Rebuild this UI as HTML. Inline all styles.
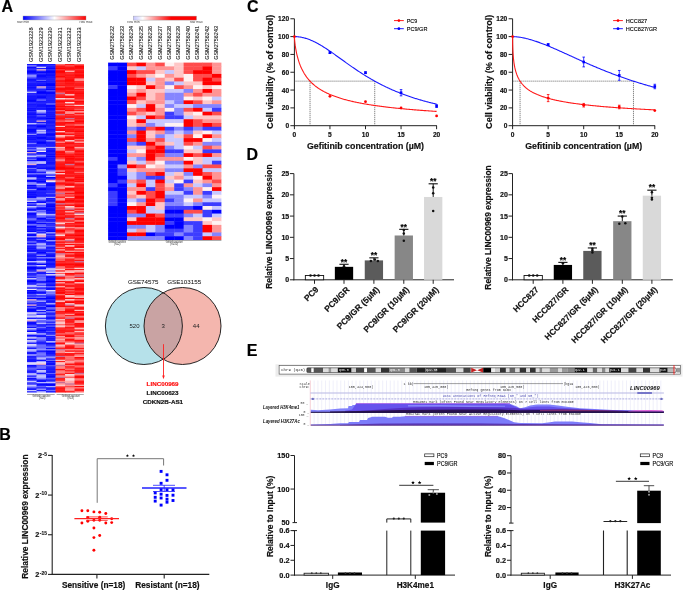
<!DOCTYPE html>
<html><head><meta charset="utf-8"><style>
html,body{margin:0;padding:0;background:#fff;}
svg{display:block;will-change:transform;font-family:"Liberation Sans",sans-serif;}

</style></head><body>
<svg font-family="Liberation Sans, sans-serif" width="685" height="590" viewBox="0 0 685 590">
<rect width="685" height="590" fill="#fff"/>
<text x="1.60" y="12.00" font-size="16" text-anchor="start" font-weight="bold" fill="#000"  stroke="#000" stroke-width="0.18">A</text>
<text x="-0.80" y="439.90" font-size="16" text-anchor="start" font-weight="bold" fill="#000"  stroke="#000" stroke-width="0.18">B</text>
<text x="247.00" y="12.40" font-size="16" text-anchor="start" font-weight="bold" fill="#000"  stroke="#000" stroke-width="0.18">C</text>
<text x="246.60" y="160.40" font-size="16" text-anchor="start" font-weight="bold" fill="#000"  stroke="#000" stroke-width="0.18">D</text>
<text x="246.70" y="355.70" font-size="16" text-anchor="start" font-weight="bold" fill="#000"  stroke="#000" stroke-width="0.18">E</text>
<defs><linearGradient id="g1" x1="0" x2="1" y1="0" y2="0"><stop offset="0" stop-color="#0000ff"/><stop offset="0.5" stop-color="#ffffff"/><stop offset="1" stop-color="#ff0000"/></linearGradient><linearGradient id="g2" x1="0" x2="1" y1="0" y2="0"><stop offset="0" stop-color="#c4c4ff"/><stop offset="0.15" stop-color="#ffffff"/><stop offset="0.6" stop-color="#ff0000"/><stop offset="1" stop-color="#ff0000"/></linearGradient><clipPath id="cl"><circle cx="143.9" cy="326" r="38.5"/></clipPath></defs>
<rect x="23.00" y="16.00" width="63.00" height="4.00" fill="url(#g1)" stroke="#999" stroke-width="0.4"/>
<text x="23.10" y="23.00" font-size="3.0" text-anchor="middle" font-weight="normal" fill="#444" textLength="12.4" lengthAdjust="spacingAndGlyphs">row min</text>
<text x="86.00" y="23.00" font-size="3.0" text-anchor="middle" font-weight="normal" fill="#444" textLength="13" lengthAdjust="spacingAndGlyphs">row max</text>
<text transform="translate(33.25,62.00) rotate(-90)" font-size="6.0" text-anchor="start" font-weight="normal" fill="#111" textLength="34.6" lengthAdjust="spacingAndGlyphs" stroke="#111" stroke-width="0.08">GSM1923228</text>
<text transform="translate(42.75,62.00) rotate(-90)" font-size="6.0" text-anchor="start" font-weight="normal" fill="#111" textLength="34.6" lengthAdjust="spacingAndGlyphs" stroke="#111" stroke-width="0.08">GSM1923229</text>
<text transform="translate(52.25,62.00) rotate(-90)" font-size="6.0" text-anchor="start" font-weight="normal" fill="#111" textLength="34.6" lengthAdjust="spacingAndGlyphs" stroke="#111" stroke-width="0.08">GSM1923230</text>
<text transform="translate(61.75,62.00) rotate(-90)" font-size="6.0" text-anchor="start" font-weight="normal" fill="#111" textLength="34.6" lengthAdjust="spacingAndGlyphs" stroke="#111" stroke-width="0.08">GSM1923231</text>
<text transform="translate(71.25,62.00) rotate(-90)" font-size="6.0" text-anchor="start" font-weight="normal" fill="#111" textLength="34.6" lengthAdjust="spacingAndGlyphs" stroke="#111" stroke-width="0.08">GSM1923232</text>
<text transform="translate(80.75,62.00) rotate(-90)" font-size="6.0" text-anchor="start" font-weight="normal" fill="#111" textLength="34.6" lengthAdjust="spacingAndGlyphs" stroke="#111" stroke-width="0.08">GSM1923233</text>
<rect x="27.00" y="64.00" width="57.00" height="328.50" fill="#fff" />
<rect x="27.00" y="64.00" width="9.90" height="1.71" fill="#1414ff" />
<rect x="36.50" y="64.00" width="9.90" height="1.71" fill="#1010ff" />
<rect x="46.00" y="64.00" width="9.90" height="1.71" fill="#1515ff" />
<rect x="55.50" y="64.00" width="9.90" height="1.71" fill="#ff6a6a" />
<rect x="65.00" y="64.00" width="9.90" height="1.71" fill="#ff1c1c" />
<rect x="74.50" y="64.00" width="9.50" height="1.71" fill="#ff5b5b" />
<rect x="27.00" y="65.31" width="9.90" height="1.71" fill="#7f7fff" />
<rect x="36.50" y="65.31" width="9.90" height="1.71" fill="#0101ff" />
<rect x="46.00" y="65.31" width="9.90" height="1.71" fill="#2222ff" />
<rect x="55.50" y="65.31" width="9.90" height="1.71" fill="#ff1616" />
<rect x="65.00" y="65.31" width="9.90" height="1.71" fill="#ff4747" />
<rect x="74.50" y="65.31" width="9.50" height="1.71" fill="#ff0202" />
<rect x="27.00" y="66.63" width="9.90" height="1.71" fill="#0808ff" />
<rect x="36.50" y="66.63" width="9.90" height="1.71" fill="#ddd8fa" />
<rect x="46.00" y="66.63" width="9.90" height="1.71" fill="#1d1dff" />
<rect x="55.50" y="66.63" width="9.90" height="1.71" fill="#ff1616" />
<rect x="65.00" y="66.63" width="9.90" height="1.71" fill="#ff1717" />
<rect x="74.50" y="66.63" width="9.50" height="1.71" fill="#ff0a0a" />
<rect x="27.00" y="67.94" width="9.90" height="1.71" fill="#2323ff" />
<rect x="36.50" y="67.94" width="9.90" height="1.71" fill="#1919ff" />
<rect x="46.00" y="67.94" width="9.90" height="1.71" fill="#0808ff" />
<rect x="55.50" y="67.94" width="9.90" height="1.71" fill="#ff0202" />
<rect x="65.00" y="67.94" width="9.90" height="1.71" fill="#ff0e0e" />
<rect x="74.50" y="67.94" width="9.50" height="1.71" fill="#ff0e0e" />
<rect x="27.00" y="69.26" width="9.90" height="1.71" fill="#1e1eff" />
<rect x="36.50" y="69.26" width="9.90" height="1.71" fill="#e6aac8" />
<rect x="46.00" y="69.26" width="9.90" height="1.71" fill="#2020ff" />
<rect x="55.50" y="69.26" width="9.90" height="1.71" fill="#ff2222" />
<rect x="65.00" y="69.26" width="9.90" height="1.71" fill="#ff0303" />
<rect x="74.50" y="69.26" width="9.50" height="1.71" fill="#ff1b1b" />
<rect x="27.00" y="70.57" width="9.90" height="1.71" fill="#0303ff" />
<rect x="36.50" y="70.57" width="9.90" height="1.71" fill="#2222ff" />
<rect x="46.00" y="70.57" width="9.90" height="1.71" fill="#0404ff" />
<rect x="55.50" y="70.57" width="9.90" height="1.71" fill="#ff0404" />
<rect x="65.00" y="70.57" width="9.90" height="1.71" fill="#ffbcbc" />
<rect x="74.50" y="70.57" width="9.50" height="1.71" fill="#ff1414" />
<rect x="27.00" y="71.88" width="9.90" height="1.71" fill="#0707ff" />
<rect x="36.50" y="71.88" width="9.90" height="1.71" fill="#0505ff" />
<rect x="46.00" y="71.88" width="9.90" height="1.71" fill="#0404ff" />
<rect x="55.50" y="71.88" width="9.90" height="1.71" fill="#ff0707" />
<rect x="65.00" y="71.88" width="9.90" height="1.71" fill="#ff2222" />
<rect x="74.50" y="71.88" width="9.50" height="1.71" fill="#ff0b0b" />
<rect x="27.00" y="73.20" width="9.90" height="1.71" fill="#0707ff" />
<rect x="36.50" y="73.20" width="9.90" height="1.71" fill="#1e1eff" />
<rect x="46.00" y="73.20" width="9.90" height="1.71" fill="#0404ff" />
<rect x="55.50" y="73.20" width="9.90" height="1.71" fill="#ff0707" />
<rect x="65.00" y="73.20" width="9.90" height="1.71" fill="#ff1b1b" />
<rect x="74.50" y="73.20" width="9.50" height="1.71" fill="#ff0a0a" />
<rect x="27.00" y="74.51" width="9.90" height="1.71" fill="#9191ff" />
<rect x="36.50" y="74.51" width="9.90" height="1.71" fill="#0909ff" />
<rect x="46.00" y="74.51" width="9.90" height="1.71" fill="#0d0dff" />
<rect x="55.50" y="74.51" width="9.90" height="1.71" fill="#ff2222" />
<rect x="65.00" y="74.51" width="9.90" height="1.71" fill="#ff1414" />
<rect x="74.50" y="74.51" width="9.50" height="1.71" fill="#ff0606" />
<rect x="27.00" y="75.83" width="9.90" height="1.71" fill="#8686ff" />
<rect x="36.50" y="75.83" width="9.90" height="1.71" fill="#0909ff" />
<rect x="46.00" y="75.83" width="9.90" height="1.71" fill="#1a1aff" />
<rect x="55.50" y="75.83" width="9.90" height="1.71" fill="#ff0707" />
<rect x="65.00" y="75.83" width="9.90" height="1.71" fill="#ff1f1f" />
<rect x="74.50" y="75.83" width="9.50" height="1.71" fill="#ff0f0f" />
<rect x="27.00" y="77.14" width="9.90" height="1.71" fill="#4949ff" />
<rect x="36.50" y="77.14" width="9.90" height="1.71" fill="#0808ff" />
<rect x="46.00" y="77.14" width="9.90" height="1.71" fill="#0909ff" />
<rect x="55.50" y="77.14" width="9.90" height="1.71" fill="#ff1515" />
<rect x="65.00" y="77.14" width="9.90" height="1.71" fill="#ff0606" />
<rect x="74.50" y="77.14" width="9.50" height="1.71" fill="#ff0202" />
<rect x="27.00" y="78.45" width="9.90" height="1.71" fill="#1414ff" />
<rect x="36.50" y="78.45" width="9.90" height="1.71" fill="#1616ff" />
<rect x="46.00" y="78.45" width="9.90" height="1.71" fill="#2020ff" />
<rect x="55.50" y="78.45" width="9.90" height="1.71" fill="#ff4747" />
<rect x="65.00" y="78.45" width="9.90" height="1.71" fill="#ff1010" />
<rect x="74.50" y="78.45" width="9.50" height="1.71" fill="#ff9797" />
<rect x="27.00" y="79.77" width="9.90" height="1.71" fill="#1414ff" />
<rect x="36.50" y="79.77" width="9.90" height="1.71" fill="#5f5fff" />
<rect x="46.00" y="79.77" width="9.90" height="1.71" fill="#2222ff" />
<rect x="55.50" y="79.77" width="9.90" height="1.71" fill="#ff1818" />
<rect x="65.00" y="79.77" width="9.90" height="1.71" fill="#ff0505" />
<rect x="74.50" y="79.77" width="9.50" height="1.71" fill="#ff8d8d" />
<rect x="27.00" y="81.08" width="9.90" height="1.71" fill="#1919ff" />
<rect x="36.50" y="81.08" width="9.90" height="1.71" fill="#0101ff" />
<rect x="46.00" y="81.08" width="9.90" height="1.71" fill="#1111ff" />
<rect x="55.50" y="81.08" width="9.90" height="1.71" fill="#ff0b0b" />
<rect x="65.00" y="81.08" width="9.90" height="1.71" fill="#ff0303" />
<rect x="74.50" y="81.08" width="9.50" height="1.71" fill="#ff1a1a" />
<rect x="27.00" y="82.40" width="9.90" height="1.71" fill="#1a1aff" />
<rect x="36.50" y="82.40" width="9.90" height="1.71" fill="#1c1cff" />
<rect x="46.00" y="82.40" width="9.90" height="1.71" fill="#0c0cff" />
<rect x="55.50" y="82.40" width="9.90" height="1.71" fill="#ff2020" />
<rect x="65.00" y="82.40" width="9.90" height="1.71" fill="#ff0f0f" />
<rect x="74.50" y="82.40" width="9.50" height="1.71" fill="#ff1e1e" />
<rect x="27.00" y="83.71" width="9.90" height="1.71" fill="#1616ff" />
<rect x="36.50" y="83.71" width="9.90" height="1.71" fill="#1414ff" />
<rect x="46.00" y="83.71" width="9.90" height="1.71" fill="#0303ff" />
<rect x="55.50" y="83.71" width="9.90" height="1.71" fill="#ff2323" />
<rect x="65.00" y="83.71" width="9.90" height="1.71" fill="#ff1919" />
<rect x="74.50" y="83.71" width="9.50" height="1.71" fill="#ff1a1a" />
<rect x="27.00" y="85.02" width="9.90" height="1.71" fill="#0f0fff" />
<rect x="36.50" y="85.02" width="9.90" height="1.71" fill="#0303ff" />
<rect x="46.00" y="85.02" width="9.90" height="1.71" fill="#0101ff" />
<rect x="55.50" y="85.02" width="9.90" height="1.71" fill="#ff1111" />
<rect x="65.00" y="85.02" width="9.90" height="1.71" fill="#ff1818" />
<rect x="74.50" y="85.02" width="9.50" height="1.71" fill="#ff1616" />
<rect x="27.00" y="86.34" width="9.90" height="1.71" fill="#0909ff" />
<rect x="36.50" y="86.34" width="9.90" height="1.71" fill="#e6aac8" />
<rect x="46.00" y="86.34" width="9.90" height="1.71" fill="#1818ff" />
<rect x="55.50" y="86.34" width="9.90" height="1.71" fill="#ff5252" />
<rect x="65.00" y="86.34" width="9.90" height="1.71" fill="#ff1717" />
<rect x="74.50" y="86.34" width="9.50" height="1.71" fill="#ff1f1f" />
<rect x="27.00" y="87.65" width="9.90" height="1.71" fill="#1717ff" />
<rect x="36.50" y="87.65" width="9.90" height="1.71" fill="#6464ff" />
<rect x="46.00" y="87.65" width="9.90" height="1.71" fill="#2020ff" />
<rect x="55.50" y="87.65" width="9.90" height="1.71" fill="#ff0d0d" />
<rect x="65.00" y="87.65" width="9.90" height="1.71" fill="#ff0b0b" />
<rect x="74.50" y="87.65" width="9.50" height="1.71" fill="#ff6969" />
<rect x="27.00" y="88.97" width="9.90" height="1.71" fill="#1e1eff" />
<rect x="36.50" y="88.97" width="9.90" height="1.71" fill="#2121ff" />
<rect x="46.00" y="88.97" width="9.90" height="1.71" fill="#0606ff" />
<rect x="55.50" y="88.97" width="9.90" height="1.71" fill="#ff0a0a" />
<rect x="65.00" y="88.97" width="9.90" height="1.71" fill="#ff0e0e" />
<rect x="74.50" y="88.97" width="9.50" height="1.71" fill="#ff1111" />
<rect x="27.00" y="90.28" width="9.90" height="1.71" fill="#1d1dff" />
<rect x="36.50" y="90.28" width="9.90" height="1.71" fill="#1010ff" />
<rect x="46.00" y="90.28" width="9.90" height="1.71" fill="#4848ff" />
<rect x="55.50" y="90.28" width="9.90" height="1.71" fill="#ff0101" />
<rect x="65.00" y="90.28" width="9.90" height="1.71" fill="#ff1414" />
<rect x="74.50" y="90.28" width="9.50" height="1.71" fill="#ff1c1c" />
<rect x="27.00" y="91.59" width="9.90" height="1.71" fill="#cecdfe" />
<rect x="36.50" y="91.59" width="9.90" height="1.71" fill="#0101ff" />
<rect x="46.00" y="91.59" width="9.90" height="1.71" fill="#0808ff" />
<rect x="55.50" y="91.59" width="9.90" height="1.71" fill="#ff4949" />
<rect x="65.00" y="91.59" width="9.90" height="1.71" fill="#ff1010" />
<rect x="74.50" y="91.59" width="9.50" height="1.71" fill="#ff1717" />
<rect x="27.00" y="92.91" width="9.90" height="1.71" fill="#2222ff" />
<rect x="36.50" y="92.91" width="9.90" height="1.71" fill="#0707ff" />
<rect x="46.00" y="92.91" width="9.90" height="1.71" fill="#0606ff" />
<rect x="55.50" y="92.91" width="9.90" height="1.71" fill="#c86e96" />
<rect x="65.00" y="92.91" width="9.90" height="1.71" fill="#ff1919" />
<rect x="74.50" y="92.91" width="9.50" height="1.71" fill="#ff0a0a" />
<rect x="27.00" y="94.22" width="9.90" height="1.71" fill="#1818ff" />
<rect x="36.50" y="94.22" width="9.90" height="1.71" fill="#1616ff" />
<rect x="46.00" y="94.22" width="9.90" height="1.71" fill="#0e0eff" />
<rect x="55.50" y="94.22" width="9.90" height="1.71" fill="#ff2020" />
<rect x="65.00" y="94.22" width="9.90" height="1.71" fill="#ffc4c4" />
<rect x="74.50" y="94.22" width="9.50" height="1.71" fill="#ff0505" />
<rect x="27.00" y="95.54" width="9.90" height="1.71" fill="#1616ff" />
<rect x="36.50" y="95.54" width="9.90" height="1.71" fill="#0d0dff" />
<rect x="46.00" y="95.54" width="9.90" height="1.71" fill="#1f1fff" />
<rect x="55.50" y="95.54" width="9.90" height="1.71" fill="#ff2121" />
<rect x="65.00" y="95.54" width="9.90" height="1.71" fill="#ff1717" />
<rect x="74.50" y="95.54" width="9.50" height="1.71" fill="#ff1919" />
<rect x="27.00" y="96.85" width="9.90" height="1.71" fill="#1616ff" />
<rect x="36.50" y="96.85" width="9.90" height="1.71" fill="#0707ff" />
<rect x="46.00" y="96.85" width="9.90" height="1.71" fill="#2222ff" />
<rect x="55.50" y="96.85" width="9.90" height="1.71" fill="#ff1313" />
<rect x="65.00" y="96.85" width="9.90" height="1.71" fill="#ff0b0b" />
<rect x="74.50" y="96.85" width="9.50" height="1.71" fill="#ff1e1e" />
<rect x="27.00" y="98.16" width="9.90" height="1.71" fill="#0303ff" />
<rect x="36.50" y="98.16" width="9.90" height="1.71" fill="#1313ff" />
<rect x="46.00" y="98.16" width="9.90" height="1.71" fill="#1111ff" />
<rect x="55.50" y="98.16" width="9.90" height="1.71" fill="#f9e4e8" />
<rect x="65.00" y="98.16" width="9.90" height="1.71" fill="#ffbcbc" />
<rect x="74.50" y="98.16" width="9.50" height="1.71" fill="#ff0c0c" />
<rect x="27.00" y="99.48" width="9.90" height="1.71" fill="#0505ff" />
<rect x="36.50" y="99.48" width="9.90" height="1.71" fill="#6a6aff" />
<rect x="46.00" y="99.48" width="9.90" height="1.71" fill="#1d1dff" />
<rect x="55.50" y="99.48" width="9.90" height="1.71" fill="#ff2121" />
<rect x="65.00" y="99.48" width="9.90" height="1.71" fill="#ff2121" />
<rect x="74.50" y="99.48" width="9.50" height="1.71" fill="#ff5555" />
<rect x="27.00" y="100.79" width="9.90" height="1.71" fill="#0a0aff" />
<rect x="36.50" y="100.79" width="9.90" height="1.71" fill="#1616ff" />
<rect x="46.00" y="100.79" width="9.90" height="1.71" fill="#1e1eff" />
<rect x="55.50" y="100.79" width="9.90" height="1.71" fill="#ff0b0b" />
<rect x="65.00" y="100.79" width="9.90" height="1.71" fill="#ff1e1e" />
<rect x="74.50" y="100.79" width="9.50" height="1.71" fill="#ff0707" />
<rect x="27.00" y="102.11" width="9.90" height="1.71" fill="#2222ff" />
<rect x="36.50" y="102.11" width="9.90" height="1.71" fill="#1414ff" />
<rect x="46.00" y="102.11" width="9.90" height="1.71" fill="#1313ff" />
<rect x="55.50" y="102.11" width="9.90" height="1.71" fill="#ff1515" />
<rect x="65.00" y="102.11" width="9.90" height="1.71" fill="#f8eaef" />
<rect x="74.50" y="102.11" width="9.50" height="1.71" fill="#ff0e0e" />
<rect x="27.00" y="103.42" width="9.90" height="1.71" fill="#1414ff" />
<rect x="36.50" y="103.42" width="9.90" height="1.71" fill="#1818ff" />
<rect x="46.00" y="103.42" width="9.90" height="1.71" fill="#6c6cff" />
<rect x="55.50" y="103.42" width="9.90" height="1.71" fill="#ff2121" />
<rect x="65.00" y="103.42" width="9.90" height="1.71" fill="#ff0909" />
<rect x="74.50" y="103.42" width="9.50" height="1.71" fill="#ff0404" />
<rect x="27.00" y="104.73" width="9.90" height="1.71" fill="#1d1dff" />
<rect x="36.50" y="104.73" width="9.90" height="1.71" fill="#1111ff" />
<rect x="46.00" y="104.73" width="9.90" height="1.71" fill="#0707ff" />
<rect x="55.50" y="104.73" width="9.90" height="1.71" fill="#ff2020" />
<rect x="65.00" y="104.73" width="9.90" height="1.71" fill="#ff7d7d" />
<rect x="74.50" y="104.73" width="9.50" height="1.71" fill="#fecfd0" />
<rect x="27.00" y="106.05" width="9.90" height="1.71" fill="#1818ff" />
<rect x="36.50" y="106.05" width="9.90" height="1.71" fill="#0c0cff" />
<rect x="46.00" y="106.05" width="9.90" height="1.71" fill="#0404ff" />
<rect x="55.50" y="106.05" width="9.90" height="1.71" fill="#ff0404" />
<rect x="65.00" y="106.05" width="9.90" height="1.71" fill="#ff0909" />
<rect x="74.50" y="106.05" width="9.50" height="1.71" fill="#ff1313" />
<rect x="27.00" y="107.36" width="9.90" height="1.71" fill="#0d0dff" />
<rect x="36.50" y="107.36" width="9.90" height="1.71" fill="#1313ff" />
<rect x="46.00" y="107.36" width="9.90" height="1.71" fill="#0707ff" />
<rect x="55.50" y="107.36" width="9.90" height="1.71" fill="#ff1616" />
<rect x="65.00" y="107.36" width="9.90" height="1.71" fill="#ff1e1e" />
<rect x="74.50" y="107.36" width="9.50" height="1.71" fill="#ff1e1e" />
<rect x="27.00" y="108.68" width="9.90" height="1.71" fill="#1a1aff" />
<rect x="36.50" y="108.68" width="9.90" height="1.71" fill="#2020ff" />
<rect x="46.00" y="108.68" width="9.90" height="1.71" fill="#0b0bff" />
<rect x="55.50" y="108.68" width="9.90" height="1.71" fill="#ff0808" />
<rect x="65.00" y="108.68" width="9.90" height="1.71" fill="#ff1f1f" />
<rect x="74.50" y="108.68" width="9.50" height="1.71" fill="#ff5757" />
<rect x="27.00" y="109.99" width="9.90" height="1.71" fill="#0909ff" />
<rect x="36.50" y="109.99" width="9.90" height="1.71" fill="#bebeff" />
<rect x="46.00" y="109.99" width="9.90" height="1.71" fill="#1c1cff" />
<rect x="55.50" y="109.99" width="9.90" height="1.71" fill="#ff6262" />
<rect x="65.00" y="109.99" width="9.90" height="1.71" fill="#ff0101" />
<rect x="74.50" y="109.99" width="9.50" height="1.71" fill="#ff1818" />
<rect x="27.00" y="111.30" width="9.90" height="1.71" fill="#2222ff" />
<rect x="36.50" y="111.30" width="9.90" height="1.71" fill="#aaaaff" />
<rect x="46.00" y="111.30" width="9.90" height="1.71" fill="#1212ff" />
<rect x="55.50" y="111.30" width="9.90" height="1.71" fill="#ff0707" />
<rect x="65.00" y="111.30" width="9.90" height="1.71" fill="#ff9292" />
<rect x="74.50" y="111.30" width="9.50" height="1.71" fill="#ffadad" />
<rect x="27.00" y="112.62" width="9.90" height="1.71" fill="#1414ff" />
<rect x="36.50" y="112.62" width="9.90" height="1.71" fill="#5353ff" />
<rect x="46.00" y="112.62" width="9.90" height="1.71" fill="#1d1dff" />
<rect x="55.50" y="112.62" width="9.90" height="1.71" fill="#ff2020" />
<rect x="65.00" y="112.62" width="9.90" height="1.71" fill="#ff9090" />
<rect x="74.50" y="112.62" width="9.50" height="1.71" fill="#ff1010" />
<rect x="27.00" y="113.93" width="9.90" height="1.71" fill="#0b0bff" />
<rect x="36.50" y="113.93" width="9.90" height="1.71" fill="#1212ff" />
<rect x="46.00" y="113.93" width="9.90" height="1.71" fill="#1515ff" />
<rect x="55.50" y="113.93" width="9.90" height="1.71" fill="#c86e96" />
<rect x="65.00" y="113.93" width="9.90" height="1.71" fill="#ff1e1e" />
<rect x="74.50" y="113.93" width="9.50" height="1.71" fill="#ff6666" />
<rect x="27.00" y="115.25" width="9.90" height="1.71" fill="#0e0eff" />
<rect x="36.50" y="115.25" width="9.90" height="1.71" fill="#5252ff" />
<rect x="46.00" y="115.25" width="9.90" height="1.71" fill="#0101ff" />
<rect x="55.50" y="115.25" width="9.90" height="1.71" fill="#ff1c1c" />
<rect x="65.00" y="115.25" width="9.90" height="1.71" fill="#ff1e1e" />
<rect x="74.50" y="115.25" width="9.50" height="1.71" fill="#ff0e0e" />
<rect x="27.00" y="116.56" width="9.90" height="1.71" fill="#1212ff" />
<rect x="36.50" y="116.56" width="9.90" height="1.71" fill="#1c1cff" />
<rect x="46.00" y="116.56" width="9.90" height="1.71" fill="#2020ff" />
<rect x="55.50" y="116.56" width="9.90" height="1.71" fill="#ff1b1b" />
<rect x="65.00" y="116.56" width="9.90" height="1.71" fill="#ff0e0e" />
<rect x="74.50" y="116.56" width="9.50" height="1.71" fill="#ff1f1f" />
<rect x="27.00" y="117.87" width="9.90" height="1.71" fill="#1b1bff" />
<rect x="36.50" y="117.87" width="9.90" height="1.71" fill="#0e0eff" />
<rect x="46.00" y="117.87" width="9.90" height="1.71" fill="#0202ff" />
<rect x="55.50" y="117.87" width="9.90" height="1.71" fill="#ff1010" />
<rect x="65.00" y="117.87" width="9.90" height="1.71" fill="#c86e96" />
<rect x="74.50" y="117.87" width="9.50" height="1.71" fill="#ff1616" />
<rect x="27.00" y="119.19" width="9.90" height="1.71" fill="#0808ff" />
<rect x="36.50" y="119.19" width="9.90" height="1.71" fill="#1717ff" />
<rect x="46.00" y="119.19" width="9.90" height="1.71" fill="#1717ff" />
<rect x="55.50" y="119.19" width="9.90" height="1.71" fill="#ff1313" />
<rect x="65.00" y="119.19" width="9.90" height="1.71" fill="#ff2323" />
<rect x="74.50" y="119.19" width="9.50" height="1.71" fill="#ff1919" />
<rect x="27.00" y="120.50" width="9.90" height="1.71" fill="#2222ff" />
<rect x="36.50" y="120.50" width="9.90" height="1.71" fill="#e6aac8" />
<rect x="46.00" y="120.50" width="9.90" height="1.71" fill="#1a1aff" />
<rect x="55.50" y="120.50" width="9.90" height="1.71" fill="#ff6262" />
<rect x="65.00" y="120.50" width="9.90" height="1.71" fill="#ff9898" />
<rect x="74.50" y="120.50" width="9.50" height="1.71" fill="#ff0303" />
<rect x="27.00" y="121.82" width="9.90" height="1.71" fill="#2020ff" />
<rect x="36.50" y="121.82" width="9.90" height="1.71" fill="#1212ff" />
<rect x="46.00" y="121.82" width="9.90" height="1.71" fill="#1414ff" />
<rect x="55.50" y="121.82" width="9.90" height="1.71" fill="#ff1616" />
<rect x="65.00" y="121.82" width="9.90" height="1.71" fill="#ff0303" />
<rect x="74.50" y="121.82" width="9.50" height="1.71" fill="#ff1b1b" />
<rect x="27.00" y="123.13" width="9.90" height="1.71" fill="#c4c4ff" />
<rect x="36.50" y="123.13" width="9.90" height="1.71" fill="#6767ff" />
<rect x="46.00" y="123.13" width="9.90" height="1.71" fill="#1111ff" />
<rect x="55.50" y="123.13" width="9.90" height="1.71" fill="#ff0202" />
<rect x="65.00" y="123.13" width="9.90" height="1.71" fill="#ff0f0f" />
<rect x="74.50" y="123.13" width="9.50" height="1.71" fill="#ff1515" />
<rect x="27.00" y="124.44" width="9.90" height="1.71" fill="#0a0aff" />
<rect x="36.50" y="124.44" width="9.90" height="1.71" fill="#1414ff" />
<rect x="46.00" y="124.44" width="9.90" height="1.71" fill="#1919ff" />
<rect x="55.50" y="124.44" width="9.90" height="1.71" fill="#ff0000" />
<rect x="65.00" y="124.44" width="9.90" height="1.71" fill="#ff4949" />
<rect x="74.50" y="124.44" width="9.50" height="1.71" fill="#ff7b7b" />
<rect x="27.00" y="125.76" width="9.90" height="1.71" fill="#1f1fff" />
<rect x="36.50" y="125.76" width="9.90" height="1.71" fill="#0202ff" />
<rect x="46.00" y="125.76" width="9.90" height="1.71" fill="#2121ff" />
<rect x="55.50" y="125.76" width="9.90" height="1.71" fill="#ffc2c2" />
<rect x="65.00" y="125.76" width="9.90" height="1.71" fill="#ff1111" />
<rect x="74.50" y="125.76" width="9.50" height="1.71" fill="#ff0909" />
<rect x="27.00" y="127.07" width="9.90" height="1.71" fill="#2121ff" />
<rect x="36.50" y="127.07" width="9.90" height="1.71" fill="#1010ff" />
<rect x="46.00" y="127.07" width="9.90" height="1.71" fill="#1d1dff" />
<rect x="55.50" y="127.07" width="9.90" height="1.71" fill="#ff0404" />
<rect x="65.00" y="127.07" width="9.90" height="1.71" fill="#ff1010" />
<rect x="74.50" y="127.07" width="9.50" height="1.71" fill="#ff0202" />
<rect x="27.00" y="128.39" width="9.90" height="1.71" fill="#0404ff" />
<rect x="36.50" y="128.39" width="9.90" height="1.71" fill="#1717ff" />
<rect x="46.00" y="128.39" width="9.90" height="1.71" fill="#0909ff" />
<rect x="55.50" y="128.39" width="9.90" height="1.71" fill="#ff0f0f" />
<rect x="65.00" y="128.39" width="9.90" height="1.71" fill="#ff1313" />
<rect x="74.50" y="128.39" width="9.50" height="1.71" fill="#ff2121" />
<rect x="27.00" y="129.70" width="9.90" height="1.71" fill="#0808ff" />
<rect x="36.50" y="129.70" width="9.90" height="1.71" fill="#c2c2ff" />
<rect x="46.00" y="129.70" width="9.90" height="1.71" fill="#1616ff" />
<rect x="55.50" y="129.70" width="9.90" height="1.71" fill="#ff0a0a" />
<rect x="65.00" y="129.70" width="9.90" height="1.71" fill="#ff1414" />
<rect x="74.50" y="129.70" width="9.50" height="1.71" fill="#ff1616" />
<rect x="27.00" y="131.01" width="9.90" height="1.71" fill="#0707ff" />
<rect x="36.50" y="131.01" width="9.90" height="1.71" fill="#8b8bff" />
<rect x="46.00" y="131.01" width="9.90" height="1.71" fill="#1f1fff" />
<rect x="55.50" y="131.01" width="9.90" height="1.71" fill="#ffcaca" />
<rect x="65.00" y="131.01" width="9.90" height="1.71" fill="#ff0f0f" />
<rect x="74.50" y="131.01" width="9.50" height="1.71" fill="#ff0404" />
<rect x="27.00" y="132.33" width="9.90" height="1.71" fill="#0303ff" />
<rect x="36.50" y="132.33" width="9.90" height="1.71" fill="#b5b5ff" />
<rect x="46.00" y="132.33" width="9.90" height="1.71" fill="#1616ff" />
<rect x="55.50" y="132.33" width="9.90" height="1.71" fill="#ff1111" />
<rect x="65.00" y="132.33" width="9.90" height="1.71" fill="#ff5e5e" />
<rect x="74.50" y="132.33" width="9.50" height="1.71" fill="#ff1d1d" />
<rect x="27.00" y="133.64" width="9.90" height="1.71" fill="#9393ff" />
<rect x="36.50" y="133.64" width="9.90" height="1.71" fill="#1616ff" />
<rect x="46.00" y="133.64" width="9.90" height="1.71" fill="#0707ff" />
<rect x="55.50" y="133.64" width="9.90" height="1.71" fill="#ff0909" />
<rect x="65.00" y="133.64" width="9.90" height="1.71" fill="#ff0d0d" />
<rect x="74.50" y="133.64" width="9.50" height="1.71" fill="#ff2323" />
<rect x="27.00" y="134.96" width="9.90" height="1.71" fill="#1313ff" />
<rect x="36.50" y="134.96" width="9.90" height="1.71" fill="#2020ff" />
<rect x="46.00" y="134.96" width="9.90" height="1.71" fill="#0d0dff" />
<rect x="55.50" y="134.96" width="9.90" height="1.71" fill="#ffc1c1" />
<rect x="65.00" y="134.96" width="9.90" height="1.71" fill="#ff9191" />
<rect x="74.50" y="134.96" width="9.50" height="1.71" fill="#ff1111" />
<rect x="27.00" y="136.27" width="9.90" height="1.71" fill="#0a0aff" />
<rect x="36.50" y="136.27" width="9.90" height="1.71" fill="#0303ff" />
<rect x="46.00" y="136.27" width="9.90" height="1.71" fill="#1717ff" />
<rect x="55.50" y="136.27" width="9.90" height="1.71" fill="#ff9e9e" />
<rect x="65.00" y="136.27" width="9.90" height="1.71" fill="#ff1818" />
<rect x="74.50" y="136.27" width="9.50" height="1.71" fill="#ff0505" />
<rect x="27.00" y="137.58" width="9.90" height="1.71" fill="#1919ff" />
<rect x="36.50" y="137.58" width="9.90" height="1.71" fill="#0404ff" />
<rect x="46.00" y="137.58" width="9.90" height="1.71" fill="#1414ff" />
<rect x="55.50" y="137.58" width="9.90" height="1.71" fill="#ff2121" />
<rect x="65.00" y="137.58" width="9.90" height="1.71" fill="#ff0f0f" />
<rect x="74.50" y="137.58" width="9.50" height="1.71" fill="#ff0b0b" />
<rect x="27.00" y="138.90" width="9.90" height="1.71" fill="#0e0eff" />
<rect x="36.50" y="138.90" width="9.90" height="1.71" fill="#1f1fff" />
<rect x="46.00" y="138.90" width="9.90" height="1.71" fill="#0d0dff" />
<rect x="55.50" y="138.90" width="9.90" height="1.71" fill="#ff0d0d" />
<rect x="65.00" y="138.90" width="9.90" height="1.71" fill="#ff0e0e" />
<rect x="74.50" y="138.90" width="9.50" height="1.71" fill="#ff6d6d" />
<rect x="27.00" y="140.21" width="9.90" height="1.71" fill="#1313ff" />
<rect x="36.50" y="140.21" width="9.90" height="1.71" fill="#1414ff" />
<rect x="46.00" y="140.21" width="9.90" height="1.71" fill="#7b7bff" />
<rect x="55.50" y="140.21" width="9.90" height="1.71" fill="#ff0a0a" />
<rect x="65.00" y="140.21" width="9.90" height="1.71" fill="#fbdadd" />
<rect x="74.50" y="140.21" width="9.50" height="1.71" fill="#ff1414" />
<rect x="27.00" y="141.53" width="9.90" height="1.71" fill="#1717ff" />
<rect x="36.50" y="141.53" width="9.90" height="1.71" fill="#0202ff" />
<rect x="46.00" y="141.53" width="9.90" height="1.71" fill="#1c1cff" />
<rect x="55.50" y="141.53" width="9.90" height="1.71" fill="#ff9191" />
<rect x="65.00" y="141.53" width="9.90" height="1.71" fill="#ff1f1f" />
<rect x="74.50" y="141.53" width="9.50" height="1.71" fill="#ffb2b2" />
<rect x="27.00" y="142.84" width="9.90" height="1.71" fill="#7a7aff" />
<rect x="36.50" y="142.84" width="9.90" height="1.71" fill="#0909ff" />
<rect x="46.00" y="142.84" width="9.90" height="1.71" fill="#1b1bff" />
<rect x="55.50" y="142.84" width="9.90" height="1.71" fill="#ff1b1b" />
<rect x="65.00" y="142.84" width="9.90" height="1.71" fill="#ff0c0c" />
<rect x="74.50" y="142.84" width="9.50" height="1.71" fill="#ff1818" />
<rect x="27.00" y="144.15" width="9.90" height="1.71" fill="#1313ff" />
<rect x="36.50" y="144.15" width="9.90" height="1.71" fill="#1919ff" />
<rect x="46.00" y="144.15" width="9.90" height="1.71" fill="#0e0eff" />
<rect x="55.50" y="144.15" width="9.90" height="1.71" fill="#ff1717" />
<rect x="65.00" y="144.15" width="9.90" height="1.71" fill="#ff1c1c" />
<rect x="74.50" y="144.15" width="9.50" height="1.71" fill="#ff1f1f" />
<rect x="27.00" y="145.47" width="9.90" height="1.71" fill="#1616ff" />
<rect x="36.50" y="145.47" width="9.90" height="1.71" fill="#1919ff" />
<rect x="46.00" y="145.47" width="9.90" height="1.71" fill="#0f0fff" />
<rect x="55.50" y="145.47" width="9.90" height="1.71" fill="#ff0505" />
<rect x="65.00" y="145.47" width="9.90" height="1.71" fill="#ff2323" />
<rect x="74.50" y="145.47" width="9.50" height="1.71" fill="#ff0606" />
<rect x="27.00" y="146.78" width="9.90" height="1.71" fill="#6464ff" />
<rect x="36.50" y="146.78" width="9.90" height="1.71" fill="#8a8aff" />
<rect x="46.00" y="146.78" width="9.90" height="1.71" fill="#9f9fff" />
<rect x="55.50" y="146.78" width="9.90" height="1.71" fill="#ffb3b3" />
<rect x="65.00" y="146.78" width="9.90" height="1.71" fill="#ff0606" />
<rect x="74.50" y="146.78" width="9.50" height="1.71" fill="#ffa8a8" />
<rect x="27.00" y="148.10" width="9.90" height="1.71" fill="#2020ff" />
<rect x="36.50" y="148.10" width="9.90" height="1.71" fill="#cdccfe" />
<rect x="46.00" y="148.10" width="9.90" height="1.71" fill="#0808ff" />
<rect x="55.50" y="148.10" width="9.90" height="1.71" fill="#ff7878" />
<rect x="65.00" y="148.10" width="9.90" height="1.71" fill="#ff0808" />
<rect x="74.50" y="148.10" width="9.50" height="1.71" fill="#ff5a5a" />
<rect x="27.00" y="149.41" width="9.90" height="1.71" fill="#7b7bff" />
<rect x="36.50" y="149.41" width="9.90" height="1.71" fill="#6c6cff" />
<rect x="46.00" y="149.41" width="9.90" height="1.71" fill="#1111ff" />
<rect x="55.50" y="149.41" width="9.90" height="1.71" fill="#ff8484" />
<rect x="65.00" y="149.41" width="9.90" height="1.71" fill="#ff0c0c" />
<rect x="74.50" y="149.41" width="9.50" height="1.71" fill="#ff2121" />
<rect x="27.00" y="150.72" width="9.90" height="1.71" fill="#0808ff" />
<rect x="36.50" y="150.72" width="9.90" height="1.71" fill="#f3e9f6" />
<rect x="46.00" y="150.72" width="9.90" height="1.71" fill="#0d0dff" />
<rect x="55.50" y="150.72" width="9.90" height="1.71" fill="#ff1212" />
<rect x="65.00" y="150.72" width="9.90" height="1.71" fill="#ff8b8b" />
<rect x="74.50" y="150.72" width="9.50" height="1.71" fill="#ff0808" />
<rect x="27.00" y="152.04" width="9.90" height="1.71" fill="#e6aac8" />
<rect x="36.50" y="152.04" width="9.90" height="1.71" fill="#0d0dff" />
<rect x="46.00" y="152.04" width="9.90" height="1.71" fill="#1919ff" />
<rect x="55.50" y="152.04" width="9.90" height="1.71" fill="#ff0606" />
<rect x="65.00" y="152.04" width="9.90" height="1.71" fill="#ff5d5d" />
<rect x="74.50" y="152.04" width="9.50" height="1.71" fill="#ff1e1e" />
<rect x="27.00" y="153.35" width="9.90" height="1.71" fill="#1616ff" />
<rect x="36.50" y="153.35" width="9.90" height="1.71" fill="#0909ff" />
<rect x="46.00" y="153.35" width="9.90" height="1.71" fill="#0505ff" />
<rect x="55.50" y="153.35" width="9.90" height="1.71" fill="#ff0000" />
<rect x="65.00" y="153.35" width="9.90" height="1.71" fill="#ff1e1e" />
<rect x="74.50" y="153.35" width="9.50" height="1.71" fill="#ff0303" />
<rect x="27.00" y="154.67" width="9.90" height="1.71" fill="#7878ff" />
<rect x="36.50" y="154.67" width="9.90" height="1.71" fill="#a9a9ff" />
<rect x="46.00" y="154.67" width="9.90" height="1.71" fill="#2121ff" />
<rect x="55.50" y="154.67" width="9.90" height="1.71" fill="#ff1e1e" />
<rect x="65.00" y="154.67" width="9.90" height="1.71" fill="#ff1c1c" />
<rect x="74.50" y="154.67" width="9.50" height="1.71" fill="#ff2020" />
<rect x="27.00" y="155.98" width="9.90" height="1.71" fill="#bebeff" />
<rect x="36.50" y="155.98" width="9.90" height="1.71" fill="#6c6cff" />
<rect x="46.00" y="155.98" width="9.90" height="1.71" fill="#0606ff" />
<rect x="55.50" y="155.98" width="9.90" height="1.71" fill="#ff0b0b" />
<rect x="65.00" y="155.98" width="9.90" height="1.71" fill="#ff0303" />
<rect x="74.50" y="155.98" width="9.50" height="1.71" fill="#ff1010" />
<rect x="27.00" y="157.29" width="9.90" height="1.71" fill="#0d0dff" />
<rect x="36.50" y="157.29" width="9.90" height="1.71" fill="#0404ff" />
<rect x="46.00" y="157.29" width="9.90" height="1.71" fill="#1010ff" />
<rect x="55.50" y="157.29" width="9.90" height="1.71" fill="#ff1d1d" />
<rect x="65.00" y="157.29" width="9.90" height="1.71" fill="#ff0000" />
<rect x="74.50" y="157.29" width="9.50" height="1.71" fill="#ff1919" />
<rect x="27.00" y="158.61" width="9.90" height="1.71" fill="#6d6dff" />
<rect x="36.50" y="158.61" width="9.90" height="1.71" fill="#0000ff" />
<rect x="46.00" y="158.61" width="9.90" height="1.71" fill="#1c1cff" />
<rect x="55.50" y="158.61" width="9.90" height="1.71" fill="#ff7171" />
<rect x="65.00" y="158.61" width="9.90" height="1.71" fill="#ff0d0d" />
<rect x="74.50" y="158.61" width="9.50" height="1.71" fill="#ff0a0a" />
<rect x="27.00" y="159.92" width="9.90" height="1.71" fill="#0e0eff" />
<rect x="36.50" y="159.92" width="9.90" height="1.71" fill="#0909ff" />
<rect x="46.00" y="159.92" width="9.90" height="1.71" fill="#1a1aff" />
<rect x="55.50" y="159.92" width="9.90" height="1.71" fill="#ff8888" />
<rect x="65.00" y="159.92" width="9.90" height="1.71" fill="#ff1919" />
<rect x="74.50" y="159.92" width="9.50" height="1.71" fill="#ff1d1d" />
<rect x="27.00" y="161.24" width="9.90" height="1.71" fill="#9494ff" />
<rect x="36.50" y="161.24" width="9.90" height="1.71" fill="#b5b5ff" />
<rect x="46.00" y="161.24" width="9.90" height="1.71" fill="#0606ff" />
<rect x="55.50" y="161.24" width="9.90" height="1.71" fill="#ff1d1d" />
<rect x="65.00" y="161.24" width="9.90" height="1.71" fill="#ff0303" />
<rect x="74.50" y="161.24" width="9.50" height="1.71" fill="#ff5151" />
<rect x="27.00" y="162.55" width="9.90" height="1.71" fill="#a4a4ff" />
<rect x="36.50" y="162.55" width="9.90" height="1.71" fill="#c3c3ff" />
<rect x="46.00" y="162.55" width="9.90" height="1.71" fill="#1212ff" />
<rect x="55.50" y="162.55" width="9.90" height="1.71" fill="#ff1b1b" />
<rect x="65.00" y="162.55" width="9.90" height="1.71" fill="#ff0e0e" />
<rect x="74.50" y="162.55" width="9.50" height="1.71" fill="#ff0e0e" />
<rect x="27.00" y="163.86" width="9.90" height="1.71" fill="#e6aac8" />
<rect x="36.50" y="163.86" width="9.90" height="1.71" fill="#1818ff" />
<rect x="46.00" y="163.86" width="9.90" height="1.71" fill="#1c1cff" />
<rect x="55.50" y="163.86" width="9.90" height="1.71" fill="#ff1515" />
<rect x="65.00" y="163.86" width="9.90" height="1.71" fill="#c86e96" />
<rect x="74.50" y="163.86" width="9.50" height="1.71" fill="#ff0c0c" />
<rect x="27.00" y="165.18" width="9.90" height="1.71" fill="#0404ff" />
<rect x="36.50" y="165.18" width="9.90" height="1.71" fill="#1212ff" />
<rect x="46.00" y="165.18" width="9.90" height="1.71" fill="#1d1dff" />
<rect x="55.50" y="165.18" width="9.90" height="1.71" fill="#ff0606" />
<rect x="65.00" y="165.18" width="9.90" height="1.71" fill="#ff2020" />
<rect x="74.50" y="165.18" width="9.50" height="1.71" fill="#ff0c0c" />
<rect x="27.00" y="166.49" width="9.90" height="1.71" fill="#0505ff" />
<rect x="36.50" y="166.49" width="9.90" height="1.71" fill="#2323ff" />
<rect x="46.00" y="166.49" width="9.90" height="1.71" fill="#1919ff" />
<rect x="55.50" y="166.49" width="9.90" height="1.71" fill="#ff0707" />
<rect x="65.00" y="166.49" width="9.90" height="1.71" fill="#ff1616" />
<rect x="74.50" y="166.49" width="9.50" height="1.71" fill="#ff4c4c" />
<rect x="27.00" y="167.81" width="9.90" height="1.71" fill="#6e6eff" />
<rect x="36.50" y="167.81" width="9.90" height="1.71" fill="#0c0cff" />
<rect x="46.00" y="167.81" width="9.90" height="1.71" fill="#0d0dff" />
<rect x="55.50" y="167.81" width="9.90" height="1.71" fill="#ff0404" />
<rect x="65.00" y="167.81" width="9.90" height="1.71" fill="#ff0505" />
<rect x="74.50" y="167.81" width="9.50" height="1.71" fill="#ff1313" />
<rect x="27.00" y="169.12" width="9.90" height="1.71" fill="#1414ff" />
<rect x="36.50" y="169.12" width="9.90" height="1.71" fill="#8686ff" />
<rect x="46.00" y="169.12" width="9.90" height="1.71" fill="#1d1dff" />
<rect x="55.50" y="169.12" width="9.90" height="1.71" fill="#ff0404" />
<rect x="65.00" y="169.12" width="9.90" height="1.71" fill="#ff0a0a" />
<rect x="74.50" y="169.12" width="9.50" height="1.71" fill="#ff0808" />
<rect x="27.00" y="170.43" width="9.90" height="1.71" fill="#1d1dff" />
<rect x="36.50" y="170.43" width="9.90" height="1.71" fill="#6c6cff" />
<rect x="46.00" y="170.43" width="9.90" height="1.71" fill="#8e8eff" />
<rect x="55.50" y="170.43" width="9.90" height="1.71" fill="#ff8b8b" />
<rect x="65.00" y="170.43" width="9.90" height="1.71" fill="#ff1717" />
<rect x="74.50" y="170.43" width="9.50" height="1.71" fill="#ff1717" />
<rect x="27.00" y="171.75" width="9.90" height="1.71" fill="#0d0dff" />
<rect x="36.50" y="171.75" width="9.90" height="1.71" fill="#1c1cff" />
<rect x="46.00" y="171.75" width="9.90" height="1.71" fill="#d1cffd" />
<rect x="55.50" y="171.75" width="9.90" height="1.71" fill="#ff0505" />
<rect x="65.00" y="171.75" width="9.90" height="1.71" fill="#ff1414" />
<rect x="74.50" y="171.75" width="9.50" height="1.71" fill="#ff6a6a" />
<rect x="27.00" y="173.06" width="9.90" height="1.71" fill="#6e6eff" />
<rect x="36.50" y="173.06" width="9.90" height="1.71" fill="#7373ff" />
<rect x="46.00" y="173.06" width="9.90" height="1.71" fill="#b4b4ff" />
<rect x="55.50" y="173.06" width="9.90" height="1.71" fill="#ffc6c6" />
<rect x="65.00" y="173.06" width="9.90" height="1.71" fill="#ff1010" />
<rect x="74.50" y="173.06" width="9.50" height="1.71" fill="#ff1616" />
<rect x="27.00" y="174.38" width="9.90" height="1.71" fill="#1b1bff" />
<rect x="36.50" y="174.38" width="9.90" height="1.71" fill="#1111ff" />
<rect x="46.00" y="174.38" width="9.90" height="1.71" fill="#1d1dff" />
<rect x="55.50" y="174.38" width="9.90" height="1.71" fill="#ff0e0e" />
<rect x="65.00" y="174.38" width="9.90" height="1.71" fill="#ff1414" />
<rect x="74.50" y="174.38" width="9.50" height="1.71" fill="#ff1212" />
<rect x="27.00" y="175.69" width="9.90" height="1.71" fill="#0f0fff" />
<rect x="36.50" y="175.69" width="9.90" height="1.71" fill="#0b0bff" />
<rect x="46.00" y="175.69" width="9.90" height="1.71" fill="#b8b8ff" />
<rect x="55.50" y="175.69" width="9.90" height="1.71" fill="#ff1a1a" />
<rect x="65.00" y="175.69" width="9.90" height="1.71" fill="#ff1a1a" />
<rect x="74.50" y="175.69" width="9.50" height="1.71" fill="#ff1515" />
<rect x="27.00" y="177.00" width="9.90" height="1.71" fill="#9393ff" />
<rect x="36.50" y="177.00" width="9.90" height="1.71" fill="#1212ff" />
<rect x="46.00" y="177.00" width="9.90" height="1.71" fill="#0202ff" />
<rect x="55.50" y="177.00" width="9.90" height="1.71" fill="#ff1212" />
<rect x="65.00" y="177.00" width="9.90" height="1.71" fill="#ff5b5b" />
<rect x="74.50" y="177.00" width="9.50" height="1.71" fill="#ff0808" />
<rect x="27.00" y="178.32" width="9.90" height="1.71" fill="#c3c3ff" />
<rect x="36.50" y="178.32" width="9.90" height="1.71" fill="#1717ff" />
<rect x="46.00" y="178.32" width="9.90" height="1.71" fill="#0f0fff" />
<rect x="55.50" y="178.32" width="9.90" height="1.71" fill="#ff0808" />
<rect x="65.00" y="178.32" width="9.90" height="1.71" fill="#ff1414" />
<rect x="74.50" y="178.32" width="9.50" height="1.71" fill="#ff0303" />
<rect x="27.00" y="179.63" width="9.90" height="1.71" fill="#0404ff" />
<rect x="36.50" y="179.63" width="9.90" height="1.71" fill="#2121ff" />
<rect x="46.00" y="179.63" width="9.90" height="1.71" fill="#e6aac8" />
<rect x="55.50" y="179.63" width="9.90" height="1.71" fill="#ff5b5b" />
<rect x="65.00" y="179.63" width="9.90" height="1.71" fill="#ff0202" />
<rect x="74.50" y="179.63" width="9.50" height="1.71" fill="#ff1d1d" />
<rect x="27.00" y="180.95" width="9.90" height="1.71" fill="#0c0cff" />
<rect x="36.50" y="180.95" width="9.90" height="1.71" fill="#0202ff" />
<rect x="46.00" y="180.95" width="9.90" height="1.71" fill="#f0e7f6" />
<rect x="55.50" y="180.95" width="9.90" height="1.71" fill="#ff6969" />
<rect x="65.00" y="180.95" width="9.90" height="1.71" fill="#ff2222" />
<rect x="74.50" y="180.95" width="9.50" height="1.71" fill="#ff0707" />
<rect x="27.00" y="182.26" width="9.90" height="1.71" fill="#8787ff" />
<rect x="36.50" y="182.26" width="9.90" height="1.71" fill="#0707ff" />
<rect x="46.00" y="182.26" width="9.90" height="1.71" fill="#0c0cff" />
<rect x="55.50" y="182.26" width="9.90" height="1.71" fill="#ff0606" />
<rect x="65.00" y="182.26" width="9.90" height="1.71" fill="#ff2323" />
<rect x="74.50" y="182.26" width="9.50" height="1.71" fill="#ff7272" />
<rect x="27.00" y="183.57" width="9.90" height="1.71" fill="#8484ff" />
<rect x="36.50" y="183.57" width="9.90" height="1.71" fill="#cdccfe" />
<rect x="46.00" y="183.57" width="9.90" height="1.71" fill="#0b0bff" />
<rect x="55.50" y="183.57" width="9.90" height="1.71" fill="#ff1e1e" />
<rect x="65.00" y="183.57" width="9.90" height="1.71" fill="#ff0505" />
<rect x="74.50" y="183.57" width="9.50" height="1.71" fill="#ff2121" />
<rect x="27.00" y="184.89" width="9.90" height="1.71" fill="#0303ff" />
<rect x="36.50" y="184.89" width="9.90" height="1.71" fill="#5c5cff" />
<rect x="46.00" y="184.89" width="9.90" height="1.71" fill="#0707ff" />
<rect x="55.50" y="184.89" width="9.90" height="1.71" fill="#ff5656" />
<rect x="65.00" y="184.89" width="9.90" height="1.71" fill="#ff1c1c" />
<rect x="74.50" y="184.89" width="9.50" height="1.71" fill="#ff1717" />
<rect x="27.00" y="186.20" width="9.90" height="1.71" fill="#1515ff" />
<rect x="36.50" y="186.20" width="9.90" height="1.71" fill="#5b5bff" />
<rect x="46.00" y="186.20" width="9.90" height="1.71" fill="#1717ff" />
<rect x="55.50" y="186.20" width="9.90" height="1.71" fill="#ff7373" />
<rect x="65.00" y="186.20" width="9.90" height="1.71" fill="#ffc7c7" />
<rect x="74.50" y="186.20" width="9.50" height="1.71" fill="#ff1212" />
<rect x="27.00" y="187.52" width="9.90" height="1.71" fill="#0202ff" />
<rect x="36.50" y="187.52" width="9.90" height="1.71" fill="#0a0aff" />
<rect x="46.00" y="187.52" width="9.90" height="1.71" fill="#1c1cff" />
<rect x="55.50" y="187.52" width="9.90" height="1.71" fill="#ff9d9d" />
<rect x="65.00" y="187.52" width="9.90" height="1.71" fill="#ff0909" />
<rect x="74.50" y="187.52" width="9.50" height="1.71" fill="#ff1313" />
<rect x="27.00" y="188.83" width="9.90" height="1.71" fill="#8585ff" />
<rect x="36.50" y="188.83" width="9.90" height="1.71" fill="#0101ff" />
<rect x="46.00" y="188.83" width="9.90" height="1.71" fill="#1a1aff" />
<rect x="55.50" y="188.83" width="9.90" height="1.71" fill="#ff2121" />
<rect x="65.00" y="188.83" width="9.90" height="1.71" fill="#ff0606" />
<rect x="74.50" y="188.83" width="9.50" height="1.71" fill="#ff1717" />
<rect x="27.00" y="190.14" width="9.90" height="1.71" fill="#1717ff" />
<rect x="36.50" y="190.14" width="9.90" height="1.71" fill="#1212ff" />
<rect x="46.00" y="190.14" width="9.90" height="1.71" fill="#1e1eff" />
<rect x="55.50" y="190.14" width="9.90" height="1.71" fill="#ff1212" />
<rect x="65.00" y="190.14" width="9.90" height="1.71" fill="#ff0606" />
<rect x="74.50" y="190.14" width="9.50" height="1.71" fill="#ff0606" />
<rect x="27.00" y="191.46" width="9.90" height="1.71" fill="#0808ff" />
<rect x="36.50" y="191.46" width="9.90" height="1.71" fill="#1b1bff" />
<rect x="46.00" y="191.46" width="9.90" height="1.71" fill="#1c1cff" />
<rect x="55.50" y="191.46" width="9.90" height="1.71" fill="#ff6868" />
<rect x="65.00" y="191.46" width="9.90" height="1.71" fill="#ff6f6f" />
<rect x="74.50" y="191.46" width="9.50" height="1.71" fill="#ff0101" />
<rect x="27.00" y="192.77" width="9.90" height="1.71" fill="#1919ff" />
<rect x="36.50" y="192.77" width="9.90" height="1.71" fill="#1f1fff" />
<rect x="46.00" y="192.77" width="9.90" height="1.71" fill="#5151ff" />
<rect x="55.50" y="192.77" width="9.90" height="1.71" fill="#c86e96" />
<rect x="65.00" y="192.77" width="9.90" height="1.71" fill="#ff0f0f" />
<rect x="74.50" y="192.77" width="9.50" height="1.71" fill="#ff0909" />
<rect x="27.00" y="194.09" width="9.90" height="1.71" fill="#0303ff" />
<rect x="36.50" y="194.09" width="9.90" height="1.71" fill="#1414ff" />
<rect x="46.00" y="194.09" width="9.90" height="1.71" fill="#1c1cff" />
<rect x="55.50" y="194.09" width="9.90" height="1.71" fill="#ff5050" />
<rect x="65.00" y="194.09" width="9.90" height="1.71" fill="#ff4949" />
<rect x="74.50" y="194.09" width="9.50" height="1.71" fill="#ff1616" />
<rect x="27.00" y="195.40" width="9.90" height="1.71" fill="#0909ff" />
<rect x="36.50" y="195.40" width="9.90" height="1.71" fill="#0303ff" />
<rect x="46.00" y="195.40" width="9.90" height="1.71" fill="#0606ff" />
<rect x="55.50" y="195.40" width="9.90" height="1.71" fill="#ff5151" />
<rect x="65.00" y="195.40" width="9.90" height="1.71" fill="#ff1d1d" />
<rect x="74.50" y="195.40" width="9.50" height="1.71" fill="#ff0202" />
<rect x="27.00" y="196.71" width="9.90" height="1.71" fill="#0d0dff" />
<rect x="36.50" y="196.71" width="9.90" height="1.71" fill="#8a8aff" />
<rect x="46.00" y="196.71" width="9.90" height="1.71" fill="#a9a9ff" />
<rect x="55.50" y="196.71" width="9.90" height="1.71" fill="#ff2323" />
<rect x="65.00" y="196.71" width="9.90" height="1.71" fill="#ffa7a7" />
<rect x="74.50" y="196.71" width="9.50" height="1.71" fill="#ff0101" />
<rect x="27.00" y="198.03" width="9.90" height="1.71" fill="#8484ff" />
<rect x="36.50" y="198.03" width="9.90" height="1.71" fill="#a4a4ff" />
<rect x="46.00" y="198.03" width="9.90" height="1.71" fill="#0f0fff" />
<rect x="55.50" y="198.03" width="9.90" height="1.71" fill="#ff8e8e" />
<rect x="65.00" y="198.03" width="9.90" height="1.71" fill="#ff1b1b" />
<rect x="74.50" y="198.03" width="9.50" height="1.71" fill="#ff0808" />
<rect x="27.00" y="199.34" width="9.90" height="1.71" fill="#6d6dff" />
<rect x="36.50" y="199.34" width="9.90" height="1.71" fill="#6666ff" />
<rect x="46.00" y="199.34" width="9.90" height="1.71" fill="#0d0dff" />
<rect x="55.50" y="199.34" width="9.90" height="1.71" fill="#ff8b8b" />
<rect x="65.00" y="199.34" width="9.90" height="1.71" fill="#ff0101" />
<rect x="74.50" y="199.34" width="9.50" height="1.71" fill="#ff1717" />
<rect x="27.00" y="200.66" width="9.90" height="1.71" fill="#d7d4fc" />
<rect x="36.50" y="200.66" width="9.90" height="1.71" fill="#1e1eff" />
<rect x="46.00" y="200.66" width="9.90" height="1.71" fill="#1f1fff" />
<rect x="55.50" y="200.66" width="9.90" height="1.71" fill="#ff0e0e" />
<rect x="65.00" y="200.66" width="9.90" height="1.71" fill="#ff0d0d" />
<rect x="74.50" y="200.66" width="9.50" height="1.71" fill="#ff0808" />
<rect x="27.00" y="201.97" width="9.90" height="1.71" fill="#0606ff" />
<rect x="36.50" y="201.97" width="9.90" height="1.71" fill="#0606ff" />
<rect x="46.00" y="201.97" width="9.90" height="1.71" fill="#5555ff" />
<rect x="55.50" y="201.97" width="9.90" height="1.71" fill="#ff0b0b" />
<rect x="65.00" y="201.97" width="9.90" height="1.71" fill="#ff2323" />
<rect x="74.50" y="201.97" width="9.50" height="1.71" fill="#ff1e1e" />
<rect x="27.00" y="203.28" width="9.90" height="1.71" fill="#6161ff" />
<rect x="36.50" y="203.28" width="9.90" height="1.71" fill="#e7e0f8" />
<rect x="46.00" y="203.28" width="9.90" height="1.71" fill="#0a0aff" />
<rect x="55.50" y="203.28" width="9.90" height="1.71" fill="#c86e96" />
<rect x="65.00" y="203.28" width="9.90" height="1.71" fill="#ff5858" />
<rect x="74.50" y="203.28" width="9.50" height="1.71" fill="#ff2020" />
<rect x="27.00" y="204.60" width="9.90" height="1.71" fill="#0909ff" />
<rect x="36.50" y="204.60" width="9.90" height="1.71" fill="#5151ff" />
<rect x="46.00" y="204.60" width="9.90" height="1.71" fill="#0d0dff" />
<rect x="55.50" y="204.60" width="9.90" height="1.71" fill="#ff1919" />
<rect x="65.00" y="204.60" width="9.90" height="1.71" fill="#ff0101" />
<rect x="74.50" y="204.60" width="9.50" height="1.71" fill="#ff0d0d" />
<rect x="27.00" y="205.91" width="9.90" height="1.71" fill="#c1c1ff" />
<rect x="36.50" y="205.91" width="9.90" height="1.71" fill="#7c7cff" />
<rect x="46.00" y="205.91" width="9.90" height="1.71" fill="#0202ff" />
<rect x="55.50" y="205.91" width="9.90" height="1.71" fill="#ff5757" />
<rect x="65.00" y="205.91" width="9.90" height="1.71" fill="#fecdce" />
<rect x="74.50" y="205.91" width="9.50" height="1.71" fill="#ff0101" />
<rect x="27.00" y="207.23" width="9.90" height="1.71" fill="#6464ff" />
<rect x="36.50" y="207.23" width="9.90" height="1.71" fill="#0505ff" />
<rect x="46.00" y="207.23" width="9.90" height="1.71" fill="#0909ff" />
<rect x="55.50" y="207.23" width="9.90" height="1.71" fill="#ff1717" />
<rect x="65.00" y="207.23" width="9.90" height="1.71" fill="#ff9898" />
<rect x="74.50" y="207.23" width="9.50" height="1.71" fill="#ff7878" />
<rect x="27.00" y="208.54" width="9.90" height="1.71" fill="#0e0eff" />
<rect x="36.50" y="208.54" width="9.90" height="1.71" fill="#0808ff" />
<rect x="46.00" y="208.54" width="9.90" height="1.71" fill="#0c0cff" />
<rect x="55.50" y="208.54" width="9.90" height="1.71" fill="#ff4949" />
<rect x="65.00" y="208.54" width="9.90" height="1.71" fill="#c86e96" />
<rect x="74.50" y="208.54" width="9.50" height="1.71" fill="#ff1414" />
<rect x="27.00" y="209.85" width="9.90" height="1.71" fill="#2222ff" />
<rect x="36.50" y="209.85" width="9.90" height="1.71" fill="#7575ff" />
<rect x="46.00" y="209.85" width="9.90" height="1.71" fill="#0808ff" />
<rect x="55.50" y="209.85" width="9.90" height="1.71" fill="#ff1717" />
<rect x="65.00" y="209.85" width="9.90" height="1.71" fill="#ff1e1e" />
<rect x="74.50" y="209.85" width="9.50" height="1.71" fill="#ff7272" />
<rect x="27.00" y="211.17" width="9.90" height="1.71" fill="#a6a6ff" />
<rect x="36.50" y="211.17" width="9.90" height="1.71" fill="#4a4aff" />
<rect x="46.00" y="211.17" width="9.90" height="1.71" fill="#0b0bff" />
<rect x="55.50" y="211.17" width="9.90" height="1.71" fill="#ff0a0a" />
<rect x="65.00" y="211.17" width="9.90" height="1.71" fill="#ffa4a4" />
<rect x="74.50" y="211.17" width="9.50" height="1.71" fill="#ff0606" />
<rect x="27.00" y="212.48" width="9.90" height="1.71" fill="#0808ff" />
<rect x="36.50" y="212.48" width="9.90" height="1.71" fill="#a1a1ff" />
<rect x="46.00" y="212.48" width="9.90" height="1.71" fill="#0505ff" />
<rect x="55.50" y="212.48" width="9.90" height="1.71" fill="#ff1919" />
<rect x="65.00" y="212.48" width="9.90" height="1.71" fill="#ff1919" />
<rect x="74.50" y="212.48" width="9.50" height="1.71" fill="#c86e96" />
<rect x="27.00" y="213.80" width="9.90" height="1.71" fill="#0d0dff" />
<rect x="36.50" y="213.80" width="9.90" height="1.71" fill="#dad6fb" />
<rect x="46.00" y="213.80" width="9.90" height="1.71" fill="#aaaaff" />
<rect x="55.50" y="213.80" width="9.90" height="1.71" fill="#ff1010" />
<rect x="65.00" y="213.80" width="9.90" height="1.71" fill="#ff5858" />
<rect x="74.50" y="213.80" width="9.50" height="1.71" fill="#fdd4d6" />
<rect x="27.00" y="215.11" width="9.90" height="1.71" fill="#1414ff" />
<rect x="36.50" y="215.11" width="9.90" height="1.71" fill="#7575ff" />
<rect x="46.00" y="215.11" width="9.90" height="1.71" fill="#6767ff" />
<rect x="55.50" y="215.11" width="9.90" height="1.71" fill="#ff2121" />
<rect x="65.00" y="215.11" width="9.90" height="1.71" fill="#ff1414" />
<rect x="74.50" y="215.11" width="9.50" height="1.71" fill="#ff1b1b" />
<rect x="27.00" y="216.42" width="9.90" height="1.71" fill="#1616ff" />
<rect x="36.50" y="216.42" width="9.90" height="1.71" fill="#6363ff" />
<rect x="46.00" y="216.42" width="9.90" height="1.71" fill="#1d1dff" />
<rect x="55.50" y="216.42" width="9.90" height="1.71" fill="#ff0d0d" />
<rect x="65.00" y="216.42" width="9.90" height="1.71" fill="#ff0101" />
<rect x="74.50" y="216.42" width="9.50" height="1.71" fill="#ff6969" />
<rect x="27.00" y="217.74" width="9.90" height="1.71" fill="#5f5fff" />
<rect x="36.50" y="217.74" width="9.90" height="1.71" fill="#0505ff" />
<rect x="46.00" y="217.74" width="9.90" height="1.71" fill="#5656ff" />
<rect x="55.50" y="217.74" width="9.90" height="1.71" fill="#ff0808" />
<rect x="65.00" y="217.74" width="9.90" height="1.71" fill="#c86e96" />
<rect x="74.50" y="217.74" width="9.50" height="1.71" fill="#ff0e0e" />
<rect x="27.00" y="219.05" width="9.90" height="1.71" fill="#6969ff" />
<rect x="36.50" y="219.05" width="9.90" height="1.71" fill="#1313ff" />
<rect x="46.00" y="219.05" width="9.90" height="1.71" fill="#1414ff" />
<rect x="55.50" y="219.05" width="9.90" height="1.71" fill="#ff2222" />
<rect x="65.00" y="219.05" width="9.90" height="1.71" fill="#ff5e5e" />
<rect x="74.50" y="219.05" width="9.50" height="1.71" fill="#ff0b0b" />
<rect x="27.00" y="220.37" width="9.90" height="1.71" fill="#1818ff" />
<rect x="36.50" y="220.37" width="9.90" height="1.71" fill="#2222ff" />
<rect x="46.00" y="220.37" width="9.90" height="1.71" fill="#0606ff" />
<rect x="55.50" y="220.37" width="9.90" height="1.71" fill="#ff1111" />
<rect x="65.00" y="220.37" width="9.90" height="1.71" fill="#ff0d0d" />
<rect x="74.50" y="220.37" width="9.50" height="1.71" fill="#ff7a7a" />
<rect x="27.00" y="221.68" width="9.90" height="1.71" fill="#0808ff" />
<rect x="36.50" y="221.68" width="9.90" height="1.71" fill="#5d5dff" />
<rect x="46.00" y="221.68" width="9.90" height="1.71" fill="#6a6aff" />
<rect x="55.50" y="221.68" width="9.90" height="1.71" fill="#ff9090" />
<rect x="65.00" y="221.68" width="9.90" height="1.71" fill="#ff9292" />
<rect x="74.50" y="221.68" width="9.50" height="1.71" fill="#ff0404" />
<rect x="27.00" y="222.99" width="9.90" height="1.71" fill="#1b1bff" />
<rect x="36.50" y="222.99" width="9.90" height="1.71" fill="#0606ff" />
<rect x="46.00" y="222.99" width="9.90" height="1.71" fill="#1e1eff" />
<rect x="55.50" y="222.99" width="9.90" height="1.71" fill="#fdd1d2" />
<rect x="65.00" y="222.99" width="9.90" height="1.71" fill="#ff1c1c" />
<rect x="74.50" y="222.99" width="9.50" height="1.71" fill="#ff1919" />
<rect x="27.00" y="224.31" width="9.90" height="1.71" fill="#7878ff" />
<rect x="36.50" y="224.31" width="9.90" height="1.71" fill="#5d5dff" />
<rect x="46.00" y="224.31" width="9.90" height="1.71" fill="#1d1dff" />
<rect x="55.50" y="224.31" width="9.90" height="1.71" fill="#ff1414" />
<rect x="65.00" y="224.31" width="9.90" height="1.71" fill="#ff1919" />
<rect x="74.50" y="224.31" width="9.50" height="1.71" fill="#ff1d1d" />
<rect x="27.00" y="225.62" width="9.90" height="1.71" fill="#0404ff" />
<rect x="36.50" y="225.62" width="9.90" height="1.71" fill="#7575ff" />
<rect x="46.00" y="225.62" width="9.90" height="1.71" fill="#5353ff" />
<rect x="55.50" y="225.62" width="9.90" height="1.71" fill="#c86e96" />
<rect x="65.00" y="225.62" width="9.90" height="1.71" fill="#ff2121" />
<rect x="74.50" y="225.62" width="9.50" height="1.71" fill="#ff0505" />
<rect x="27.00" y="226.94" width="9.90" height="1.71" fill="#0f0fff" />
<rect x="36.50" y="226.94" width="9.90" height="1.71" fill="#0e0eff" />
<rect x="46.00" y="226.94" width="9.90" height="1.71" fill="#2323ff" />
<rect x="55.50" y="226.94" width="9.90" height="1.71" fill="#fae1e5" />
<rect x="65.00" y="226.94" width="9.90" height="1.71" fill="#ff8f8f" />
<rect x="74.50" y="226.94" width="9.50" height="1.71" fill="#ff7979" />
<rect x="27.00" y="228.25" width="9.90" height="1.71" fill="#0404ff" />
<rect x="36.50" y="228.25" width="9.90" height="1.71" fill="#4848ff" />
<rect x="46.00" y="228.25" width="9.90" height="1.71" fill="#1111ff" />
<rect x="55.50" y="228.25" width="9.90" height="1.71" fill="#ff5c5c" />
<rect x="65.00" y="228.25" width="9.90" height="1.71" fill="#ff1d1d" />
<rect x="74.50" y="228.25" width="9.50" height="1.71" fill="#ff6161" />
<rect x="27.00" y="229.56" width="9.90" height="1.71" fill="#1b1bff" />
<rect x="36.50" y="229.56" width="9.90" height="1.71" fill="#0e0eff" />
<rect x="46.00" y="229.56" width="9.90" height="1.71" fill="#1313ff" />
<rect x="55.50" y="229.56" width="9.90" height="1.71" fill="#ff0505" />
<rect x="65.00" y="229.56" width="9.90" height="1.71" fill="#ff4d4d" />
<rect x="74.50" y="229.56" width="9.50" height="1.71" fill="#ff0909" />
<rect x="27.00" y="230.88" width="9.90" height="1.71" fill="#0404ff" />
<rect x="36.50" y="230.88" width="9.90" height="1.71" fill="#4747ff" />
<rect x="46.00" y="230.88" width="9.90" height="1.71" fill="#0505ff" />
<rect x="55.50" y="230.88" width="9.90" height="1.71" fill="#ff0a0a" />
<rect x="65.00" y="230.88" width="9.90" height="1.71" fill="#ff6868" />
<rect x="74.50" y="230.88" width="9.50" height="1.71" fill="#ff0909" />
<rect x="27.00" y="232.19" width="9.90" height="1.71" fill="#cbcafe" />
<rect x="36.50" y="232.19" width="9.90" height="1.71" fill="#0b0bff" />
<rect x="46.00" y="232.19" width="9.90" height="1.71" fill="#9797ff" />
<rect x="55.50" y="232.19" width="9.90" height="1.71" fill="#ff2323" />
<rect x="65.00" y="232.19" width="9.90" height="1.71" fill="#ff8383" />
<rect x="74.50" y="232.19" width="9.50" height="1.71" fill="#ff0f0f" />
<rect x="27.00" y="233.51" width="9.90" height="1.71" fill="#0e0eff" />
<rect x="36.50" y="233.51" width="9.90" height="1.71" fill="#e1dbf9" />
<rect x="46.00" y="233.51" width="9.90" height="1.71" fill="#1616ff" />
<rect x="55.50" y="233.51" width="9.90" height="1.71" fill="#ff8888" />
<rect x="65.00" y="233.51" width="9.90" height="1.71" fill="#ff2323" />
<rect x="74.50" y="233.51" width="9.50" height="1.71" fill="#ff1d1d" />
<rect x="27.00" y="234.82" width="9.90" height="1.71" fill="#0606ff" />
<rect x="36.50" y="234.82" width="9.90" height="1.71" fill="#e6aac8" />
<rect x="46.00" y="234.82" width="9.90" height="1.71" fill="#4e4eff" />
<rect x="55.50" y="234.82" width="9.90" height="1.71" fill="#fcd5d6" />
<rect x="65.00" y="234.82" width="9.90" height="1.71" fill="#ff0b0b" />
<rect x="74.50" y="234.82" width="9.50" height="1.71" fill="#ff0000" />
<rect x="27.00" y="236.13" width="9.90" height="1.71" fill="#8989ff" />
<rect x="36.50" y="236.13" width="9.90" height="1.71" fill="#e6aac8" />
<rect x="46.00" y="236.13" width="9.90" height="1.71" fill="#1c1cff" />
<rect x="55.50" y="236.13" width="9.90" height="1.71" fill="#ff1a1a" />
<rect x="65.00" y="236.13" width="9.90" height="1.71" fill="#ff1c1c" />
<rect x="74.50" y="236.13" width="9.50" height="1.71" fill="#ff1b1b" />
<rect x="27.00" y="237.45" width="9.90" height="1.71" fill="#0404ff" />
<rect x="36.50" y="237.45" width="9.90" height="1.71" fill="#0e0eff" />
<rect x="46.00" y="237.45" width="9.90" height="1.71" fill="#0909ff" />
<rect x="55.50" y="237.45" width="9.90" height="1.71" fill="#ff0101" />
<rect x="65.00" y="237.45" width="9.90" height="1.71" fill="#ff0808" />
<rect x="74.50" y="237.45" width="9.50" height="1.71" fill="#ff0d0d" />
<rect x="27.00" y="238.76" width="9.90" height="1.71" fill="#1c1cff" />
<rect x="36.50" y="238.76" width="9.90" height="1.71" fill="#7373ff" />
<rect x="46.00" y="238.76" width="9.90" height="1.71" fill="#0a0aff" />
<rect x="55.50" y="238.76" width="9.90" height="1.71" fill="#ff0b0b" />
<rect x="65.00" y="238.76" width="9.90" height="1.71" fill="#ffa0a0" />
<rect x="74.50" y="238.76" width="9.50" height="1.71" fill="#ff0707" />
<rect x="27.00" y="240.08" width="9.90" height="1.71" fill="#1313ff" />
<rect x="36.50" y="240.08" width="9.90" height="1.71" fill="#0606ff" />
<rect x="46.00" y="240.08" width="9.90" height="1.71" fill="#9595ff" />
<rect x="55.50" y="240.08" width="9.90" height="1.71" fill="#ff6464" />
<rect x="65.00" y="240.08" width="9.90" height="1.71" fill="#c86e96" />
<rect x="74.50" y="240.08" width="9.50" height="1.71" fill="#ff0e0e" />
<rect x="27.00" y="241.39" width="9.90" height="1.71" fill="#6c6cff" />
<rect x="36.50" y="241.39" width="9.90" height="1.71" fill="#0707ff" />
<rect x="46.00" y="241.39" width="9.90" height="1.71" fill="#0b0bff" />
<rect x="55.50" y="241.39" width="9.90" height="1.71" fill="#ff0404" />
<rect x="65.00" y="241.39" width="9.90" height="1.71" fill="#ff0f0f" />
<rect x="74.50" y="241.39" width="9.50" height="1.71" fill="#ff0808" />
<rect x="27.00" y="242.70" width="9.90" height="1.71" fill="#1919ff" />
<rect x="36.50" y="242.70" width="9.90" height="1.71" fill="#9c9cff" />
<rect x="46.00" y="242.70" width="9.90" height="1.71" fill="#2121ff" />
<rect x="55.50" y="242.70" width="9.90" height="1.71" fill="#ff5353" />
<rect x="65.00" y="242.70" width="9.90" height="1.71" fill="#ff8b8b" />
<rect x="74.50" y="242.70" width="9.50" height="1.71" fill="#ff7272" />
<rect x="27.00" y="244.02" width="9.90" height="1.71" fill="#7373ff" />
<rect x="36.50" y="244.02" width="9.90" height="1.71" fill="#b1b1ff" />
<rect x="46.00" y="244.02" width="9.90" height="1.71" fill="#1e1eff" />
<rect x="55.50" y="244.02" width="9.90" height="1.71" fill="#ff1212" />
<rect x="65.00" y="244.02" width="9.90" height="1.71" fill="#ff0404" />
<rect x="74.50" y="244.02" width="9.50" height="1.71" fill="#ff1818" />
<rect x="27.00" y="245.33" width="9.90" height="1.71" fill="#1717ff" />
<rect x="36.50" y="245.33" width="9.90" height="1.71" fill="#6161ff" />
<rect x="46.00" y="245.33" width="9.90" height="1.71" fill="#7070ff" />
<rect x="55.50" y="245.33" width="9.90" height="1.71" fill="#ff1212" />
<rect x="65.00" y="245.33" width="9.90" height="1.71" fill="#fbdee1" />
<rect x="74.50" y="245.33" width="9.50" height="1.71" fill="#ff1515" />
<rect x="27.00" y="246.65" width="9.90" height="1.71" fill="#2121ff" />
<rect x="36.50" y="246.65" width="9.90" height="1.71" fill="#a8a8ff" />
<rect x="46.00" y="246.65" width="9.90" height="1.71" fill="#1a1aff" />
<rect x="55.50" y="246.65" width="9.90" height="1.71" fill="#ff7a7a" />
<rect x="65.00" y="246.65" width="9.90" height="1.71" fill="#ff0e0e" />
<rect x="74.50" y="246.65" width="9.50" height="1.71" fill="#ff0404" />
<rect x="27.00" y="247.96" width="9.90" height="1.71" fill="#1111ff" />
<rect x="36.50" y="247.96" width="9.90" height="1.71" fill="#8181ff" />
<rect x="46.00" y="247.96" width="9.90" height="1.71" fill="#2121ff" />
<rect x="55.50" y="247.96" width="9.90" height="1.71" fill="#ff1c1c" />
<rect x="65.00" y="247.96" width="9.90" height="1.71" fill="#ff2323" />
<rect x="74.50" y="247.96" width="9.50" height="1.71" fill="#ffc0c0" />
<rect x="27.00" y="249.27" width="9.90" height="1.71" fill="#0909ff" />
<rect x="36.50" y="249.27" width="9.90" height="1.71" fill="#1010ff" />
<rect x="46.00" y="249.27" width="9.90" height="1.71" fill="#1e1eff" />
<rect x="55.50" y="249.27" width="9.90" height="1.71" fill="#ff9d9d" />
<rect x="65.00" y="249.27" width="9.90" height="1.71" fill="#ff0303" />
<rect x="74.50" y="249.27" width="9.50" height="1.71" fill="#ff1c1c" />
<rect x="27.00" y="250.59" width="9.90" height="1.71" fill="#0808ff" />
<rect x="36.50" y="250.59" width="9.90" height="1.71" fill="#1e1eff" />
<rect x="46.00" y="250.59" width="9.90" height="1.71" fill="#1313ff" />
<rect x="55.50" y="250.59" width="9.90" height="1.71" fill="#ff1c1c" />
<rect x="65.00" y="250.59" width="9.90" height="1.71" fill="#ffa2a2" />
<rect x="74.50" y="250.59" width="9.50" height="1.71" fill="#ff8e8e" />
<rect x="27.00" y="251.90" width="9.90" height="1.71" fill="#8383ff" />
<rect x="36.50" y="251.90" width="9.90" height="1.71" fill="#0404ff" />
<rect x="46.00" y="251.90" width="9.90" height="1.71" fill="#6161ff" />
<rect x="55.50" y="251.90" width="9.90" height="1.71" fill="#ff1616" />
<rect x="65.00" y="251.90" width="9.90" height="1.71" fill="#ff0303" />
<rect x="74.50" y="251.90" width="9.50" height="1.71" fill="#ff0707" />
<rect x="27.00" y="253.22" width="9.90" height="1.71" fill="#1f1fff" />
<rect x="36.50" y="253.22" width="9.90" height="1.71" fill="#0707ff" />
<rect x="46.00" y="253.22" width="9.90" height="1.71" fill="#0f0fff" />
<rect x="55.50" y="253.22" width="9.90" height="1.71" fill="#c86e96" />
<rect x="65.00" y="253.22" width="9.90" height="1.71" fill="#ff5c5c" />
<rect x="74.50" y="253.22" width="9.50" height="1.71" fill="#ff0a0a" />
<rect x="27.00" y="254.53" width="9.90" height="1.71" fill="#1818ff" />
<rect x="36.50" y="254.53" width="9.90" height="1.71" fill="#9494ff" />
<rect x="46.00" y="254.53" width="9.90" height="1.71" fill="#1010ff" />
<rect x="55.50" y="254.53" width="9.90" height="1.71" fill="#ff9393" />
<rect x="65.00" y="254.53" width="9.90" height="1.71" fill="#ff1515" />
<rect x="74.50" y="254.53" width="9.50" height="1.71" fill="#ff0707" />
<rect x="27.00" y="255.84" width="9.90" height="1.71" fill="#1818ff" />
<rect x="36.50" y="255.84" width="9.90" height="1.71" fill="#0d0dff" />
<rect x="46.00" y="255.84" width="9.90" height="1.71" fill="#0e0eff" />
<rect x="55.50" y="255.84" width="9.90" height="1.71" fill="#ffb2b2" />
<rect x="65.00" y="255.84" width="9.90" height="1.71" fill="#ff1d1d" />
<rect x="74.50" y="255.84" width="9.50" height="1.71" fill="#ff1010" />
<rect x="27.00" y="257.16" width="9.90" height="1.71" fill="#2121ff" />
<rect x="36.50" y="257.16" width="9.90" height="1.71" fill="#7777ff" />
<rect x="46.00" y="257.16" width="9.90" height="1.71" fill="#6f6fff" />
<rect x="55.50" y="257.16" width="9.90" height="1.71" fill="#ff8383" />
<rect x="65.00" y="257.16" width="9.90" height="1.71" fill="#ff8282" />
<rect x="74.50" y="257.16" width="9.50" height="1.71" fill="#ff1010" />
<rect x="27.00" y="258.47" width="9.90" height="1.71" fill="#0e0eff" />
<rect x="36.50" y="258.47" width="9.90" height="1.71" fill="#1515ff" />
<rect x="46.00" y="258.47" width="9.90" height="1.71" fill="#0202ff" />
<rect x="55.50" y="258.47" width="9.90" height="1.71" fill="#ff5a5a" />
<rect x="65.00" y="258.47" width="9.90" height="1.71" fill="#ff2121" />
<rect x="74.50" y="258.47" width="9.50" height="1.71" fill="#ff7777" />
<rect x="27.00" y="259.79" width="9.90" height="1.71" fill="#0909ff" />
<rect x="36.50" y="259.79" width="9.90" height="1.71" fill="#4f4fff" />
<rect x="46.00" y="259.79" width="9.90" height="1.71" fill="#0909ff" />
<rect x="55.50" y="259.79" width="9.90" height="1.71" fill="#ff5e5e" />
<rect x="65.00" y="259.79" width="9.90" height="1.71" fill="#ff1e1e" />
<rect x="74.50" y="259.79" width="9.50" height="1.71" fill="#ff1313" />
<rect x="27.00" y="261.10" width="9.90" height="1.71" fill="#c2c2ff" />
<rect x="36.50" y="261.10" width="9.90" height="1.71" fill="#d8d5fb" />
<rect x="46.00" y="261.10" width="9.90" height="1.71" fill="#1919ff" />
<rect x="55.50" y="261.10" width="9.90" height="1.71" fill="#ff0c0c" />
<rect x="65.00" y="261.10" width="9.90" height="1.71" fill="#ff2121" />
<rect x="74.50" y="261.10" width="9.50" height="1.71" fill="#c86e96" />
<rect x="27.00" y="262.41" width="9.90" height="1.71" fill="#1010ff" />
<rect x="36.50" y="262.41" width="9.90" height="1.71" fill="#6767ff" />
<rect x="46.00" y="262.41" width="9.90" height="1.71" fill="#1717ff" />
<rect x="55.50" y="262.41" width="9.90" height="1.71" fill="#ff2222" />
<rect x="65.00" y="262.41" width="9.90" height="1.71" fill="#ff2323" />
<rect x="74.50" y="262.41" width="9.50" height="1.71" fill="#ff1d1d" />
<rect x="27.00" y="263.73" width="9.90" height="1.71" fill="#1919ff" />
<rect x="36.50" y="263.73" width="9.90" height="1.71" fill="#0202ff" />
<rect x="46.00" y="263.73" width="9.90" height="1.71" fill="#0e0eff" />
<rect x="55.50" y="263.73" width="9.90" height="1.71" fill="#ff0808" />
<rect x="65.00" y="263.73" width="9.90" height="1.71" fill="#ff0707" />
<rect x="74.50" y="263.73" width="9.50" height="1.71" fill="#ff0505" />
<rect x="27.00" y="265.04" width="9.90" height="1.71" fill="#7a7aff" />
<rect x="36.50" y="265.04" width="9.90" height="1.71" fill="#d0cefd" />
<rect x="46.00" y="265.04" width="9.90" height="1.71" fill="#1616ff" />
<rect x="55.50" y="265.04" width="9.90" height="1.71" fill="#ff0909" />
<rect x="65.00" y="265.04" width="9.90" height="1.71" fill="#ff1a1a" />
<rect x="74.50" y="265.04" width="9.50" height="1.71" fill="#ff0404" />
<rect x="27.00" y="266.36" width="9.90" height="1.71" fill="#0101ff" />
<rect x="36.50" y="266.36" width="9.90" height="1.71" fill="#2121ff" />
<rect x="46.00" y="266.36" width="9.90" height="1.71" fill="#0101ff" />
<rect x="55.50" y="266.36" width="9.90" height="1.71" fill="#ff6c6c" />
<rect x="65.00" y="266.36" width="9.90" height="1.71" fill="#ff0404" />
<rect x="74.50" y="266.36" width="9.50" height="1.71" fill="#ff0b0b" />
<rect x="27.00" y="267.67" width="9.90" height="1.71" fill="#0404ff" />
<rect x="36.50" y="267.67" width="9.90" height="1.71" fill="#0505ff" />
<rect x="46.00" y="267.67" width="9.90" height="1.71" fill="#ababff" />
<rect x="55.50" y="267.67" width="9.90" height="1.71" fill="#ff7c7c" />
<rect x="65.00" y="267.67" width="9.90" height="1.71" fill="#ff6363" />
<rect x="74.50" y="267.67" width="9.50" height="1.71" fill="#fdd0d1" />
<rect x="27.00" y="268.98" width="9.90" height="1.71" fill="#1414ff" />
<rect x="36.50" y="268.98" width="9.90" height="1.71" fill="#8282ff" />
<rect x="46.00" y="268.98" width="9.90" height="1.71" fill="#bfbfff" />
<rect x="55.50" y="268.98" width="9.90" height="1.71" fill="#ffc6c6" />
<rect x="65.00" y="268.98" width="9.90" height="1.71" fill="#ff0e0e" />
<rect x="74.50" y="268.98" width="9.50" height="1.71" fill="#ff1e1e" />
<rect x="27.00" y="270.30" width="9.90" height="1.71" fill="#0e0eff" />
<rect x="36.50" y="270.30" width="9.90" height="1.71" fill="#e6aac8" />
<rect x="46.00" y="270.30" width="9.90" height="1.71" fill="#7f7fff" />
<rect x="55.50" y="270.30" width="9.90" height="1.71" fill="#ff1919" />
<rect x="65.00" y="270.30" width="9.90" height="1.71" fill="#ffacac" />
<rect x="74.50" y="270.30" width="9.50" height="1.71" fill="#fecccc" />
<rect x="27.00" y="271.61" width="9.90" height="1.71" fill="#8a8aff" />
<rect x="36.50" y="271.61" width="9.90" height="1.71" fill="#1e1eff" />
<rect x="46.00" y="271.61" width="9.90" height="1.71" fill="#dbd7fb" />
<rect x="55.50" y="271.61" width="9.90" height="1.71" fill="#fdd1d2" />
<rect x="65.00" y="271.61" width="9.90" height="1.71" fill="#ffc3c3" />
<rect x="74.50" y="271.61" width="9.50" height="1.71" fill="#ff6868" />
<rect x="27.00" y="272.93" width="9.90" height="1.71" fill="#1f1fff" />
<rect x="36.50" y="272.93" width="9.90" height="1.71" fill="#1414ff" />
<rect x="46.00" y="272.93" width="9.90" height="1.71" fill="#2020ff" />
<rect x="55.50" y="272.93" width="9.90" height="1.71" fill="#ff5b5b" />
<rect x="65.00" y="272.93" width="9.90" height="1.71" fill="#ff0909" />
<rect x="74.50" y="272.93" width="9.50" height="1.71" fill="#ff0f0f" />
<rect x="27.00" y="274.24" width="9.90" height="1.71" fill="#0d0dff" />
<rect x="36.50" y="274.24" width="9.90" height="1.71" fill="#6666ff" />
<rect x="46.00" y="274.24" width="9.90" height="1.71" fill="#eee5f7" />
<rect x="55.50" y="274.24" width="9.90" height="1.71" fill="#fbdadd" />
<rect x="65.00" y="274.24" width="9.90" height="1.71" fill="#ff0e0e" />
<rect x="74.50" y="274.24" width="9.50" height="1.71" fill="#ff4d4d" />
<rect x="27.00" y="275.55" width="9.90" height="1.71" fill="#5c5cff" />
<rect x="36.50" y="275.55" width="9.90" height="1.71" fill="#5656ff" />
<rect x="46.00" y="275.55" width="9.90" height="1.71" fill="#1111ff" />
<rect x="55.50" y="275.55" width="9.90" height="1.71" fill="#c86e96" />
<rect x="65.00" y="275.55" width="9.90" height="1.71" fill="#ff8a8a" />
<rect x="74.50" y="275.55" width="9.50" height="1.71" fill="#c86e96" />
<rect x="27.00" y="276.87" width="9.90" height="1.71" fill="#2222ff" />
<rect x="36.50" y="276.87" width="9.90" height="1.71" fill="#7070ff" />
<rect x="46.00" y="276.87" width="9.90" height="1.71" fill="#0b0bff" />
<rect x="55.50" y="276.87" width="9.90" height="1.71" fill="#ff1515" />
<rect x="65.00" y="276.87" width="9.90" height="1.71" fill="#ff6969" />
<rect x="74.50" y="276.87" width="9.50" height="1.71" fill="#ff1a1a" />
<rect x="27.00" y="278.18" width="9.90" height="1.71" fill="#cccbfe" />
<rect x="36.50" y="278.18" width="9.90" height="1.71" fill="#5959ff" />
<rect x="46.00" y="278.18" width="9.90" height="1.71" fill="#0f0fff" />
<rect x="55.50" y="278.18" width="9.90" height="1.71" fill="#ff0e0e" />
<rect x="65.00" y="278.18" width="9.90" height="1.71" fill="#ff7676" />
<rect x="74.50" y="278.18" width="9.50" height="1.71" fill="#ffc7c7" />
<rect x="27.00" y="279.50" width="9.90" height="1.71" fill="#0b0bff" />
<rect x="36.50" y="279.50" width="9.90" height="1.71" fill="#7f7fff" />
<rect x="46.00" y="279.50" width="9.90" height="1.71" fill="#1616ff" />
<rect x="55.50" y="279.50" width="9.90" height="1.71" fill="#fae3e7" />
<rect x="65.00" y="279.50" width="9.90" height="1.71" fill="#fbdee1" />
<rect x="74.50" y="279.50" width="9.50" height="1.71" fill="#ff2020" />
<rect x="27.00" y="280.81" width="9.90" height="1.71" fill="#0101ff" />
<rect x="36.50" y="280.81" width="9.90" height="1.71" fill="#1a1aff" />
<rect x="46.00" y="280.81" width="9.90" height="1.71" fill="#0000ff" />
<rect x="55.50" y="280.81" width="9.90" height="1.71" fill="#ff0f0f" />
<rect x="65.00" y="280.81" width="9.90" height="1.71" fill="#ff2222" />
<rect x="74.50" y="280.81" width="9.50" height="1.71" fill="#ff0303" />
<rect x="27.00" y="282.12" width="9.90" height="1.71" fill="#0f0fff" />
<rect x="36.50" y="282.12" width="9.90" height="1.71" fill="#0d0dff" />
<rect x="46.00" y="282.12" width="9.90" height="1.71" fill="#0f0fff" />
<rect x="55.50" y="282.12" width="9.90" height="1.71" fill="#ff9f9f" />
<rect x="65.00" y="282.12" width="9.90" height="1.71" fill="#ff0303" />
<rect x="74.50" y="282.12" width="9.50" height="1.71" fill="#ffbebe" />
<rect x="27.00" y="283.44" width="9.90" height="1.71" fill="#1313ff" />
<rect x="36.50" y="283.44" width="9.90" height="1.71" fill="#9393ff" />
<rect x="46.00" y="283.44" width="9.90" height="1.71" fill="#2121ff" />
<rect x="55.50" y="283.44" width="9.90" height="1.71" fill="#ff2020" />
<rect x="65.00" y="283.44" width="9.90" height="1.71" fill="#ff6363" />
<rect x="74.50" y="283.44" width="9.50" height="1.71" fill="#ff1d1d" />
<rect x="27.00" y="284.75" width="9.90" height="1.71" fill="#c0c0ff" />
<rect x="36.50" y="284.75" width="9.90" height="1.71" fill="#4848ff" />
<rect x="46.00" y="284.75" width="9.90" height="1.71" fill="#0d0dff" />
<rect x="55.50" y="284.75" width="9.90" height="1.71" fill="#ff2020" />
<rect x="65.00" y="284.75" width="9.90" height="1.71" fill="#ff1818" />
<rect x="74.50" y="284.75" width="9.50" height="1.71" fill="#ff1b1b" />
<rect x="27.00" y="286.07" width="9.90" height="1.71" fill="#b9b9ff" />
<rect x="36.50" y="286.07" width="9.90" height="1.71" fill="#afafff" />
<rect x="46.00" y="286.07" width="9.90" height="1.71" fill="#5e5eff" />
<rect x="55.50" y="286.07" width="9.90" height="1.71" fill="#ffa1a1" />
<rect x="65.00" y="286.07" width="9.90" height="1.71" fill="#ff1212" />
<rect x="74.50" y="286.07" width="9.50" height="1.71" fill="#ff1414" />
<rect x="27.00" y="287.38" width="9.90" height="1.71" fill="#0d0dff" />
<rect x="36.50" y="287.38" width="9.90" height="1.71" fill="#1111ff" />
<rect x="46.00" y="287.38" width="9.90" height="1.71" fill="#0b0bff" />
<rect x="55.50" y="287.38" width="9.90" height="1.71" fill="#ff0808" />
<rect x="65.00" y="287.38" width="9.90" height="1.71" fill="#ff7979" />
<rect x="74.50" y="287.38" width="9.50" height="1.71" fill="#ff0909" />
<rect x="27.00" y="288.69" width="9.90" height="1.71" fill="#ede5f7" />
<rect x="36.50" y="288.69" width="9.90" height="1.71" fill="#7878ff" />
<rect x="46.00" y="288.69" width="9.90" height="1.71" fill="#1616ff" />
<rect x="55.50" y="288.69" width="9.90" height="1.71" fill="#ff2222" />
<rect x="65.00" y="288.69" width="9.90" height="1.71" fill="#ff1010" />
<rect x="74.50" y="288.69" width="9.50" height="1.71" fill="#ff0808" />
<rect x="27.00" y="290.01" width="9.90" height="1.71" fill="#0404ff" />
<rect x="36.50" y="290.01" width="9.90" height="1.71" fill="#8181ff" />
<rect x="46.00" y="290.01" width="9.90" height="1.71" fill="#e7e0f8" />
<rect x="55.50" y="290.01" width="9.90" height="1.71" fill="#ff1313" />
<rect x="65.00" y="290.01" width="9.90" height="1.71" fill="#ff5151" />
<rect x="74.50" y="290.01" width="9.50" height="1.71" fill="#ff1b1b" />
<rect x="27.00" y="291.32" width="9.90" height="1.71" fill="#0303ff" />
<rect x="36.50" y="291.32" width="9.90" height="1.71" fill="#0808ff" />
<rect x="46.00" y="291.32" width="9.90" height="1.71" fill="#6b6bff" />
<rect x="55.50" y="291.32" width="9.90" height="1.71" fill="#ff0404" />
<rect x="65.00" y="291.32" width="9.90" height="1.71" fill="#ff1414" />
<rect x="74.50" y="291.32" width="9.50" height="1.71" fill="#ff2020" />
<rect x="27.00" y="292.64" width="9.90" height="1.71" fill="#0d0dff" />
<rect x="36.50" y="292.64" width="9.90" height="1.71" fill="#1919ff" />
<rect x="46.00" y="292.64" width="9.90" height="1.71" fill="#8282ff" />
<rect x="55.50" y="292.64" width="9.90" height="1.71" fill="#ff0909" />
<rect x="65.00" y="292.64" width="9.90" height="1.71" fill="#ff4747" />
<rect x="74.50" y="292.64" width="9.50" height="1.71" fill="#ff0909" />
<rect x="27.00" y="293.95" width="9.90" height="1.71" fill="#5858ff" />
<rect x="36.50" y="293.95" width="9.90" height="1.71" fill="#a9a9ff" />
<rect x="46.00" y="293.95" width="9.90" height="1.71" fill="#5a5aff" />
<rect x="55.50" y="293.95" width="9.90" height="1.71" fill="#ff6a6a" />
<rect x="65.00" y="293.95" width="9.90" height="1.71" fill="#ff0606" />
<rect x="74.50" y="293.95" width="9.50" height="1.71" fill="#ff1e1e" />
<rect x="27.00" y="295.26" width="9.90" height="1.71" fill="#1313ff" />
<rect x="36.50" y="295.26" width="9.90" height="1.71" fill="#1313ff" />
<rect x="46.00" y="295.26" width="9.90" height="1.71" fill="#2020ff" />
<rect x="55.50" y="295.26" width="9.90" height="1.71" fill="#ff0909" />
<rect x="65.00" y="295.26" width="9.90" height="1.71" fill="#f8e9ed" />
<rect x="74.50" y="295.26" width="9.50" height="1.71" fill="#ff7d7d" />
<rect x="27.00" y="296.58" width="9.90" height="1.71" fill="#6666ff" />
<rect x="36.50" y="296.58" width="9.90" height="1.71" fill="#7979ff" />
<rect x="46.00" y="296.58" width="9.90" height="1.71" fill="#1212ff" />
<rect x="55.50" y="296.58" width="9.90" height="1.71" fill="#ff0c0c" />
<rect x="65.00" y="296.58" width="9.90" height="1.71" fill="#ff8888" />
<rect x="74.50" y="296.58" width="9.50" height="1.71" fill="#ffc4c4" />
<rect x="27.00" y="297.89" width="9.90" height="1.71" fill="#0303ff" />
<rect x="36.50" y="297.89" width="9.90" height="1.71" fill="#0404ff" />
<rect x="46.00" y="297.89" width="9.90" height="1.71" fill="#0404ff" />
<rect x="55.50" y="297.89" width="9.90" height="1.71" fill="#ff0b0b" />
<rect x="65.00" y="297.89" width="9.90" height="1.71" fill="#ff0202" />
<rect x="74.50" y="297.89" width="9.50" height="1.71" fill="#ff0202" />
<rect x="27.00" y="299.21" width="9.90" height="1.71" fill="#e6aac8" />
<rect x="36.50" y="299.21" width="9.90" height="1.71" fill="#2222ff" />
<rect x="46.00" y="299.21" width="9.90" height="1.71" fill="#1e1eff" />
<rect x="55.50" y="299.21" width="9.90" height="1.71" fill="#ff1212" />
<rect x="65.00" y="299.21" width="9.90" height="1.71" fill="#fbdadd" />
<rect x="74.50" y="299.21" width="9.50" height="1.71" fill="#ff6b6b" />
<rect x="27.00" y="300.52" width="9.90" height="1.71" fill="#6969ff" />
<rect x="36.50" y="300.52" width="9.90" height="1.71" fill="#b6b6ff" />
<rect x="46.00" y="300.52" width="9.90" height="1.71" fill="#1111ff" />
<rect x="55.50" y="300.52" width="9.90" height="1.71" fill="#fcd9db" />
<rect x="65.00" y="300.52" width="9.90" height="1.71" fill="#ff2222" />
<rect x="74.50" y="300.52" width="9.50" height="1.71" fill="#ff0505" />
<rect x="27.00" y="301.83" width="9.90" height="1.71" fill="#5d5dff" />
<rect x="36.50" y="301.83" width="9.90" height="1.71" fill="#2121ff" />
<rect x="46.00" y="301.83" width="9.90" height="1.71" fill="#2121ff" />
<rect x="55.50" y="301.83" width="9.90" height="1.71" fill="#ff1e1e" />
<rect x="65.00" y="301.83" width="9.90" height="1.71" fill="#ff0101" />
<rect x="74.50" y="301.83" width="9.50" height="1.71" fill="#ff1515" />
<rect x="27.00" y="303.15" width="9.90" height="1.71" fill="#1515ff" />
<rect x="36.50" y="303.15" width="9.90" height="1.71" fill="#2121ff" />
<rect x="46.00" y="303.15" width="9.90" height="1.71" fill="#ababff" />
<rect x="55.50" y="303.15" width="9.90" height="1.71" fill="#ff0101" />
<rect x="65.00" y="303.15" width="9.90" height="1.71" fill="#ffc0c0" />
<rect x="74.50" y="303.15" width="9.50" height="1.71" fill="#ff0101" />
<rect x="27.00" y="304.46" width="9.90" height="1.71" fill="#e6aac8" />
<rect x="36.50" y="304.46" width="9.90" height="1.71" fill="#1818ff" />
<rect x="46.00" y="304.46" width="9.90" height="1.71" fill="#1414ff" />
<rect x="55.50" y="304.46" width="9.90" height="1.71" fill="#ff1c1c" />
<rect x="65.00" y="304.46" width="9.90" height="1.71" fill="#c86e96" />
<rect x="74.50" y="304.46" width="9.50" height="1.71" fill="#f9e4e8" />
<rect x="27.00" y="305.78" width="9.90" height="1.71" fill="#1d1dff" />
<rect x="36.50" y="305.78" width="9.90" height="1.71" fill="#5d5dff" />
<rect x="46.00" y="305.78" width="9.90" height="1.71" fill="#0101ff" />
<rect x="55.50" y="305.78" width="9.90" height="1.71" fill="#ff0909" />
<rect x="65.00" y="305.78" width="9.90" height="1.71" fill="#ff1212" />
<rect x="74.50" y="305.78" width="9.50" height="1.71" fill="#ff7575" />
<rect x="27.00" y="307.09" width="9.90" height="1.71" fill="#5656ff" />
<rect x="36.50" y="307.09" width="9.90" height="1.71" fill="#0606ff" />
<rect x="46.00" y="307.09" width="9.90" height="1.71" fill="#5858ff" />
<rect x="55.50" y="307.09" width="9.90" height="1.71" fill="#ff7d7d" />
<rect x="65.00" y="307.09" width="9.90" height="1.71" fill="#ff5757" />
<rect x="74.50" y="307.09" width="9.50" height="1.71" fill="#ff0909" />
<rect x="27.00" y="308.40" width="9.90" height="1.71" fill="#0909ff" />
<rect x="36.50" y="308.40" width="9.90" height="1.71" fill="#0606ff" />
<rect x="46.00" y="308.40" width="9.90" height="1.71" fill="#5b5bff" />
<rect x="55.50" y="308.40" width="9.90" height="1.71" fill="#ff7979" />
<rect x="65.00" y="308.40" width="9.90" height="1.71" fill="#ff1c1c" />
<rect x="74.50" y="308.40" width="9.50" height="1.71" fill="#ff0303" />
<rect x="27.00" y="309.72" width="9.90" height="1.71" fill="#0909ff" />
<rect x="36.50" y="309.72" width="9.90" height="1.71" fill="#a5a5ff" />
<rect x="46.00" y="309.72" width="9.90" height="1.71" fill="#0d0dff" />
<rect x="55.50" y="309.72" width="9.90" height="1.71" fill="#ff8686" />
<rect x="65.00" y="309.72" width="9.90" height="1.71" fill="#ff0e0e" />
<rect x="74.50" y="309.72" width="9.50" height="1.71" fill="#ffbbbb" />
<rect x="27.00" y="311.03" width="9.90" height="1.71" fill="#0c0cff" />
<rect x="36.50" y="311.03" width="9.90" height="1.71" fill="#0d0dff" />
<rect x="46.00" y="311.03" width="9.90" height="1.71" fill="#7070ff" />
<rect x="55.50" y="311.03" width="9.90" height="1.71" fill="#ff1111" />
<rect x="65.00" y="311.03" width="9.90" height="1.71" fill="#ff0000" />
<rect x="74.50" y="311.03" width="9.50" height="1.71" fill="#ff0d0d" />
<rect x="27.00" y="312.35" width="9.90" height="1.71" fill="#f1e8f6" />
<rect x="36.50" y="312.35" width="9.90" height="1.71" fill="#9898ff" />
<rect x="46.00" y="312.35" width="9.90" height="1.71" fill="#2222ff" />
<rect x="55.50" y="312.35" width="9.90" height="1.71" fill="#ff0c0c" />
<rect x="65.00" y="312.35" width="9.90" height="1.71" fill="#ff0505" />
<rect x="74.50" y="312.35" width="9.50" height="1.71" fill="#ff2121" />
<rect x="27.00" y="313.66" width="9.90" height="1.71" fill="#9494ff" />
<rect x="36.50" y="313.66" width="9.90" height="1.71" fill="#1f1fff" />
<rect x="46.00" y="313.66" width="9.90" height="1.71" fill="#2121ff" />
<rect x="55.50" y="313.66" width="9.90" height="1.71" fill="#ff6060" />
<rect x="65.00" y="313.66" width="9.90" height="1.71" fill="#ff9c9c" />
<rect x="74.50" y="313.66" width="9.50" height="1.71" fill="#ff0303" />
<rect x="27.00" y="314.97" width="9.90" height="1.71" fill="#a1a1ff" />
<rect x="36.50" y="314.97" width="9.90" height="1.71" fill="#d6d3fc" />
<rect x="46.00" y="314.97" width="9.90" height="1.71" fill="#4f4fff" />
<rect x="55.50" y="314.97" width="9.90" height="1.71" fill="#ff6c6c" />
<rect x="65.00" y="314.97" width="9.90" height="1.71" fill="#ff1b1b" />
<rect x="74.50" y="314.97" width="9.50" height="1.71" fill="#ff2121" />
<rect x="27.00" y="316.29" width="9.90" height="1.71" fill="#d2d0fd" />
<rect x="36.50" y="316.29" width="9.90" height="1.71" fill="#d6d3fc" />
<rect x="46.00" y="316.29" width="9.90" height="1.71" fill="#2020ff" />
<rect x="55.50" y="316.29" width="9.90" height="1.71" fill="#ff5151" />
<rect x="65.00" y="316.29" width="9.90" height="1.71" fill="#ff6e6e" />
<rect x="74.50" y="316.29" width="9.50" height="1.71" fill="#ff7d7d" />
<rect x="27.00" y="317.60" width="9.90" height="1.71" fill="#1010ff" />
<rect x="36.50" y="317.60" width="9.90" height="1.71" fill="#1e1eff" />
<rect x="46.00" y="317.60" width="9.90" height="1.71" fill="#0707ff" />
<rect x="55.50" y="317.60" width="9.90" height="1.71" fill="#ff2222" />
<rect x="65.00" y="317.60" width="9.90" height="1.71" fill="#c86e96" />
<rect x="74.50" y="317.60" width="9.50" height="1.71" fill="#ff0e0e" />
<rect x="27.00" y="318.92" width="9.90" height="1.71" fill="#cfcefd" />
<rect x="36.50" y="318.92" width="9.90" height="1.71" fill="#b8b8ff" />
<rect x="46.00" y="318.92" width="9.90" height="1.71" fill="#4747ff" />
<rect x="55.50" y="318.92" width="9.90" height="1.71" fill="#ffbcbc" />
<rect x="65.00" y="318.92" width="9.90" height="1.71" fill="#ff1717" />
<rect x="74.50" y="318.92" width="9.50" height="1.71" fill="#ff0606" />
<rect x="27.00" y="320.23" width="9.90" height="1.71" fill="#e6aac8" />
<rect x="36.50" y="320.23" width="9.90" height="1.71" fill="#4949ff" />
<rect x="46.00" y="320.23" width="9.90" height="1.71" fill="#7171ff" />
<rect x="55.50" y="320.23" width="9.90" height="1.71" fill="#ff6767" />
<rect x="65.00" y="320.23" width="9.90" height="1.71" fill="#ff0b0b" />
<rect x="74.50" y="320.23" width="9.50" height="1.71" fill="#ff8484" />
<rect x="27.00" y="321.54" width="9.90" height="1.71" fill="#0f0fff" />
<rect x="36.50" y="321.54" width="9.90" height="1.71" fill="#6666ff" />
<rect x="46.00" y="321.54" width="9.90" height="1.71" fill="#2020ff" />
<rect x="55.50" y="321.54" width="9.90" height="1.71" fill="#ffc4c4" />
<rect x="65.00" y="321.54" width="9.90" height="1.71" fill="#ff1f1f" />
<rect x="74.50" y="321.54" width="9.50" height="1.71" fill="#ffabab" />
<rect x="27.00" y="322.86" width="9.90" height="1.71" fill="#0a0aff" />
<rect x="36.50" y="322.86" width="9.90" height="1.71" fill="#b7b7ff" />
<rect x="46.00" y="322.86" width="9.90" height="1.71" fill="#6f6fff" />
<rect x="55.50" y="322.86" width="9.90" height="1.71" fill="#ffc5c5" />
<rect x="65.00" y="322.86" width="9.90" height="1.71" fill="#ff4d4d" />
<rect x="74.50" y="322.86" width="9.50" height="1.71" fill="#ff0c0c" />
<rect x="27.00" y="324.17" width="9.90" height="1.71" fill="#1111ff" />
<rect x="36.50" y="324.17" width="9.90" height="1.71" fill="#1212ff" />
<rect x="46.00" y="324.17" width="9.90" height="1.71" fill="#0000ff" />
<rect x="55.50" y="324.17" width="9.90" height="1.71" fill="#ff5959" />
<rect x="65.00" y="324.17" width="9.90" height="1.71" fill="#ff1616" />
<rect x="74.50" y="324.17" width="9.50" height="1.71" fill="#ff0303" />
<rect x="27.00" y="325.49" width="9.90" height="1.71" fill="#6868ff" />
<rect x="36.50" y="325.49" width="9.90" height="1.71" fill="#2222ff" />
<rect x="46.00" y="325.49" width="9.90" height="1.71" fill="#6565ff" />
<rect x="55.50" y="325.49" width="9.90" height="1.71" fill="#f9e4e8" />
<rect x="65.00" y="325.49" width="9.90" height="1.71" fill="#ff8080" />
<rect x="74.50" y="325.49" width="9.50" height="1.71" fill="#ff0909" />
<rect x="27.00" y="326.80" width="9.90" height="1.71" fill="#1212ff" />
<rect x="36.50" y="326.80" width="9.90" height="1.71" fill="#6d6dff" />
<rect x="46.00" y="326.80" width="9.90" height="1.71" fill="#1111ff" />
<rect x="55.50" y="326.80" width="9.90" height="1.71" fill="#ff5a5a" />
<rect x="65.00" y="326.80" width="9.90" height="1.71" fill="#ff1212" />
<rect x="74.50" y="326.80" width="9.50" height="1.71" fill="#ff5454" />
<rect x="27.00" y="328.11" width="9.90" height="1.71" fill="#bebeff" />
<rect x="36.50" y="328.11" width="9.90" height="1.71" fill="#2222ff" />
<rect x="46.00" y="328.11" width="9.90" height="1.71" fill="#1818ff" />
<rect x="55.50" y="328.11" width="9.90" height="1.71" fill="#ff1919" />
<rect x="65.00" y="328.11" width="9.90" height="1.71" fill="#ff1c1c" />
<rect x="74.50" y="328.11" width="9.50" height="1.71" fill="#ffbdbd" />
<rect x="27.00" y="329.43" width="9.90" height="1.71" fill="#5757ff" />
<rect x="36.50" y="329.43" width="9.90" height="1.71" fill="#0101ff" />
<rect x="46.00" y="329.43" width="9.90" height="1.71" fill="#0c0cff" />
<rect x="55.50" y="329.43" width="9.90" height="1.71" fill="#ff1515" />
<rect x="65.00" y="329.43" width="9.90" height="1.71" fill="#ff2121" />
<rect x="74.50" y="329.43" width="9.50" height="1.71" fill="#ff0202" />
<rect x="27.00" y="330.74" width="9.90" height="1.71" fill="#0404ff" />
<rect x="36.50" y="330.74" width="9.90" height="1.71" fill="#1e1eff" />
<rect x="46.00" y="330.74" width="9.90" height="1.71" fill="#5353ff" />
<rect x="55.50" y="330.74" width="9.90" height="1.71" fill="#ff1b1b" />
<rect x="65.00" y="330.74" width="9.90" height="1.71" fill="#ff1616" />
<rect x="74.50" y="330.74" width="9.50" height="1.71" fill="#ffb8b8" />
<rect x="27.00" y="332.06" width="9.90" height="1.71" fill="#efe6f6" />
<rect x="36.50" y="332.06" width="9.90" height="1.71" fill="#1b1bff" />
<rect x="46.00" y="332.06" width="9.90" height="1.71" fill="#1414ff" />
<rect x="55.50" y="332.06" width="9.90" height="1.71" fill="#ff1616" />
<rect x="65.00" y="332.06" width="9.90" height="1.71" fill="#ff6161" />
<rect x="74.50" y="332.06" width="9.50" height="1.71" fill="#ff4848" />
<rect x="27.00" y="333.37" width="9.90" height="1.71" fill="#bcbcff" />
<rect x="36.50" y="333.37" width="9.90" height="1.71" fill="#b3b3ff" />
<rect x="46.00" y="333.37" width="9.90" height="1.71" fill="#1818ff" />
<rect x="55.50" y="333.37" width="9.90" height="1.71" fill="#ff5c5c" />
<rect x="65.00" y="333.37" width="9.90" height="1.71" fill="#ff5353" />
<rect x="74.50" y="333.37" width="9.50" height="1.71" fill="#ff1818" />
<rect x="27.00" y="334.68" width="9.90" height="1.71" fill="#0c0cff" />
<rect x="36.50" y="334.68" width="9.90" height="1.71" fill="#2020ff" />
<rect x="46.00" y="334.68" width="9.90" height="1.71" fill="#8989ff" />
<rect x="55.50" y="334.68" width="9.90" height="1.71" fill="#ff2222" />
<rect x="65.00" y="334.68" width="9.90" height="1.71" fill="#ff0c0c" />
<rect x="74.50" y="334.68" width="9.50" height="1.71" fill="#ff6b6b" />
<rect x="27.00" y="336.00" width="9.90" height="1.71" fill="#4848ff" />
<rect x="36.50" y="336.00" width="9.90" height="1.71" fill="#1313ff" />
<rect x="46.00" y="336.00" width="9.90" height="1.71" fill="#1a1aff" />
<rect x="55.50" y="336.00" width="9.90" height="1.71" fill="#ff9898" />
<rect x="65.00" y="336.00" width="9.90" height="1.71" fill="#ff0808" />
<rect x="74.50" y="336.00" width="9.50" height="1.71" fill="#ff4b4b" />
<rect x="27.00" y="337.31" width="9.90" height="1.71" fill="#d8d4fb" />
<rect x="36.50" y="337.31" width="9.90" height="1.71" fill="#8888ff" />
<rect x="46.00" y="337.31" width="9.90" height="1.71" fill="#0f0fff" />
<rect x="55.50" y="337.31" width="9.90" height="1.71" fill="#ff5656" />
<rect x="65.00" y="337.31" width="9.90" height="1.71" fill="#ff8989" />
<rect x="74.50" y="337.31" width="9.50" height="1.71" fill="#ffa6a6" />
<rect x="27.00" y="338.63" width="9.90" height="1.71" fill="#1b1bff" />
<rect x="36.50" y="338.63" width="9.90" height="1.71" fill="#7373ff" />
<rect x="46.00" y="338.63" width="9.90" height="1.71" fill="#2020ff" />
<rect x="55.50" y="338.63" width="9.90" height="1.71" fill="#ffacac" />
<rect x="65.00" y="338.63" width="9.90" height="1.71" fill="#ff1212" />
<rect x="74.50" y="338.63" width="9.50" height="1.71" fill="#ff7c7c" />
<rect x="27.00" y="339.94" width="9.90" height="1.71" fill="#cfcdfd" />
<rect x="36.50" y="339.94" width="9.90" height="1.71" fill="#5959ff" />
<rect x="46.00" y="339.94" width="9.90" height="1.71" fill="#1919ff" />
<rect x="55.50" y="339.94" width="9.90" height="1.71" fill="#ff7c7c" />
<rect x="65.00" y="339.94" width="9.90" height="1.71" fill="#ff1919" />
<rect x="74.50" y="339.94" width="9.50" height="1.71" fill="#ff0f0f" />
<rect x="27.00" y="341.25" width="9.90" height="1.71" fill="#a8a8ff" />
<rect x="36.50" y="341.25" width="9.90" height="1.71" fill="#1f1fff" />
<rect x="46.00" y="341.25" width="9.90" height="1.71" fill="#cbcafe" />
<rect x="55.50" y="341.25" width="9.90" height="1.71" fill="#ff7777" />
<rect x="65.00" y="341.25" width="9.90" height="1.71" fill="#ff4f4f" />
<rect x="74.50" y="341.25" width="9.50" height="1.71" fill="#ff1414" />
<rect x="27.00" y="342.57" width="9.90" height="1.71" fill="#0e0eff" />
<rect x="36.50" y="342.57" width="9.90" height="1.71" fill="#1818ff" />
<rect x="46.00" y="342.57" width="9.90" height="1.71" fill="#0202ff" />
<rect x="55.50" y="342.57" width="9.90" height="1.71" fill="#ff0404" />
<rect x="65.00" y="342.57" width="9.90" height="1.71" fill="#fcd9db" />
<rect x="74.50" y="342.57" width="9.50" height="1.71" fill="#c86e96" />
<rect x="27.00" y="343.88" width="9.90" height="1.71" fill="#dad6fb" />
<rect x="36.50" y="343.88" width="9.90" height="1.71" fill="#4d4dff" />
<rect x="46.00" y="343.88" width="9.90" height="1.71" fill="#1e1eff" />
<rect x="55.50" y="343.88" width="9.90" height="1.71" fill="#ff6f6f" />
<rect x="65.00" y="343.88" width="9.90" height="1.71" fill="#ff8b8b" />
<rect x="74.50" y="343.88" width="9.50" height="1.71" fill="#ff9e9e" />
<rect x="27.00" y="345.20" width="9.90" height="1.71" fill="#c0c0ff" />
<rect x="36.50" y="345.20" width="9.90" height="1.71" fill="#6363ff" />
<rect x="46.00" y="345.20" width="9.90" height="1.71" fill="#1f1fff" />
<rect x="55.50" y="345.20" width="9.90" height="1.71" fill="#ffbbbb" />
<rect x="65.00" y="345.20" width="9.90" height="1.71" fill="#ff1010" />
<rect x="74.50" y="345.20" width="9.50" height="1.71" fill="#ff6565" />
<rect x="27.00" y="346.51" width="9.90" height="1.71" fill="#5c5cff" />
<rect x="36.50" y="346.51" width="9.90" height="1.71" fill="#6363ff" />
<rect x="46.00" y="346.51" width="9.90" height="1.71" fill="#7c7cff" />
<rect x="55.50" y="346.51" width="9.90" height="1.71" fill="#ff6767" />
<rect x="65.00" y="346.51" width="9.90" height="1.71" fill="#ff1010" />
<rect x="74.50" y="346.51" width="9.50" height="1.71" fill="#ff8585" />
<rect x="27.00" y="347.82" width="9.90" height="1.71" fill="#1b1bff" />
<rect x="36.50" y="347.82" width="9.90" height="1.71" fill="#7575ff" />
<rect x="46.00" y="347.82" width="9.90" height="1.71" fill="#0a0aff" />
<rect x="55.50" y="347.82" width="9.90" height="1.71" fill="#ff2121" />
<rect x="65.00" y="347.82" width="9.90" height="1.71" fill="#ff1717" />
<rect x="74.50" y="347.82" width="9.50" height="1.71" fill="#ff1717" />
<rect x="27.00" y="349.14" width="9.90" height="1.71" fill="#babaff" />
<rect x="36.50" y="349.14" width="9.90" height="1.71" fill="#8b8bff" />
<rect x="46.00" y="349.14" width="9.90" height="1.71" fill="#7878ff" />
<rect x="55.50" y="349.14" width="9.90" height="1.71" fill="#c86e96" />
<rect x="65.00" y="349.14" width="9.90" height="1.71" fill="#ff7c7c" />
<rect x="74.50" y="349.14" width="9.50" height="1.71" fill="#ff7171" />
<rect x="27.00" y="350.45" width="9.90" height="1.71" fill="#a4a4ff" />
<rect x="36.50" y="350.45" width="9.90" height="1.71" fill="#0707ff" />
<rect x="46.00" y="350.45" width="9.90" height="1.71" fill="#0202ff" />
<rect x="55.50" y="350.45" width="9.90" height="1.71" fill="#ff7f7f" />
<rect x="65.00" y="350.45" width="9.90" height="1.71" fill="#ff0e0e" />
<rect x="74.50" y="350.45" width="9.50" height="1.71" fill="#ff1919" />
<rect x="27.00" y="351.77" width="9.90" height="1.71" fill="#1a1aff" />
<rect x="36.50" y="351.77" width="9.90" height="1.71" fill="#5858ff" />
<rect x="46.00" y="351.77" width="9.90" height="1.71" fill="#1414ff" />
<rect x="55.50" y="351.77" width="9.90" height="1.71" fill="#ff8b8b" />
<rect x="65.00" y="351.77" width="9.90" height="1.71" fill="#ffbbbb" />
<rect x="74.50" y="351.77" width="9.50" height="1.71" fill="#ff7979" />
<rect x="27.00" y="353.08" width="9.90" height="1.71" fill="#0a0aff" />
<rect x="36.50" y="353.08" width="9.90" height="1.71" fill="#6b6bff" />
<rect x="46.00" y="353.08" width="9.90" height="1.71" fill="#0606ff" />
<rect x="55.50" y="353.08" width="9.90" height="1.71" fill="#ff1f1f" />
<rect x="65.00" y="353.08" width="9.90" height="1.71" fill="#ff0a0a" />
<rect x="74.50" y="353.08" width="9.50" height="1.71" fill="#ff0f0f" />
<rect x="27.00" y="354.39" width="9.90" height="1.71" fill="#b0b0ff" />
<rect x="36.50" y="354.39" width="9.90" height="1.71" fill="#6b6bff" />
<rect x="46.00" y="354.39" width="9.90" height="1.71" fill="#1414ff" />
<rect x="55.50" y="354.39" width="9.90" height="1.71" fill="#ff0c0c" />
<rect x="65.00" y="354.39" width="9.90" height="1.71" fill="#ff0303" />
<rect x="74.50" y="354.39" width="9.50" height="1.71" fill="#ff7676" />
<rect x="27.00" y="355.71" width="9.90" height="1.71" fill="#1d1dff" />
<rect x="36.50" y="355.71" width="9.90" height="1.71" fill="#5959ff" />
<rect x="46.00" y="355.71" width="9.90" height="1.71" fill="#6c6cff" />
<rect x="55.50" y="355.71" width="9.90" height="1.71" fill="#c86e96" />
<rect x="65.00" y="355.71" width="9.90" height="1.71" fill="#ff7474" />
<rect x="74.50" y="355.71" width="9.50" height="1.71" fill="#ff9f9f" />
<rect x="27.00" y="357.02" width="9.90" height="1.71" fill="#2121ff" />
<rect x="36.50" y="357.02" width="9.90" height="1.71" fill="#9797ff" />
<rect x="46.00" y="357.02" width="9.90" height="1.71" fill="#9191ff" />
<rect x="55.50" y="357.02" width="9.90" height="1.71" fill="#ff1a1a" />
<rect x="65.00" y="357.02" width="9.90" height="1.71" fill="#ff6868" />
<rect x="74.50" y="357.02" width="9.50" height="1.71" fill="#ff0101" />
<rect x="27.00" y="358.34" width="9.90" height="1.71" fill="#1e1eff" />
<rect x="36.50" y="358.34" width="9.90" height="1.71" fill="#b6b6ff" />
<rect x="46.00" y="358.34" width="9.90" height="1.71" fill="#0c0cff" />
<rect x="55.50" y="358.34" width="9.90" height="1.71" fill="#ff0808" />
<rect x="65.00" y="358.34" width="9.90" height="1.71" fill="#ff5c5c" />
<rect x="74.50" y="358.34" width="9.50" height="1.71" fill="#ff1c1c" />
<rect x="27.00" y="359.65" width="9.90" height="1.71" fill="#1515ff" />
<rect x="36.50" y="359.65" width="9.90" height="1.71" fill="#0808ff" />
<rect x="46.00" y="359.65" width="9.90" height="1.71" fill="#7171ff" />
<rect x="55.50" y="359.65" width="9.90" height="1.71" fill="#ffc6c6" />
<rect x="65.00" y="359.65" width="9.90" height="1.71" fill="#ff6565" />
<rect x="74.50" y="359.65" width="9.50" height="1.71" fill="#ff8080" />
<rect x="27.00" y="360.96" width="9.90" height="1.71" fill="#1818ff" />
<rect x="36.50" y="360.96" width="9.90" height="1.71" fill="#a1a1ff" />
<rect x="46.00" y="360.96" width="9.90" height="1.71" fill="#0808ff" />
<rect x="55.50" y="360.96" width="9.90" height="1.71" fill="#ff1f1f" />
<rect x="65.00" y="360.96" width="9.90" height="1.71" fill="#ffa2a2" />
<rect x="74.50" y="360.96" width="9.50" height="1.71" fill="#ff7878" />
<rect x="27.00" y="362.28" width="9.90" height="1.71" fill="#e7e0f8" />
<rect x="36.50" y="362.28" width="9.90" height="1.71" fill="#eee5f7" />
<rect x="46.00" y="362.28" width="9.90" height="1.71" fill="#1414ff" />
<rect x="55.50" y="362.28" width="9.90" height="1.71" fill="#ffcaca" />
<rect x="65.00" y="362.28" width="9.90" height="1.71" fill="#ff8b8b" />
<rect x="74.50" y="362.28" width="9.50" height="1.71" fill="#ff1e1e" />
<rect x="27.00" y="363.59" width="9.90" height="1.71" fill="#cdccfe" />
<rect x="36.50" y="363.59" width="9.90" height="1.71" fill="#e6aac8" />
<rect x="46.00" y="363.59" width="9.90" height="1.71" fill="#0606ff" />
<rect x="55.50" y="363.59" width="9.90" height="1.71" fill="#ffb4b4" />
<rect x="65.00" y="363.59" width="9.90" height="1.71" fill="#ff0b0b" />
<rect x="74.50" y="363.59" width="9.50" height="1.71" fill="#ff0a0a" />
<rect x="27.00" y="364.91" width="9.90" height="1.71" fill="#0c0cff" />
<rect x="36.50" y="364.91" width="9.90" height="1.71" fill="#5757ff" />
<rect x="46.00" y="364.91" width="9.90" height="1.71" fill="#5858ff" />
<rect x="55.50" y="364.91" width="9.90" height="1.71" fill="#c86e96" />
<rect x="65.00" y="364.91" width="9.90" height="1.71" fill="#ff6f6f" />
<rect x="74.50" y="364.91" width="9.50" height="1.71" fill="#ff4e4e" />
<rect x="27.00" y="366.22" width="9.90" height="1.71" fill="#1010ff" />
<rect x="36.50" y="366.22" width="9.90" height="1.71" fill="#5c5cff" />
<rect x="46.00" y="366.22" width="9.90" height="1.71" fill="#1a1aff" />
<rect x="55.50" y="366.22" width="9.90" height="1.71" fill="#ff7474" />
<rect x="65.00" y="366.22" width="9.90" height="1.71" fill="#ff1212" />
<rect x="74.50" y="366.22" width="9.50" height="1.71" fill="#ff6161" />
<rect x="27.00" y="367.53" width="9.90" height="1.71" fill="#6767ff" />
<rect x="36.50" y="367.53" width="9.90" height="1.71" fill="#6b6bff" />
<rect x="46.00" y="367.53" width="9.90" height="1.71" fill="#1f1fff" />
<rect x="55.50" y="367.53" width="9.90" height="1.71" fill="#ff8d8d" />
<rect x="65.00" y="367.53" width="9.90" height="1.71" fill="#ff4848" />
<rect x="74.50" y="367.53" width="9.50" height="1.71" fill="#ff1616" />
<rect x="27.00" y="368.85" width="9.90" height="1.71" fill="#5353ff" />
<rect x="36.50" y="368.85" width="9.90" height="1.71" fill="#1d1dff" />
<rect x="46.00" y="368.85" width="9.90" height="1.71" fill="#1818ff" />
<rect x="55.50" y="368.85" width="9.90" height="1.71" fill="#ff1010" />
<rect x="65.00" y="368.85" width="9.90" height="1.71" fill="#ff6d6d" />
<rect x="74.50" y="368.85" width="9.50" height="1.71" fill="#ff2323" />
<rect x="27.00" y="370.16" width="9.90" height="1.71" fill="#1d1dff" />
<rect x="36.50" y="370.16" width="9.90" height="1.71" fill="#d3d1fd" />
<rect x="46.00" y="370.16" width="9.90" height="1.71" fill="#1313ff" />
<rect x="55.50" y="370.16" width="9.90" height="1.71" fill="#ff5c5c" />
<rect x="65.00" y="370.16" width="9.90" height="1.71" fill="#ff1212" />
<rect x="74.50" y="370.16" width="9.50" height="1.71" fill="#ff0303" />
<rect x="27.00" y="371.48" width="9.90" height="1.71" fill="#0000ff" />
<rect x="36.50" y="371.48" width="9.90" height="1.71" fill="#a3a3ff" />
<rect x="46.00" y="371.48" width="9.90" height="1.71" fill="#0404ff" />
<rect x="55.50" y="371.48" width="9.90" height="1.71" fill="#ff8888" />
<rect x="65.00" y="371.48" width="9.90" height="1.71" fill="#ff7b7b" />
<rect x="74.50" y="371.48" width="9.50" height="1.71" fill="#ff1414" />
<rect x="27.00" y="372.79" width="9.90" height="1.71" fill="#a8a8ff" />
<rect x="36.50" y="372.79" width="9.90" height="1.71" fill="#1818ff" />
<rect x="46.00" y="372.79" width="9.90" height="1.71" fill="#6565ff" />
<rect x="55.50" y="372.79" width="9.90" height="1.71" fill="#ff5e5e" />
<rect x="65.00" y="372.79" width="9.90" height="1.71" fill="#ff1616" />
<rect x="74.50" y="372.79" width="9.50" height="1.71" fill="#c86e96" />
<rect x="27.00" y="374.10" width="9.90" height="1.71" fill="#b3b3ff" />
<rect x="36.50" y="374.10" width="9.90" height="1.71" fill="#9090ff" />
<rect x="46.00" y="374.10" width="9.90" height="1.71" fill="#0c0cff" />
<rect x="55.50" y="374.10" width="9.90" height="1.71" fill="#ff1414" />
<rect x="65.00" y="374.10" width="9.90" height="1.71" fill="#fbdee1" />
<rect x="74.50" y="374.10" width="9.50" height="1.71" fill="#ff7f7f" />
<rect x="27.00" y="375.42" width="9.90" height="1.71" fill="#1b1bff" />
<rect x="36.50" y="375.42" width="9.90" height="1.71" fill="#cac9ff" />
<rect x="46.00" y="375.42" width="9.90" height="1.71" fill="#0505ff" />
<rect x="55.50" y="375.42" width="9.90" height="1.71" fill="#ff8e8e" />
<rect x="65.00" y="375.42" width="9.90" height="1.71" fill="#ffa8a8" />
<rect x="74.50" y="375.42" width="9.50" height="1.71" fill="#ff0b0b" />
<rect x="27.00" y="376.73" width="9.90" height="1.71" fill="#8080ff" />
<rect x="36.50" y="376.73" width="9.90" height="1.71" fill="#b2b2ff" />
<rect x="46.00" y="376.73" width="9.90" height="1.71" fill="#2121ff" />
<rect x="55.50" y="376.73" width="9.90" height="1.71" fill="#c86e96" />
<rect x="65.00" y="376.73" width="9.90" height="1.71" fill="#ff6161" />
<rect x="74.50" y="376.73" width="9.50" height="1.71" fill="#ff0909" />
<rect x="27.00" y="378.05" width="9.90" height="1.71" fill="#0606ff" />
<rect x="36.50" y="378.05" width="9.90" height="1.71" fill="#8a8aff" />
<rect x="46.00" y="378.05" width="9.90" height="1.71" fill="#5a5aff" />
<rect x="55.50" y="378.05" width="9.90" height="1.71" fill="#ff1818" />
<rect x="65.00" y="378.05" width="9.90" height="1.71" fill="#fecfcf" />
<rect x="74.50" y="378.05" width="9.50" height="1.71" fill="#ff5a5a" />
<rect x="27.00" y="379.36" width="9.90" height="1.71" fill="#1919ff" />
<rect x="36.50" y="379.36" width="9.90" height="1.71" fill="#1717ff" />
<rect x="46.00" y="379.36" width="9.90" height="1.71" fill="#0d0dff" />
<rect x="55.50" y="379.36" width="9.90" height="1.71" fill="#ff1111" />
<rect x="65.00" y="379.36" width="9.90" height="1.71" fill="#fcd9dc" />
<rect x="74.50" y="379.36" width="9.50" height="1.71" fill="#ff6b6b" />
<rect x="27.00" y="380.67" width="9.90" height="1.71" fill="#c9c9ff" />
<rect x="36.50" y="380.67" width="9.90" height="1.71" fill="#0d0dff" />
<rect x="46.00" y="380.67" width="9.90" height="1.71" fill="#5050ff" />
<rect x="55.50" y="380.67" width="9.90" height="1.71" fill="#ff8686" />
<rect x="65.00" y="380.67" width="9.90" height="1.71" fill="#ffaaaa" />
<rect x="74.50" y="380.67" width="9.50" height="1.71" fill="#ff1b1b" />
<rect x="27.00" y="381.99" width="9.90" height="1.71" fill="#5757ff" />
<rect x="36.50" y="381.99" width="9.90" height="1.71" fill="#b7b7ff" />
<rect x="46.00" y="381.99" width="9.90" height="1.71" fill="#c0c0ff" />
<rect x="55.50" y="381.99" width="9.90" height="1.71" fill="#c86e96" />
<rect x="65.00" y="381.99" width="9.90" height="1.71" fill="#ffa8a8" />
<rect x="74.50" y="381.99" width="9.50" height="1.71" fill="#ff1616" />
<rect x="27.00" y="383.30" width="9.90" height="1.71" fill="#1b1bff" />
<rect x="36.50" y="383.30" width="9.90" height="1.71" fill="#0202ff" />
<rect x="46.00" y="383.30" width="9.90" height="1.71" fill="#0505ff" />
<rect x="55.50" y="383.30" width="9.90" height="1.71" fill="#ff8e8e" />
<rect x="65.00" y="383.30" width="9.90" height="1.71" fill="#c86e96" />
<rect x="74.50" y="383.30" width="9.50" height="1.71" fill="#ff0d0d" />
<rect x="27.00" y="384.62" width="9.90" height="1.71" fill="#cacaff" />
<rect x="36.50" y="384.62" width="9.90" height="1.71" fill="#1515ff" />
<rect x="46.00" y="384.62" width="9.90" height="1.71" fill="#0101ff" />
<rect x="55.50" y="384.62" width="9.90" height="1.71" fill="#fdd2d3" />
<rect x="65.00" y="384.62" width="9.90" height="1.71" fill="#ff9393" />
<rect x="74.50" y="384.62" width="9.50" height="1.71" fill="#ffb2b2" />
<rect x="27.00" y="385.93" width="9.90" height="1.71" fill="#9696ff" />
<rect x="36.50" y="385.93" width="9.90" height="1.71" fill="#6060ff" />
<rect x="46.00" y="385.93" width="9.90" height="1.71" fill="#aeaeff" />
<rect x="55.50" y="385.93" width="9.90" height="1.71" fill="#ff6161" />
<rect x="65.00" y="385.93" width="9.90" height="1.71" fill="#ff4949" />
<rect x="74.50" y="385.93" width="9.50" height="1.71" fill="#ff0707" />
<rect x="27.00" y="387.24" width="9.90" height="1.71" fill="#4747ff" />
<rect x="36.50" y="387.24" width="9.90" height="1.71" fill="#1515ff" />
<rect x="46.00" y="387.24" width="9.90" height="1.71" fill="#1313ff" />
<rect x="55.50" y="387.24" width="9.90" height="1.71" fill="#ff0505" />
<rect x="65.00" y="387.24" width="9.90" height="1.71" fill="#ff7878" />
<rect x="74.50" y="387.24" width="9.50" height="1.71" fill="#ff7777" />
<rect x="27.00" y="388.56" width="9.90" height="1.71" fill="#0101ff" />
<rect x="36.50" y="388.56" width="9.90" height="1.71" fill="#9e9eff" />
<rect x="46.00" y="388.56" width="9.90" height="1.71" fill="#1b1bff" />
<rect x="55.50" y="388.56" width="9.90" height="1.71" fill="#ff2020" />
<rect x="65.00" y="388.56" width="9.90" height="1.71" fill="#ffa4a4" />
<rect x="74.50" y="388.56" width="9.50" height="1.71" fill="#ff1b1b" />
<rect x="27.00" y="389.87" width="9.90" height="1.71" fill="#c7c7ff" />
<rect x="36.50" y="389.87" width="9.90" height="1.71" fill="#1e1eff" />
<rect x="46.00" y="389.87" width="9.90" height="1.71" fill="#7070ff" />
<rect x="55.50" y="389.87" width="9.90" height="1.71" fill="#ff1f1f" />
<rect x="65.00" y="389.87" width="9.90" height="1.71" fill="#ff8484" />
<rect x="74.50" y="389.87" width="9.50" height="1.71" fill="#ff1d1d" />
<rect x="27.00" y="391.19" width="9.90" height="1.31" fill="#2222ff" />
<rect x="36.50" y="391.19" width="9.90" height="1.31" fill="#a4a4ff" />
<rect x="46.00" y="391.19" width="9.90" height="1.31" fill="#0505ff" />
<rect x="55.50" y="391.19" width="9.90" height="1.31" fill="#ff0202" />
<rect x="65.00" y="391.19" width="9.90" height="1.31" fill="#ff0a0a" />
<rect x="74.50" y="391.19" width="9.50" height="1.31" fill="#ff7070" />
<line x1="27.10" y1="394.50" x2="54.70" y2="394.50" stroke="#888" stroke-width="0.7" />
<line x1="56.60" y1="394.50" x2="83.80" y2="394.50" stroke="#888" stroke-width="0.7" />
<text x="41.50" y="397.00" font-size="2.7" text-anchor="middle" font-weight="normal" fill="#333" textLength="18" lengthAdjust="spacingAndGlyphs">Gefitinib-sensitive</text>
<text x="42.30" y="399.40" font-size="2.7" text-anchor="middle" font-weight="normal" fill="#333" >(n=3)</text>
<text x="70.80" y="397.00" font-size="2.7" text-anchor="middle" font-weight="normal" fill="#333" textLength="18" lengthAdjust="spacingAndGlyphs">Gefitinib-resistant</text>
<text x="70.80" y="399.40" font-size="2.7" text-anchor="middle" font-weight="normal" fill="#333" >(n=3)</text>
<rect x="133.20" y="16.10" width="63.30" height="4.00" fill="url(#g2)" stroke="#999" stroke-width="0.4"/>
<text x="133.50" y="23.00" font-size="3.0" text-anchor="middle" font-weight="normal" fill="#444" textLength="12.3" lengthAdjust="spacingAndGlyphs">row min</text>
<text x="196.20" y="23.00" font-size="3.0" text-anchor="middle" font-weight="normal" fill="#444" textLength="12.9" lengthAdjust="spacingAndGlyphs">row max</text>
<rect x="108.10" y="62.60" width="9.84" height="4.17" fill="#0000ff" />
<rect x="117.54" y="62.60" width="9.84" height="4.17" fill="#0000ff" />
<rect x="126.98" y="62.60" width="9.84" height="4.17" fill="#ff4c4c" />
<rect x="136.43" y="62.60" width="9.84" height="4.17" fill="#ff0000" />
<rect x="145.87" y="62.60" width="9.84" height="4.17" fill="#ff9494" />
<rect x="155.31" y="62.60" width="9.84" height="4.17" fill="#ff4c4c" />
<rect x="164.75" y="62.60" width="9.84" height="4.17" fill="#fff2f2" />
<rect x="174.19" y="62.60" width="9.84" height="4.17" fill="#ffc6c6" />
<rect x="183.63" y="62.60" width="9.84" height="4.17" fill="#ff4c4c" />
<rect x="193.07" y="62.60" width="9.84" height="4.17" fill="#ff4c4c" />
<rect x="202.52" y="62.60" width="9.84" height="4.17" fill="#ff4c4c" />
<rect x="211.96" y="62.60" width="9.44" height="4.17" fill="#ff9494" />
<rect x="108.10" y="66.37" width="9.84" height="4.17" fill="#3c3cff" />
<rect x="117.54" y="66.37" width="9.84" height="4.17" fill="#0000ff" />
<rect x="126.98" y="66.37" width="9.84" height="4.17" fill="#ffc6c6" />
<rect x="136.43" y="66.37" width="9.84" height="4.17" fill="#c8c8ff" />
<rect x="145.87" y="66.37" width="9.84" height="4.17" fill="#ff9494" />
<rect x="155.31" y="66.37" width="9.84" height="4.17" fill="#ff9494" />
<rect x="164.75" y="66.37" width="9.84" height="4.17" fill="#ff9494" />
<rect x="174.19" y="66.37" width="9.84" height="4.17" fill="#ffc6c6" />
<rect x="183.63" y="66.37" width="9.84" height="4.17" fill="#ff4c4c" />
<rect x="193.07" y="66.37" width="9.84" height="4.17" fill="#ff4c4c" />
<rect x="202.52" y="66.37" width="9.84" height="4.17" fill="#ff0000" />
<rect x="211.96" y="66.37" width="9.44" height="4.17" fill="#ff9494" />
<rect x="108.10" y="70.15" width="9.84" height="4.17" fill="#0000ff" />
<rect x="117.54" y="70.15" width="9.84" height="4.17" fill="#0000ff" />
<rect x="126.98" y="70.15" width="9.84" height="4.17" fill="#ff0000" />
<rect x="136.43" y="70.15" width="9.84" height="4.17" fill="#ff4c4c" />
<rect x="145.87" y="70.15" width="9.84" height="4.17" fill="#ff4c4c" />
<rect x="155.31" y="70.15" width="9.84" height="4.17" fill="#ffc6c6" />
<rect x="164.75" y="70.15" width="9.84" height="4.17" fill="#c8c8ff" />
<rect x="174.19" y="70.15" width="9.84" height="4.17" fill="#ffc6c6" />
<rect x="183.63" y="70.15" width="9.84" height="4.17" fill="#ff4c4c" />
<rect x="193.07" y="70.15" width="9.84" height="4.17" fill="#ff0000" />
<rect x="202.52" y="70.15" width="9.84" height="4.17" fill="#ff0000" />
<rect x="211.96" y="70.15" width="9.44" height="4.17" fill="#ff9494" />
<rect x="108.10" y="73.92" width="9.84" height="4.17" fill="#0000ff" />
<rect x="117.54" y="73.92" width="9.84" height="4.17" fill="#0000ff" />
<rect x="126.98" y="73.92" width="9.84" height="4.17" fill="#ff4c4c" />
<rect x="136.43" y="73.92" width="9.84" height="4.17" fill="#ff9494" />
<rect x="145.87" y="73.92" width="9.84" height="4.17" fill="#ffc6c6" />
<rect x="155.31" y="73.92" width="9.84" height="4.17" fill="#fff2f2" />
<rect x="164.75" y="73.92" width="9.84" height="4.17" fill="#ff9494" />
<rect x="174.19" y="73.92" width="9.84" height="4.17" fill="#ffc6c6" />
<rect x="183.63" y="73.92" width="9.84" height="4.17" fill="#fff2f2" />
<rect x="193.07" y="73.92" width="9.84" height="4.17" fill="#ff4c4c" />
<rect x="202.52" y="73.92" width="9.84" height="4.17" fill="#ff4c4c" />
<rect x="211.96" y="73.92" width="9.44" height="4.17" fill="#ff0000" />
<rect x="108.10" y="77.70" width="9.84" height="4.17" fill="#0000ff" />
<rect x="117.54" y="77.70" width="9.84" height="4.17" fill="#0000ff" />
<rect x="126.98" y="77.70" width="9.84" height="4.17" fill="#ff0000" />
<rect x="136.43" y="77.70" width="9.84" height="4.17" fill="#ff0000" />
<rect x="145.87" y="77.70" width="9.84" height="4.17" fill="#c8c8ff" />
<rect x="155.31" y="77.70" width="9.84" height="4.17" fill="#ff9494" />
<rect x="164.75" y="77.70" width="9.84" height="4.17" fill="#ffc6c6" />
<rect x="174.19" y="77.70" width="9.84" height="4.17" fill="#ff4c4c" />
<rect x="183.63" y="77.70" width="9.84" height="4.17" fill="#fff2f2" />
<rect x="193.07" y="77.70" width="9.84" height="4.17" fill="#ff4c4c" />
<rect x="202.52" y="77.70" width="9.84" height="4.17" fill="#ff0000" />
<rect x="211.96" y="77.70" width="9.44" height="4.17" fill="#ff4c4c" />
<rect x="108.10" y="81.47" width="9.84" height="4.17" fill="#0000ff" />
<rect x="117.54" y="81.47" width="9.84" height="4.17" fill="#0000ff" />
<rect x="126.98" y="81.47" width="9.84" height="4.17" fill="#ff0000" />
<rect x="136.43" y="81.47" width="9.84" height="4.17" fill="#ff0000" />
<rect x="145.87" y="81.47" width="9.84" height="4.17" fill="#ffc6c6" />
<rect x="155.31" y="81.47" width="9.84" height="4.17" fill="#ff9494" />
<rect x="164.75" y="81.47" width="9.84" height="4.17" fill="#8484ff" />
<rect x="174.19" y="81.47" width="9.84" height="4.17" fill="#c8c8ff" />
<rect x="183.63" y="81.47" width="9.84" height="4.17" fill="#ffc6c6" />
<rect x="193.07" y="81.47" width="9.84" height="4.17" fill="#ffc6c6" />
<rect x="202.52" y="81.47" width="9.84" height="4.17" fill="#ff0000" />
<rect x="211.96" y="81.47" width="9.44" height="4.17" fill="#ff0000" />
<rect x="108.10" y="85.25" width="9.84" height="4.17" fill="#3c3cff" />
<rect x="117.54" y="85.25" width="9.84" height="4.17" fill="#0000ff" />
<rect x="126.98" y="85.25" width="9.84" height="4.17" fill="#fff2f2" />
<rect x="136.43" y="85.25" width="9.84" height="4.17" fill="#ffc6c6" />
<rect x="145.87" y="85.25" width="9.84" height="4.17" fill="#ff0000" />
<rect x="155.31" y="85.25" width="9.84" height="4.17" fill="#ff9494" />
<rect x="164.75" y="85.25" width="9.84" height="4.17" fill="#fff2f2" />
<rect x="174.19" y="85.25" width="9.84" height="4.17" fill="#ff4c4c" />
<rect x="183.63" y="85.25" width="9.84" height="4.17" fill="#ff9494" />
<rect x="193.07" y="85.25" width="9.84" height="4.17" fill="#fff2f2" />
<rect x="202.52" y="85.25" width="9.84" height="4.17" fill="#ffc6c6" />
<rect x="211.96" y="85.25" width="9.44" height="4.17" fill="#fff2f2" />
<rect x="108.10" y="89.02" width="9.84" height="4.17" fill="#0000ff" />
<rect x="117.54" y="89.02" width="9.84" height="4.17" fill="#0000ff" />
<rect x="126.98" y="89.02" width="9.84" height="4.17" fill="#ffc6c6" />
<rect x="136.43" y="89.02" width="9.84" height="4.17" fill="#ff9494" />
<rect x="145.87" y="89.02" width="9.84" height="4.17" fill="#ffc6c6" />
<rect x="155.31" y="89.02" width="9.84" height="4.17" fill="#ffc6c6" />
<rect x="164.75" y="89.02" width="9.84" height="4.17" fill="#c8c8ff" />
<rect x="174.19" y="89.02" width="9.84" height="4.17" fill="#c8c8ff" />
<rect x="183.63" y="89.02" width="9.84" height="4.17" fill="#8484ff" />
<rect x="193.07" y="89.02" width="9.84" height="4.17" fill="#ff9494" />
<rect x="202.52" y="89.02" width="9.84" height="4.17" fill="#ff0000" />
<rect x="211.96" y="89.02" width="9.44" height="4.17" fill="#ff9494" />
<rect x="108.10" y="92.80" width="9.84" height="4.17" fill="#0000ff" />
<rect x="117.54" y="92.80" width="9.84" height="4.17" fill="#0000ff" />
<rect x="126.98" y="92.80" width="9.84" height="4.17" fill="#ff9494" />
<rect x="136.43" y="92.80" width="9.84" height="4.17" fill="#ff0000" />
<rect x="145.87" y="92.80" width="9.84" height="4.17" fill="#ffc6c6" />
<rect x="155.31" y="92.80" width="9.84" height="4.17" fill="#ff9494" />
<rect x="164.75" y="92.80" width="9.84" height="4.17" fill="#8484ff" />
<rect x="174.19" y="92.80" width="9.84" height="4.17" fill="#8484ff" />
<rect x="183.63" y="92.80" width="9.84" height="4.17" fill="#ff9494" />
<rect x="193.07" y="92.80" width="9.84" height="4.17" fill="#ff4c4c" />
<rect x="202.52" y="92.80" width="9.84" height="4.17" fill="#ff9494" />
<rect x="211.96" y="92.80" width="9.44" height="4.17" fill="#ff9494" />
<rect x="108.10" y="96.57" width="9.84" height="4.17" fill="#0000ff" />
<rect x="117.54" y="96.57" width="9.84" height="4.17" fill="#0000ff" />
<rect x="126.98" y="96.57" width="9.84" height="4.17" fill="#ff0000" />
<rect x="136.43" y="96.57" width="9.84" height="4.17" fill="#ff4c4c" />
<rect x="145.87" y="96.57" width="9.84" height="4.17" fill="#ffc6c6" />
<rect x="155.31" y="96.57" width="9.84" height="4.17" fill="#ff9494" />
<rect x="164.75" y="96.57" width="9.84" height="4.17" fill="#8484ff" />
<rect x="174.19" y="96.57" width="9.84" height="4.17" fill="#8484ff" />
<rect x="183.63" y="96.57" width="9.84" height="4.17" fill="#fff2f2" />
<rect x="193.07" y="96.57" width="9.84" height="4.17" fill="#ffc6c6" />
<rect x="202.52" y="96.57" width="9.84" height="4.17" fill="#fff2f2" />
<rect x="211.96" y="96.57" width="9.44" height="4.17" fill="#c8c8ff" />
<rect x="108.10" y="100.34" width="9.84" height="4.17" fill="#0000ff" />
<rect x="117.54" y="100.34" width="9.84" height="4.17" fill="#0000ff" />
<rect x="126.98" y="100.34" width="9.84" height="4.17" fill="#ff4c4c" />
<rect x="136.43" y="100.34" width="9.84" height="4.17" fill="#ffc6c6" />
<rect x="145.87" y="100.34" width="9.84" height="4.17" fill="#ff9494" />
<rect x="155.31" y="100.34" width="9.84" height="4.17" fill="#ff9494" />
<rect x="164.75" y="100.34" width="9.84" height="4.17" fill="#c8c8ff" />
<rect x="174.19" y="100.34" width="9.84" height="4.17" fill="#8484ff" />
<rect x="183.63" y="100.34" width="9.84" height="4.17" fill="#ff0000" />
<rect x="193.07" y="100.34" width="9.84" height="4.17" fill="#ff4c4c" />
<rect x="202.52" y="100.34" width="9.84" height="4.17" fill="#ffc6c6" />
<rect x="211.96" y="100.34" width="9.44" height="4.17" fill="#ff9494" />
<rect x="108.10" y="104.12" width="9.84" height="4.17" fill="#0000ff" />
<rect x="117.54" y="104.12" width="9.84" height="4.17" fill="#0000ff" />
<rect x="126.98" y="104.12" width="9.84" height="4.17" fill="#fff2f2" />
<rect x="136.43" y="104.12" width="9.84" height="4.17" fill="#c8c8ff" />
<rect x="145.87" y="104.12" width="9.84" height="4.17" fill="#ff0000" />
<rect x="155.31" y="104.12" width="9.84" height="4.17" fill="#ffc6c6" />
<rect x="164.75" y="104.12" width="9.84" height="4.17" fill="#8484ff" />
<rect x="174.19" y="104.12" width="9.84" height="4.17" fill="#c8c8ff" />
<rect x="183.63" y="104.12" width="9.84" height="4.17" fill="#c8c8ff" />
<rect x="193.07" y="104.12" width="9.84" height="4.17" fill="#8484ff" />
<rect x="202.52" y="104.12" width="9.84" height="4.17" fill="#8484ff" />
<rect x="211.96" y="104.12" width="9.44" height="4.17" fill="#8484ff" />
<rect x="108.10" y="107.89" width="9.84" height="4.17" fill="#0000ff" />
<rect x="117.54" y="107.89" width="9.84" height="4.17" fill="#0000ff" />
<rect x="126.98" y="107.89" width="9.84" height="4.17" fill="#ff9494" />
<rect x="136.43" y="107.89" width="9.84" height="4.17" fill="#ff4c4c" />
<rect x="145.87" y="107.89" width="9.84" height="4.17" fill="#ff0000" />
<rect x="155.31" y="107.89" width="9.84" height="4.17" fill="#ff9494" />
<rect x="164.75" y="107.89" width="9.84" height="4.17" fill="#fff2f2" />
<rect x="174.19" y="107.89" width="9.84" height="4.17" fill="#8484ff" />
<rect x="183.63" y="107.89" width="9.84" height="4.17" fill="#ff4c4c" />
<rect x="193.07" y="107.89" width="9.84" height="4.17" fill="#ff0000" />
<rect x="202.52" y="107.89" width="9.84" height="4.17" fill="#c8c8ff" />
<rect x="211.96" y="107.89" width="9.44" height="4.17" fill="#3c3cff" />
<rect x="108.10" y="111.67" width="9.84" height="4.17" fill="#0000ff" />
<rect x="117.54" y="111.67" width="9.84" height="4.17" fill="#0000ff" />
<rect x="126.98" y="111.67" width="9.84" height="4.17" fill="#ff4c4c" />
<rect x="136.43" y="111.67" width="9.84" height="4.17" fill="#ff9494" />
<rect x="145.87" y="111.67" width="9.84" height="4.17" fill="#ffc6c6" />
<rect x="155.31" y="111.67" width="9.84" height="4.17" fill="#ff9494" />
<rect x="164.75" y="111.67" width="9.84" height="4.17" fill="#3c3cff" />
<rect x="174.19" y="111.67" width="9.84" height="4.17" fill="#8484ff" />
<rect x="183.63" y="111.67" width="9.84" height="4.17" fill="#ffc6c6" />
<rect x="193.07" y="111.67" width="9.84" height="4.17" fill="#fff2f2" />
<rect x="202.52" y="111.67" width="9.84" height="4.17" fill="#ff0000" />
<rect x="211.96" y="111.67" width="9.44" height="4.17" fill="#ff4c4c" />
<rect x="108.10" y="115.44" width="9.84" height="4.17" fill="#0000ff" />
<rect x="117.54" y="115.44" width="9.84" height="4.17" fill="#0000ff" />
<rect x="126.98" y="115.44" width="9.84" height="4.17" fill="#fff2f2" />
<rect x="136.43" y="115.44" width="9.84" height="4.17" fill="#c8c8ff" />
<rect x="145.87" y="115.44" width="9.84" height="4.17" fill="#ff0000" />
<rect x="155.31" y="115.44" width="9.84" height="4.17" fill="#ff4c4c" />
<rect x="164.75" y="115.44" width="9.84" height="4.17" fill="#3c3cff" />
<rect x="174.19" y="115.44" width="9.84" height="4.17" fill="#3c3cff" />
<rect x="183.63" y="115.44" width="9.84" height="4.17" fill="#c8c8ff" />
<rect x="193.07" y="115.44" width="9.84" height="4.17" fill="#ffc6c6" />
<rect x="202.52" y="115.44" width="9.84" height="4.17" fill="#ffc6c6" />
<rect x="211.96" y="115.44" width="9.44" height="4.17" fill="#ffc6c6" />
<rect x="108.10" y="119.22" width="9.84" height="4.17" fill="#0000ff" />
<rect x="117.54" y="119.22" width="9.84" height="4.17" fill="#0000ff" />
<rect x="126.98" y="119.22" width="9.84" height="4.17" fill="#ffc6c6" />
<rect x="136.43" y="119.22" width="9.84" height="4.17" fill="#ff0000" />
<rect x="145.87" y="119.22" width="9.84" height="4.17" fill="#c8c8ff" />
<rect x="155.31" y="119.22" width="9.84" height="4.17" fill="#c8c8ff" />
<rect x="164.75" y="119.22" width="9.84" height="4.17" fill="#c8c8ff" />
<rect x="174.19" y="119.22" width="9.84" height="4.17" fill="#c8c8ff" />
<rect x="183.63" y="119.22" width="9.84" height="4.17" fill="#ff0000" />
<rect x="193.07" y="119.22" width="9.84" height="4.17" fill="#ff4c4c" />
<rect x="202.52" y="119.22" width="9.84" height="4.17" fill="#ff9494" />
<rect x="211.96" y="119.22" width="9.44" height="4.17" fill="#ff9494" />
<rect x="108.10" y="122.99" width="9.84" height="4.17" fill="#0000ff" />
<rect x="117.54" y="122.99" width="9.84" height="4.17" fill="#0000ff" />
<rect x="126.98" y="122.99" width="9.84" height="4.17" fill="#ffc6c6" />
<rect x="136.43" y="122.99" width="9.84" height="4.17" fill="#ff9494" />
<rect x="145.87" y="122.99" width="9.84" height="4.17" fill="#8484ff" />
<rect x="155.31" y="122.99" width="9.84" height="4.17" fill="#c8c8ff" />
<rect x="164.75" y="122.99" width="9.84" height="4.17" fill="#fff2f2" />
<rect x="174.19" y="122.99" width="9.84" height="4.17" fill="#fff2f2" />
<rect x="183.63" y="122.99" width="9.84" height="4.17" fill="#ff0000" />
<rect x="193.07" y="122.99" width="9.84" height="4.17" fill="#ff4c4c" />
<rect x="202.52" y="122.99" width="9.84" height="4.17" fill="#ff0000" />
<rect x="211.96" y="122.99" width="9.44" height="4.17" fill="#ff4c4c" />
<rect x="108.10" y="126.77" width="9.84" height="4.17" fill="#0000ff" />
<rect x="117.54" y="126.77" width="9.84" height="4.17" fill="#0000ff" />
<rect x="126.98" y="126.77" width="9.84" height="4.17" fill="#8484ff" />
<rect x="136.43" y="126.77" width="9.84" height="4.17" fill="#3c3cff" />
<rect x="145.87" y="126.77" width="9.84" height="4.17" fill="#ff4c4c" />
<rect x="155.31" y="126.77" width="9.84" height="4.17" fill="#ff0000" />
<rect x="164.75" y="126.77" width="9.84" height="4.17" fill="#3c3cff" />
<rect x="174.19" y="126.77" width="9.84" height="4.17" fill="#8484ff" />
<rect x="183.63" y="126.77" width="9.84" height="4.17" fill="#3c3cff" />
<rect x="193.07" y="126.77" width="9.84" height="4.17" fill="#8484ff" />
<rect x="202.52" y="126.77" width="9.84" height="4.17" fill="#3c3cff" />
<rect x="211.96" y="126.77" width="9.44" height="4.17" fill="#3c3cff" />
<rect x="108.10" y="130.54" width="9.84" height="4.17" fill="#0000ff" />
<rect x="117.54" y="130.54" width="9.84" height="4.17" fill="#0000ff" />
<rect x="126.98" y="130.54" width="9.84" height="4.17" fill="#ff9494" />
<rect x="136.43" y="130.54" width="9.84" height="4.17" fill="#ff0000" />
<rect x="145.87" y="130.54" width="9.84" height="4.17" fill="#ffc6c6" />
<rect x="155.31" y="130.54" width="9.84" height="4.17" fill="#ff9494" />
<rect x="164.75" y="130.54" width="9.84" height="4.17" fill="#8484ff" />
<rect x="174.19" y="130.54" width="9.84" height="4.17" fill="#c8c8ff" />
<rect x="183.63" y="130.54" width="9.84" height="4.17" fill="#8484ff" />
<rect x="193.07" y="130.54" width="9.84" height="4.17" fill="#ffc6c6" />
<rect x="202.52" y="130.54" width="9.84" height="4.17" fill="#fff2f2" />
<rect x="211.96" y="130.54" width="9.44" height="4.17" fill="#c8c8ff" />
<rect x="108.10" y="134.31" width="9.84" height="4.17" fill="#0000ff" />
<rect x="117.54" y="134.31" width="9.84" height="4.17" fill="#0000ff" />
<rect x="126.98" y="134.31" width="9.84" height="4.17" fill="#8484ff" />
<rect x="136.43" y="134.31" width="9.84" height="4.17" fill="#ff0000" />
<rect x="145.87" y="134.31" width="9.84" height="4.17" fill="#ffc6c6" />
<rect x="155.31" y="134.31" width="9.84" height="4.17" fill="#8484ff" />
<rect x="164.75" y="134.31" width="9.84" height="4.17" fill="#c8c8ff" />
<rect x="174.19" y="134.31" width="9.84" height="4.17" fill="#ffc6c6" />
<rect x="183.63" y="134.31" width="9.84" height="4.17" fill="#ff4c4c" />
<rect x="193.07" y="134.31" width="9.84" height="4.17" fill="#fff2f2" />
<rect x="202.52" y="134.31" width="9.84" height="4.17" fill="#ff0000" />
<rect x="211.96" y="134.31" width="9.44" height="4.17" fill="#ff9494" />
<rect x="108.10" y="138.09" width="9.84" height="4.17" fill="#0000ff" />
<rect x="117.54" y="138.09" width="9.84" height="4.17" fill="#0000ff" />
<rect x="126.98" y="138.09" width="9.84" height="4.17" fill="#ff4c4c" />
<rect x="136.43" y="138.09" width="9.84" height="4.17" fill="#ff0000" />
<rect x="145.87" y="138.09" width="9.84" height="4.17" fill="#ff9494" />
<rect x="155.31" y="138.09" width="9.84" height="4.17" fill="#ff4c4c" />
<rect x="164.75" y="138.09" width="9.84" height="4.17" fill="#c8c8ff" />
<rect x="174.19" y="138.09" width="9.84" height="4.17" fill="#c8c8ff" />
<rect x="183.63" y="138.09" width="9.84" height="4.17" fill="#ff0000" />
<rect x="193.07" y="138.09" width="9.84" height="4.17" fill="#ff0000" />
<rect x="202.52" y="138.09" width="9.84" height="4.17" fill="#fff2f2" />
<rect x="211.96" y="138.09" width="9.44" height="4.17" fill="#c8c8ff" />
<rect x="108.10" y="141.86" width="9.84" height="4.17" fill="#0000ff" />
<rect x="117.54" y="141.86" width="9.84" height="4.17" fill="#0000ff" />
<rect x="126.98" y="141.86" width="9.84" height="4.17" fill="#8484ff" />
<rect x="136.43" y="141.86" width="9.84" height="4.17" fill="#3c3cff" />
<rect x="145.87" y="141.86" width="9.84" height="4.17" fill="#ff0000" />
<rect x="155.31" y="141.86" width="9.84" height="4.17" fill="#ff9494" />
<rect x="164.75" y="141.86" width="9.84" height="4.17" fill="#ffc6c6" />
<rect x="174.19" y="141.86" width="9.84" height="4.17" fill="#c8c8ff" />
<rect x="183.63" y="141.86" width="9.84" height="4.17" fill="#ff4c4c" />
<rect x="193.07" y="141.86" width="9.84" height="4.17" fill="#ff9494" />
<rect x="202.52" y="141.86" width="9.84" height="4.17" fill="#8484ff" />
<rect x="211.96" y="141.86" width="9.44" height="4.17" fill="#8484ff" />
<rect x="108.10" y="145.64" width="9.84" height="4.17" fill="#0000ff" />
<rect x="117.54" y="145.64" width="9.84" height="4.17" fill="#0000ff" />
<rect x="126.98" y="145.64" width="9.84" height="4.17" fill="#ffc6c6" />
<rect x="136.43" y="145.64" width="9.84" height="4.17" fill="#ffc6c6" />
<rect x="145.87" y="145.64" width="9.84" height="4.17" fill="#ff4c4c" />
<rect x="155.31" y="145.64" width="9.84" height="4.17" fill="#ff0000" />
<rect x="164.75" y="145.64" width="9.84" height="4.17" fill="#8484ff" />
<rect x="174.19" y="145.64" width="9.84" height="4.17" fill="#c8c8ff" />
<rect x="183.63" y="145.64" width="9.84" height="4.17" fill="#fff2f2" />
<rect x="193.07" y="145.64" width="9.84" height="4.17" fill="#c8c8ff" />
<rect x="202.52" y="145.64" width="9.84" height="4.17" fill="#ff4c4c" />
<rect x="211.96" y="145.64" width="9.44" height="4.17" fill="#ff9494" />
<rect x="108.10" y="149.41" width="9.84" height="4.17" fill="#0000ff" />
<rect x="117.54" y="149.41" width="9.84" height="4.17" fill="#0000ff" />
<rect x="126.98" y="149.41" width="9.84" height="4.17" fill="#c8c8ff" />
<rect x="136.43" y="149.41" width="9.84" height="4.17" fill="#fff2f2" />
<rect x="145.87" y="149.41" width="9.84" height="4.17" fill="#ff0000" />
<rect x="155.31" y="149.41" width="9.84" height="4.17" fill="#ff0000" />
<rect x="164.75" y="149.41" width="9.84" height="4.17" fill="#3c3cff" />
<rect x="174.19" y="149.41" width="9.84" height="4.17" fill="#3c3cff" />
<rect x="183.63" y="149.41" width="9.84" height="4.17" fill="#ffc6c6" />
<rect x="193.07" y="149.41" width="9.84" height="4.17" fill="#ffc6c6" />
<rect x="202.52" y="149.41" width="9.84" height="4.17" fill="#3c3cff" />
<rect x="211.96" y="149.41" width="9.44" height="4.17" fill="#3c3cff" />
<rect x="108.10" y="153.19" width="9.84" height="4.17" fill="#0000ff" />
<rect x="117.54" y="153.19" width="9.84" height="4.17" fill="#0000ff" />
<rect x="126.98" y="153.19" width="9.84" height="4.17" fill="#ff9494" />
<rect x="136.43" y="153.19" width="9.84" height="4.17" fill="#ff9494" />
<rect x="145.87" y="153.19" width="9.84" height="4.17" fill="#ff0000" />
<rect x="155.31" y="153.19" width="9.84" height="4.17" fill="#ff4c4c" />
<rect x="164.75" y="153.19" width="9.84" height="4.17" fill="#8484ff" />
<rect x="174.19" y="153.19" width="9.84" height="4.17" fill="#8484ff" />
<rect x="183.63" y="153.19" width="9.84" height="4.17" fill="#ff0000" />
<rect x="193.07" y="153.19" width="9.84" height="4.17" fill="#ff4c4c" />
<rect x="202.52" y="153.19" width="9.84" height="4.17" fill="#ff0000" />
<rect x="211.96" y="153.19" width="9.44" height="4.17" fill="#ff9494" />
<rect x="108.10" y="156.96" width="9.84" height="4.17" fill="#3c3cff" />
<rect x="117.54" y="156.96" width="9.84" height="4.17" fill="#0000ff" />
<rect x="126.98" y="156.96" width="9.84" height="4.17" fill="#c8c8ff" />
<rect x="136.43" y="156.96" width="9.84" height="4.17" fill="#8484ff" />
<rect x="145.87" y="156.96" width="9.84" height="4.17" fill="#ff0000" />
<rect x="155.31" y="156.96" width="9.84" height="4.17" fill="#ff9494" />
<rect x="164.75" y="156.96" width="9.84" height="4.17" fill="#ff9494" />
<rect x="174.19" y="156.96" width="9.84" height="4.17" fill="#ff9494" />
<rect x="183.63" y="156.96" width="9.84" height="4.17" fill="#fff2f2" />
<rect x="193.07" y="156.96" width="9.84" height="4.17" fill="#ffc6c6" />
<rect x="202.52" y="156.96" width="9.84" height="4.17" fill="#c8c8ff" />
<rect x="211.96" y="156.96" width="9.44" height="4.17" fill="#c8c8ff" />
<rect x="108.10" y="160.74" width="9.84" height="4.17" fill="#0000ff" />
<rect x="117.54" y="160.74" width="9.84" height="4.17" fill="#0000ff" />
<rect x="126.98" y="160.74" width="9.84" height="4.17" fill="#ffc6c6" />
<rect x="136.43" y="160.74" width="9.84" height="4.17" fill="#c8c8ff" />
<rect x="145.87" y="160.74" width="9.84" height="4.17" fill="#ff9494" />
<rect x="155.31" y="160.74" width="9.84" height="4.17" fill="#fff2f2" />
<rect x="164.75" y="160.74" width="9.84" height="4.17" fill="#8484ff" />
<rect x="174.19" y="160.74" width="9.84" height="4.17" fill="#8484ff" />
<rect x="183.63" y="160.74" width="9.84" height="4.17" fill="#ff0000" />
<rect x="193.07" y="160.74" width="9.84" height="4.17" fill="#ffc6c6" />
<rect x="202.52" y="160.74" width="9.84" height="4.17" fill="#c8c8ff" />
<rect x="211.96" y="160.74" width="9.44" height="4.17" fill="#3c3cff" />
<rect x="108.10" y="164.51" width="9.84" height="4.17" fill="#0000ff" />
<rect x="117.54" y="164.51" width="9.84" height="4.17" fill="#8484ff" />
<rect x="126.98" y="164.51" width="9.84" height="4.17" fill="#ff0000" />
<rect x="136.43" y="164.51" width="9.84" height="4.17" fill="#ff4c4c" />
<rect x="145.87" y="164.51" width="9.84" height="4.17" fill="#fff2f2" />
<rect x="155.31" y="164.51" width="9.84" height="4.17" fill="#ffc6c6" />
<rect x="164.75" y="164.51" width="9.84" height="4.17" fill="#c8c8ff" />
<rect x="174.19" y="164.51" width="9.84" height="4.17" fill="#c8c8ff" />
<rect x="183.63" y="164.51" width="9.84" height="4.17" fill="#ff9494" />
<rect x="193.07" y="164.51" width="9.84" height="4.17" fill="#8484ff" />
<rect x="202.52" y="164.51" width="9.84" height="4.17" fill="#ff4c4c" />
<rect x="211.96" y="164.51" width="9.44" height="4.17" fill="#ff4c4c" />
<rect x="108.10" y="168.29" width="9.84" height="4.17" fill="#0000ff" />
<rect x="117.54" y="168.29" width="9.84" height="4.17" fill="#3c3cff" />
<rect x="126.98" y="168.29" width="9.84" height="4.17" fill="#ffc6c6" />
<rect x="136.43" y="168.29" width="9.84" height="4.17" fill="#ff9494" />
<rect x="145.87" y="168.29" width="9.84" height="4.17" fill="#ff9494" />
<rect x="155.31" y="168.29" width="9.84" height="4.17" fill="#ff9494" />
<rect x="164.75" y="168.29" width="9.84" height="4.17" fill="#8484ff" />
<rect x="174.19" y="168.29" width="9.84" height="4.17" fill="#8484ff" />
<rect x="183.63" y="168.29" width="9.84" height="4.17" fill="#ff0000" />
<rect x="193.07" y="168.29" width="9.84" height="4.17" fill="#ff0000" />
<rect x="202.52" y="168.29" width="9.84" height="4.17" fill="#c8c8ff" />
<rect x="211.96" y="168.29" width="9.44" height="4.17" fill="#c8c8ff" />
<rect x="108.10" y="172.06" width="9.84" height="4.17" fill="#0000ff" />
<rect x="117.54" y="172.06" width="9.84" height="4.17" fill="#3c3cff" />
<rect x="126.98" y="172.06" width="9.84" height="4.17" fill="#c8c8ff" />
<rect x="136.43" y="172.06" width="9.84" height="4.17" fill="#8484ff" />
<rect x="145.87" y="172.06" width="9.84" height="4.17" fill="#ff4c4c" />
<rect x="155.31" y="172.06" width="9.84" height="4.17" fill="#ff0000" />
<rect x="164.75" y="172.06" width="9.84" height="4.17" fill="#c8c8ff" />
<rect x="174.19" y="172.06" width="9.84" height="4.17" fill="#ffc6c6" />
<rect x="183.63" y="172.06" width="9.84" height="4.17" fill="#8484ff" />
<rect x="193.07" y="172.06" width="9.84" height="4.17" fill="#ff0000" />
<rect x="202.52" y="172.06" width="9.84" height="4.17" fill="#ff4c4c" />
<rect x="211.96" y="172.06" width="9.44" height="4.17" fill="#ff9494" />
<rect x="108.10" y="175.83" width="9.84" height="4.17" fill="#0000ff" />
<rect x="117.54" y="175.83" width="9.84" height="4.17" fill="#0000ff" />
<rect x="126.98" y="175.83" width="9.84" height="4.17" fill="#c8c8ff" />
<rect x="136.43" y="175.83" width="9.84" height="4.17" fill="#8484ff" />
<rect x="145.87" y="175.83" width="9.84" height="4.17" fill="#3c3cff" />
<rect x="155.31" y="175.83" width="9.84" height="4.17" fill="#3c3cff" />
<rect x="164.75" y="175.83" width="9.84" height="4.17" fill="#ffc6c6" />
<rect x="174.19" y="175.83" width="9.84" height="4.17" fill="#ff9494" />
<rect x="183.63" y="175.83" width="9.84" height="4.17" fill="#c8c8ff" />
<rect x="193.07" y="175.83" width="9.84" height="4.17" fill="#fff2f2" />
<rect x="202.52" y="175.83" width="9.84" height="4.17" fill="#ff0000" />
<rect x="211.96" y="175.83" width="9.44" height="4.17" fill="#ff9494" />
<rect x="108.10" y="179.61" width="9.84" height="4.17" fill="#0000ff" />
<rect x="117.54" y="179.61" width="9.84" height="4.17" fill="#3c3cff" />
<rect x="126.98" y="179.61" width="9.84" height="4.17" fill="#ff9494" />
<rect x="136.43" y="179.61" width="9.84" height="4.17" fill="#ff4c4c" />
<rect x="145.87" y="179.61" width="9.84" height="4.17" fill="#c8c8ff" />
<rect x="155.31" y="179.61" width="9.84" height="4.17" fill="#ff0000" />
<rect x="164.75" y="179.61" width="9.84" height="4.17" fill="#c8c8ff" />
<rect x="174.19" y="179.61" width="9.84" height="4.17" fill="#fff2f2" />
<rect x="183.63" y="179.61" width="9.84" height="4.17" fill="#3c3cff" />
<rect x="193.07" y="179.61" width="9.84" height="4.17" fill="#ffc6c6" />
<rect x="202.52" y="179.61" width="9.84" height="4.17" fill="#ff9494" />
<rect x="211.96" y="179.61" width="9.44" height="4.17" fill="#ff4c4c" />
<rect x="108.10" y="183.38" width="9.84" height="4.17" fill="#3c3cff" />
<rect x="117.54" y="183.38" width="9.84" height="4.17" fill="#0000ff" />
<rect x="126.98" y="183.38" width="9.84" height="4.17" fill="#c8c8ff" />
<rect x="136.43" y="183.38" width="9.84" height="4.17" fill="#ff0000" />
<rect x="145.87" y="183.38" width="9.84" height="4.17" fill="#c8c8ff" />
<rect x="155.31" y="183.38" width="9.84" height="4.17" fill="#ff4c4c" />
<rect x="164.75" y="183.38" width="9.84" height="4.17" fill="#ffc6c6" />
<rect x="174.19" y="183.38" width="9.84" height="4.17" fill="#3c3cff" />
<rect x="183.63" y="183.38" width="9.84" height="4.17" fill="#ff9494" />
<rect x="193.07" y="183.38" width="9.84" height="4.17" fill="#c8c8ff" />
<rect x="202.52" y="183.38" width="9.84" height="4.17" fill="#8484ff" />
<rect x="211.96" y="183.38" width="9.44" height="4.17" fill="#ff9494" />
<rect x="108.10" y="187.16" width="9.84" height="4.17" fill="#0000ff" />
<rect x="117.54" y="187.16" width="9.84" height="4.17" fill="#0000ff" />
<rect x="126.98" y="187.16" width="9.84" height="4.17" fill="#ff9494" />
<rect x="136.43" y="187.16" width="9.84" height="4.17" fill="#ff9494" />
<rect x="145.87" y="187.16" width="9.84" height="4.17" fill="#3c3cff" />
<rect x="155.31" y="187.16" width="9.84" height="4.17" fill="#ff4c4c" />
<rect x="164.75" y="187.16" width="9.84" height="4.17" fill="#ff9494" />
<rect x="174.19" y="187.16" width="9.84" height="4.17" fill="#3c3cff" />
<rect x="183.63" y="187.16" width="9.84" height="4.17" fill="#8484ff" />
<rect x="193.07" y="187.16" width="9.84" height="4.17" fill="#ff9494" />
<rect x="202.52" y="187.16" width="9.84" height="4.17" fill="#fff2f2" />
<rect x="211.96" y="187.16" width="9.44" height="4.17" fill="#ff0000" />
<rect x="108.10" y="190.93" width="9.84" height="4.17" fill="#3c3cff" />
<rect x="117.54" y="190.93" width="9.84" height="4.17" fill="#0000ff" />
<rect x="126.98" y="190.93" width="9.84" height="4.17" fill="#ffc6c6" />
<rect x="136.43" y="190.93" width="9.84" height="4.17" fill="#ff0000" />
<rect x="145.87" y="190.93" width="9.84" height="4.17" fill="#ff4c4c" />
<rect x="155.31" y="190.93" width="9.84" height="4.17" fill="#ff0000" />
<rect x="164.75" y="190.93" width="9.84" height="4.17" fill="#c8c8ff" />
<rect x="174.19" y="190.93" width="9.84" height="4.17" fill="#c8c8ff" />
<rect x="183.63" y="190.93" width="9.84" height="4.17" fill="#3c3cff" />
<rect x="193.07" y="190.93" width="9.84" height="4.17" fill="#ff9494" />
<rect x="202.52" y="190.93" width="9.84" height="4.17" fill="#3c3cff" />
<rect x="211.96" y="190.93" width="9.44" height="4.17" fill="#c8c8ff" />
<rect x="108.10" y="194.71" width="9.84" height="4.17" fill="#3c3cff" />
<rect x="117.54" y="194.71" width="9.84" height="4.17" fill="#0000ff" />
<rect x="126.98" y="194.71" width="9.84" height="4.17" fill="#ff9494" />
<rect x="136.43" y="194.71" width="9.84" height="4.17" fill="#ffc6c6" />
<rect x="145.87" y="194.71" width="9.84" height="4.17" fill="#ff4c4c" />
<rect x="155.31" y="194.71" width="9.84" height="4.17" fill="#ff0000" />
<rect x="164.75" y="194.71" width="9.84" height="4.17" fill="#8484ff" />
<rect x="174.19" y="194.71" width="9.84" height="4.17" fill="#8484ff" />
<rect x="183.63" y="194.71" width="9.84" height="4.17" fill="#c8c8ff" />
<rect x="193.07" y="194.71" width="9.84" height="4.17" fill="#c8c8ff" />
<rect x="202.52" y="194.71" width="9.84" height="4.17" fill="#8484ff" />
<rect x="211.96" y="194.71" width="9.44" height="4.17" fill="#fff2f2" />
<rect x="108.10" y="198.48" width="9.84" height="4.17" fill="#3c3cff" />
<rect x="117.54" y="198.48" width="9.84" height="4.17" fill="#0000ff" />
<rect x="126.98" y="198.48" width="9.84" height="4.17" fill="#c8c8ff" />
<rect x="136.43" y="198.48" width="9.84" height="4.17" fill="#8484ff" />
<rect x="145.87" y="198.48" width="9.84" height="4.17" fill="#ff0000" />
<rect x="155.31" y="198.48" width="9.84" height="4.17" fill="#ff4c4c" />
<rect x="164.75" y="198.48" width="9.84" height="4.17" fill="#3c3cff" />
<rect x="174.19" y="198.48" width="9.84" height="4.17" fill="#8484ff" />
<rect x="183.63" y="198.48" width="9.84" height="4.17" fill="#fff2f2" />
<rect x="193.07" y="198.48" width="9.84" height="4.17" fill="#ff9494" />
<rect x="202.52" y="198.48" width="9.84" height="4.17" fill="#c8c8ff" />
<rect x="211.96" y="198.48" width="9.44" height="4.17" fill="#c8c8ff" />
<rect x="108.10" y="202.26" width="9.84" height="4.17" fill="#3c3cff" />
<rect x="117.54" y="202.26" width="9.84" height="4.17" fill="#0000ff" />
<rect x="126.98" y="202.26" width="9.84" height="4.17" fill="#fff2f2" />
<rect x="136.43" y="202.26" width="9.84" height="4.17" fill="#ff9494" />
<rect x="145.87" y="202.26" width="9.84" height="4.17" fill="#ff0000" />
<rect x="155.31" y="202.26" width="9.84" height="4.17" fill="#ffc6c6" />
<rect x="164.75" y="202.26" width="9.84" height="4.17" fill="#8484ff" />
<rect x="174.19" y="202.26" width="9.84" height="4.17" fill="#8484ff" />
<rect x="183.63" y="202.26" width="9.84" height="4.17" fill="#c8c8ff" />
<rect x="193.07" y="202.26" width="9.84" height="4.17" fill="#8484ff" />
<rect x="202.52" y="202.26" width="9.84" height="4.17" fill="#3c3cff" />
<rect x="211.96" y="202.26" width="9.44" height="4.17" fill="#3c3cff" />
<rect x="108.10" y="206.03" width="9.84" height="4.17" fill="#0000ff" />
<rect x="117.54" y="206.03" width="9.84" height="4.17" fill="#0000ff" />
<rect x="126.98" y="206.03" width="9.84" height="4.17" fill="#ff0000" />
<rect x="136.43" y="206.03" width="9.84" height="4.17" fill="#ff0000" />
<rect x="145.87" y="206.03" width="9.84" height="4.17" fill="#c8c8ff" />
<rect x="155.31" y="206.03" width="9.84" height="4.17" fill="#ffc6c6" />
<rect x="164.75" y="206.03" width="9.84" height="4.17" fill="#3c3cff" />
<rect x="174.19" y="206.03" width="9.84" height="4.17" fill="#3c3cff" />
<rect x="183.63" y="206.03" width="9.84" height="4.17" fill="#3c3cff" />
<rect x="193.07" y="206.03" width="9.84" height="4.17" fill="#0000ff" />
<rect x="202.52" y="206.03" width="9.84" height="4.17" fill="#fff2f2" />
<rect x="211.96" y="206.03" width="9.44" height="4.17" fill="#c8c8ff" />
<rect x="108.10" y="209.80" width="9.84" height="4.17" fill="#0000ff" />
<rect x="117.54" y="209.80" width="9.84" height="4.17" fill="#0000ff" />
<rect x="126.98" y="209.80" width="9.84" height="4.17" fill="#ff4c4c" />
<rect x="136.43" y="209.80" width="9.84" height="4.17" fill="#ff0000" />
<rect x="145.87" y="209.80" width="9.84" height="4.17" fill="#c8c8ff" />
<rect x="155.31" y="209.80" width="9.84" height="4.17" fill="#c8c8ff" />
<rect x="164.75" y="209.80" width="9.84" height="4.17" fill="#0000ff" />
<rect x="174.19" y="209.80" width="9.84" height="4.17" fill="#0000ff" />
<rect x="183.63" y="209.80" width="9.84" height="4.17" fill="#ff4c4c" />
<rect x="193.07" y="209.80" width="9.84" height="4.17" fill="#ff4c4c" />
<rect x="202.52" y="209.80" width="9.84" height="4.17" fill="#3c3cff" />
<rect x="211.96" y="209.80" width="9.44" height="4.17" fill="#0000ff" />
<rect x="108.10" y="213.58" width="9.84" height="4.17" fill="#0000ff" />
<rect x="117.54" y="213.58" width="9.84" height="4.17" fill="#0000ff" />
<rect x="126.98" y="213.58" width="9.84" height="4.17" fill="#8484ff" />
<rect x="136.43" y="213.58" width="9.84" height="4.17" fill="#8484ff" />
<rect x="145.87" y="213.58" width="9.84" height="4.17" fill="#ff0000" />
<rect x="155.31" y="213.58" width="9.84" height="4.17" fill="#ff4c4c" />
<rect x="164.75" y="213.58" width="9.84" height="4.17" fill="#3c3cff" />
<rect x="174.19" y="213.58" width="9.84" height="4.17" fill="#3c3cff" />
<rect x="183.63" y="213.58" width="9.84" height="4.17" fill="#8484ff" />
<rect x="193.07" y="213.58" width="9.84" height="4.17" fill="#c8c8ff" />
<rect x="202.52" y="213.58" width="9.84" height="4.17" fill="#3c3cff" />
<rect x="211.96" y="213.58" width="9.44" height="4.17" fill="#c8c8ff" />
<rect x="108.10" y="217.35" width="9.84" height="4.17" fill="#0000ff" />
<rect x="117.54" y="217.35" width="9.84" height="4.17" fill="#0000ff" />
<rect x="126.98" y="217.35" width="9.84" height="4.17" fill="#ffc6c6" />
<rect x="136.43" y="217.35" width="9.84" height="4.17" fill="#ff0000" />
<rect x="145.87" y="217.35" width="9.84" height="4.17" fill="#ff0000" />
<rect x="155.31" y="217.35" width="9.84" height="4.17" fill="#ff0000" />
<rect x="164.75" y="217.35" width="9.84" height="4.17" fill="#0000ff" />
<rect x="174.19" y="217.35" width="9.84" height="4.17" fill="#0000ff" />
<rect x="183.63" y="217.35" width="9.84" height="4.17" fill="#ffc6c6" />
<rect x="193.07" y="217.35" width="9.84" height="4.17" fill="#ffc6c6" />
<rect x="202.52" y="217.35" width="9.84" height="4.17" fill="#fff2f2" />
<rect x="211.96" y="217.35" width="9.44" height="4.17" fill="#ffc6c6" />
<rect x="108.10" y="221.13" width="9.84" height="4.17" fill="#0000ff" />
<rect x="117.54" y="221.13" width="9.84" height="4.17" fill="#0000ff" />
<rect x="126.98" y="221.13" width="9.84" height="4.17" fill="#ff0000" />
<rect x="136.43" y="221.13" width="9.84" height="4.17" fill="#ff0000" />
<rect x="145.87" y="221.13" width="9.84" height="4.17" fill="#ff0000" />
<rect x="155.31" y="221.13" width="9.84" height="4.17" fill="#ff0000" />
<rect x="164.75" y="221.13" width="9.84" height="4.17" fill="#3c3cff" />
<rect x="174.19" y="221.13" width="9.84" height="4.17" fill="#0000ff" />
<rect x="183.63" y="221.13" width="9.84" height="4.17" fill="#3c3cff" />
<rect x="193.07" y="221.13" width="9.84" height="4.17" fill="#3c3cff" />
<rect x="202.52" y="221.13" width="9.84" height="4.17" fill="#ffc6c6" />
<rect x="211.96" y="221.13" width="9.44" height="4.17" fill="#fff2f2" />
<rect x="108.10" y="224.90" width="9.84" height="4.17" fill="#0000ff" />
<rect x="117.54" y="224.90" width="9.84" height="4.17" fill="#0000ff" />
<rect x="126.98" y="224.90" width="9.84" height="4.17" fill="#8484ff" />
<rect x="136.43" y="224.90" width="9.84" height="4.17" fill="#8484ff" />
<rect x="145.87" y="224.90" width="9.84" height="4.17" fill="#c8c8ff" />
<rect x="155.31" y="224.90" width="9.84" height="4.17" fill="#8484ff" />
<rect x="164.75" y="224.90" width="9.84" height="4.17" fill="#0000ff" />
<rect x="174.19" y="224.90" width="9.84" height="4.17" fill="#0000ff" />
<rect x="183.63" y="224.90" width="9.84" height="4.17" fill="#8484ff" />
<rect x="193.07" y="224.90" width="9.84" height="4.17" fill="#3c3cff" />
<rect x="202.52" y="224.90" width="9.84" height="4.17" fill="#ff0000" />
<rect x="211.96" y="224.90" width="9.44" height="4.17" fill="#ff9494" />
<rect x="108.10" y="228.68" width="9.84" height="4.17" fill="#0000ff" />
<rect x="117.54" y="228.68" width="9.84" height="4.17" fill="#0000ff" />
<rect x="126.98" y="228.68" width="9.84" height="4.17" fill="#c8c8ff" />
<rect x="136.43" y="228.68" width="9.84" height="4.17" fill="#ff9494" />
<rect x="145.87" y="228.68" width="9.84" height="4.17" fill="#c8c8ff" />
<rect x="155.31" y="228.68" width="9.84" height="4.17" fill="#8484ff" />
<rect x="164.75" y="228.68" width="9.84" height="4.17" fill="#3c3cff" />
<rect x="174.19" y="228.68" width="9.84" height="4.17" fill="#3c3cff" />
<rect x="183.63" y="228.68" width="9.84" height="4.17" fill="#8484ff" />
<rect x="193.07" y="228.68" width="9.84" height="4.17" fill="#3c3cff" />
<rect x="202.52" y="228.68" width="9.84" height="4.17" fill="#ff0000" />
<rect x="211.96" y="228.68" width="9.44" height="4.17" fill="#ff9494" />
<rect x="108.10" y="232.45" width="9.84" height="4.17" fill="#0000ff" />
<rect x="117.54" y="232.45" width="9.84" height="4.17" fill="#0000ff" />
<rect x="126.98" y="232.45" width="9.84" height="4.17" fill="#ff0000" />
<rect x="136.43" y="232.45" width="9.84" height="4.17" fill="#ff0000" />
<rect x="145.87" y="232.45" width="9.84" height="4.17" fill="#0000ff" />
<rect x="155.31" y="232.45" width="9.84" height="4.17" fill="#3c3cff" />
<rect x="164.75" y="232.45" width="9.84" height="4.17" fill="#3c3cff" />
<rect x="174.19" y="232.45" width="9.84" height="4.17" fill="#8484ff" />
<rect x="183.63" y="232.45" width="9.84" height="4.17" fill="#3c3cff" />
<rect x="193.07" y="232.45" width="9.84" height="4.17" fill="#3c3cff" />
<rect x="202.52" y="232.45" width="9.84" height="4.17" fill="#c8c8ff" />
<rect x="211.96" y="232.45" width="9.44" height="4.17" fill="#8484ff" />
<rect x="108.10" y="236.23" width="9.84" height="3.77" fill="#0000ff" />
<rect x="117.54" y="236.23" width="9.84" height="3.77" fill="#0000ff" />
<rect x="126.98" y="236.23" width="9.84" height="3.77" fill="#8484ff" />
<rect x="136.43" y="236.23" width="9.84" height="3.77" fill="#8484ff" />
<rect x="145.87" y="236.23" width="9.84" height="3.77" fill="#8484ff" />
<rect x="155.31" y="236.23" width="9.84" height="3.77" fill="#8484ff" />
<rect x="164.75" y="236.23" width="9.84" height="3.77" fill="#0000ff" />
<rect x="174.19" y="236.23" width="9.84" height="3.77" fill="#0000ff" />
<rect x="183.63" y="236.23" width="9.84" height="3.77" fill="#8484ff" />
<rect x="193.07" y="236.23" width="9.84" height="3.77" fill="#3c3cff" />
<rect x="202.52" y="236.23" width="9.84" height="3.77" fill="#ff0000" />
<rect x="211.96" y="236.23" width="9.44" height="3.77" fill="#ff4c4c" />
<text transform="translate(114.32,59.80) rotate(-90)" font-size="6.0" text-anchor="start" font-weight="normal" fill="#111" textLength="33.8" lengthAdjust="spacingAndGlyphs" stroke="#111" stroke-width="0.08">GSM2756232</text>
<text transform="translate(123.76,59.80) rotate(-90)" font-size="6.0" text-anchor="start" font-weight="normal" fill="#111" textLength="33.8" lengthAdjust="spacingAndGlyphs" stroke="#111" stroke-width="0.08">GSM2756233</text>
<text transform="translate(133.20,59.80) rotate(-90)" font-size="6.0" text-anchor="start" font-weight="normal" fill="#111" textLength="33.8" lengthAdjust="spacingAndGlyphs" stroke="#111" stroke-width="0.08">GSM2756234</text>
<text transform="translate(142.65,59.80) rotate(-90)" font-size="6.0" text-anchor="start" font-weight="normal" fill="#111" textLength="33.8" lengthAdjust="spacingAndGlyphs" stroke="#111" stroke-width="0.08">GSM2756235</text>
<text transform="translate(152.09,59.80) rotate(-90)" font-size="6.0" text-anchor="start" font-weight="normal" fill="#111" textLength="33.8" lengthAdjust="spacingAndGlyphs" stroke="#111" stroke-width="0.08">GSM2756236</text>
<text transform="translate(161.53,59.80) rotate(-90)" font-size="6.0" text-anchor="start" font-weight="normal" fill="#111" textLength="33.8" lengthAdjust="spacingAndGlyphs" stroke="#111" stroke-width="0.08">GSM2756237</text>
<text transform="translate(170.97,59.80) rotate(-90)" font-size="6.0" text-anchor="start" font-weight="normal" fill="#111" textLength="33.8" lengthAdjust="spacingAndGlyphs" stroke="#111" stroke-width="0.08">GSM2756238</text>
<text transform="translate(180.41,59.80) rotate(-90)" font-size="6.0" text-anchor="start" font-weight="normal" fill="#111" textLength="33.8" lengthAdjust="spacingAndGlyphs" stroke="#111" stroke-width="0.08">GSM2756239</text>
<text transform="translate(189.85,59.80) rotate(-90)" font-size="6.0" text-anchor="start" font-weight="normal" fill="#111" textLength="33.8" lengthAdjust="spacingAndGlyphs" stroke="#111" stroke-width="0.08">GSM2756240</text>
<text transform="translate(199.30,59.80) rotate(-90)" font-size="6.0" text-anchor="start" font-weight="normal" fill="#111" textLength="33.8" lengthAdjust="spacingAndGlyphs" stroke="#111" stroke-width="0.08">GSM2756241</text>
<text transform="translate(208.74,59.80) rotate(-90)" font-size="6.0" text-anchor="start" font-weight="normal" fill="#111" textLength="33.8" lengthAdjust="spacingAndGlyphs" stroke="#111" stroke-width="0.08">GSM2756242</text>
<text transform="translate(218.18,59.80) rotate(-90)" font-size="6.0" text-anchor="start" font-weight="normal" fill="#111" textLength="33.8" lengthAdjust="spacingAndGlyphs" stroke="#111" stroke-width="0.08">GSM2756243</text>
<line x1="108.50" y1="240.50" x2="126.60" y2="240.50" stroke="#777" stroke-width="0.6" />
<line x1="127.50" y1="240.50" x2="221.40" y2="240.50" stroke="#777" stroke-width="0.6" />
<text x="117.20" y="242.70" font-size="2.7" text-anchor="middle" font-weight="normal" fill="#333" textLength="17.5" lengthAdjust="spacingAndGlyphs">Gefitinib-sensitive</text>
<text x="117.20" y="245.10" font-size="2.7" text-anchor="middle" font-weight="normal" fill="#333" >(n=2)</text>
<text x="174.20" y="242.70" font-size="2.7" text-anchor="middle" font-weight="normal" fill="#333" textLength="17" lengthAdjust="spacingAndGlyphs">Gefitinib-resistant</text>
<text x="174.20" y="245.10" font-size="2.7" text-anchor="middle" font-weight="normal" fill="#333" >(n=10)</text>
<circle cx="143.9" cy="326" r="38.5" fill="#b6e1ea"/>
<circle cx="182.5" cy="326" r="38.5" fill="#f4b6ae"/>
<circle cx="182.5" cy="326" r="38.5" fill="#c9a3a3" clip-path="url(#cl)"/>
<circle cx="143.9" cy="326" r="38.5" fill="none" stroke="#111" stroke-width="0.9"/>
<circle cx="182.5" cy="326" r="38.5" fill="none" stroke="#111" stroke-width="0.9"/>
<text x="143.20" y="284.20" font-size="6.25" text-anchor="middle" font-weight="normal" fill="#000" >GSE74575</text>
<text x="184.20" y="284.20" font-size="6.25" text-anchor="middle" font-weight="normal" fill="#000" >GSE103155</text>
<text x="134.50" y="328.20" font-size="6" text-anchor="middle" font-weight="normal" fill="#222" >520</text>
<text x="163.20" y="328.20" font-size="6" text-anchor="middle" font-weight="normal" fill="#222" >3</text>
<text x="196.20" y="328.20" font-size="6" text-anchor="middle" font-weight="normal" fill="#222" >44</text>
<line x1="163.50" y1="344.20" x2="163.50" y2="376.50" stroke="#ff2020" stroke-width="0.9" />
<path d="M162.2,375.5 L164.8,375.5 L163.5,379.3 Z" fill="#ff2020"/>
<text x="162.60" y="386.40" font-size="6.25" text-anchor="middle" font-weight="bold" fill="#ff1010"  stroke="#ff1010" stroke-width="0.18">LINC00969</text>
<text x="162.60" y="395.30" font-size="6.25" text-anchor="middle" font-weight="bold" fill="#111"  stroke="#111" stroke-width="0.18">LINC00623</text>
<text x="162.90" y="404.20" font-size="6.25" text-anchor="middle" font-weight="bold" fill="#111"  stroke="#111" stroke-width="0.18">CDKN2B-AS1</text>
<line x1="52.20" y1="455.00" x2="52.20" y2="574.90" stroke="#222" stroke-width="1.1" />
<line x1="51.70" y1="574.40" x2="209.30" y2="574.40" stroke="#222" stroke-width="1.1" />
<line x1="48.00" y1="455.40" x2="52.20" y2="455.40" stroke="#222" stroke-width="1.1" />
<text x="46.9" y="458.00" font-size="7.3" font-weight="bold" text-anchor="end" fill="#111" stroke="#111" stroke-width="0.18">2<tspan font-size="4.9" dy="-2.4" dx="0.6" stroke-width="0.1">-5</tspan></text>
<line x1="48.00" y1="495.07" x2="52.20" y2="495.07" stroke="#222" stroke-width="1.1" />
<text x="46.9" y="497.67" font-size="7.3" font-weight="bold" text-anchor="end" fill="#111" stroke="#111" stroke-width="0.18">2<tspan font-size="4.9" dy="-2.4" dx="0.6" stroke-width="0.1">-10</tspan></text>
<line x1="48.00" y1="534.74" x2="52.20" y2="534.74" stroke="#222" stroke-width="1.1" />
<text x="46.9" y="537.34" font-size="7.3" font-weight="bold" text-anchor="end" fill="#111" stroke="#111" stroke-width="0.18">2<tspan font-size="4.9" dy="-2.4" dx="0.6" stroke-width="0.1">-15</tspan></text>
<line x1="48.00" y1="574.41" x2="52.20" y2="574.41" stroke="#222" stroke-width="1.1" />
<text x="46.9" y="577.01" font-size="7.3" font-weight="bold" text-anchor="end" fill="#111" stroke="#111" stroke-width="0.18">2<tspan font-size="4.9" dy="-2.4" dx="0.6" stroke-width="0.1">-20</tspan></text>
<line x1="96.90" y1="574.40" x2="96.90" y2="578.40" stroke="#222" stroke-width="1.1" />
<line x1="164.20" y1="574.40" x2="164.20" y2="578.40" stroke="#222" stroke-width="1.1" />
<text x="93.60" y="587.50" font-size="8.3" text-anchor="middle" font-weight="bold" fill="#111"  stroke="#111" stroke-width="0.18">Sensitive (n=18)</text>
<text x="167.40" y="587.50" font-size="8.3" text-anchor="middle" font-weight="bold" fill="#111"  stroke="#111" stroke-width="0.18">Resistant (n=18)</text>
<text transform="translate(27.60,516.60) rotate(-90)" font-size="8.42" text-anchor="middle" font-weight="bold" fill="#111"  stroke="#111" stroke-width="0.18">Relative LINC00969 expression</text>
<polyline points="97.2,502.8 97.2,458.7 163.6,458.7 163.6,465.5" fill="none" stroke="#777" stroke-width="1"/>
<polygon points="127.40,454.10 127.81,455.13 128.92,455.21 128.07,455.92 128.34,456.99 127.40,456.40 126.46,456.99 126.73,455.92 125.88,455.21 126.99,455.13" fill="#000"/>
<polygon points="133.50,454.10 133.91,455.13 135.02,455.21 134.17,455.92 134.44,456.99 133.50,456.40 132.56,456.99 132.83,455.92 131.98,455.21 133.09,455.13" fill="#000"/>
<circle cx="81.9" cy="510.8" r="1.45" fill="#ff0000"/>
<circle cx="87.8" cy="510.8" r="1.45" fill="#ff0000"/>
<circle cx="93.9" cy="511.9" r="1.45" fill="#ff0000"/>
<circle cx="99.7" cy="512.2" r="1.45" fill="#ff0000"/>
<circle cx="105.8" cy="513.5" r="1.45" fill="#ff0000"/>
<circle cx="87.8" cy="517.5" r="1.45" fill="#ff0000"/>
<circle cx="99.7" cy="517.3" r="1.45" fill="#ff0000"/>
<circle cx="111.7" cy="518.7" r="1.45" fill="#ff0000"/>
<circle cx="87.8" cy="521.3" r="1.45" fill="#ff0000"/>
<circle cx="93.9" cy="520.3" r="1.45" fill="#ff0000"/>
<circle cx="99.7" cy="520.3" r="1.45" fill="#ff0000"/>
<circle cx="81.9" cy="523" r="1.45" fill="#ff0000"/>
<circle cx="105.8" cy="523" r="1.45" fill="#ff0000"/>
<circle cx="111.7" cy="522.6" r="1.45" fill="#ff0000"/>
<circle cx="93.9" cy="528" r="1.45" fill="#ff0000"/>
<circle cx="93.9" cy="537.6" r="1.45" fill="#ff0000"/>
<circle cx="99.7" cy="535.5" r="1.45" fill="#ff0000"/>
<circle cx="93.9" cy="550.3" r="1.45" fill="#ff0000"/>
<line x1="74.40" y1="518.70" x2="119.00" y2="518.70" stroke="#ff2020" stroke-width="1.3" />
<line x1="86.10" y1="516.90" x2="107.70" y2="516.90" stroke="#ff2020" stroke-width="0.8" />
<line x1="86.10" y1="520.40" x2="107.70" y2="520.40" stroke="#ff2020" stroke-width="0.8" />
<rect x="159.65" y="469.95" width="2.90" height="2.90" fill="#0000ff" />
<rect x="165.55" y="473.35" width="2.90" height="2.90" fill="#0000ff" />
<rect x="165.55" y="478.85" width="2.90" height="2.90" fill="#0000ff" />
<rect x="159.65" y="481.85" width="2.90" height="2.90" fill="#0000ff" />
<rect x="159.65" y="488.05" width="2.90" height="2.90" fill="#0000ff" />
<rect x="165.55" y="488.25" width="2.90" height="2.90" fill="#0000ff" />
<rect x="171.55" y="488.35" width="2.90" height="2.90" fill="#0000ff" />
<rect x="153.75" y="491.45" width="2.90" height="2.90" fill="#0000ff" />
<rect x="159.65" y="492.75" width="2.90" height="2.90" fill="#0000ff" />
<rect x="165.55" y="493.95" width="2.90" height="2.90" fill="#0000ff" />
<rect x="171.55" y="493.75" width="2.90" height="2.90" fill="#0000ff" />
<rect x="153.75" y="495.85" width="2.90" height="2.90" fill="#0000ff" />
<rect x="159.65" y="496.55" width="2.90" height="2.90" fill="#0000ff" />
<rect x="165.55" y="497.75" width="2.90" height="2.90" fill="#0000ff" />
<rect x="171.55" y="499.05" width="2.90" height="2.90" fill="#0000ff" />
<rect x="153.75" y="499.65" width="2.90" height="2.90" fill="#0000ff" />
<rect x="165.55" y="500.75" width="2.90" height="2.90" fill="#0000ff" />
<rect x="159.65" y="503.65" width="2.90" height="2.90" fill="#0000ff" />
<line x1="142.00" y1="488.00" x2="186.50" y2="488.00" stroke="#2020ff" stroke-width="1.3" />
<line x1="153.00" y1="485.30" x2="175.00" y2="485.30" stroke="#2020ff" stroke-width="0.8" />
<line x1="153.00" y1="491.50" x2="175.00" y2="491.50" stroke="#2020ff" stroke-width="0.8" />
<line x1="164.20" y1="485.30" x2="164.20" y2="491.50" stroke="#2020ff" stroke-width="0.8" />
<line x1="294.40" y1="18.78" x2="294.40" y2="126.20" stroke="#222" stroke-width="1" />
<line x1="293.90" y1="125.70" x2="436.90" y2="125.70" stroke="#222" stroke-width="1" />
<line x1="290.40" y1="125.70" x2="294.40" y2="125.70" stroke="#222" stroke-width="1" />
<text x="289.10" y="128.20" font-size="6.6" text-anchor="end" font-weight="bold" fill="#111"  stroke="#111" stroke-width="0.18">0</text>
<line x1="290.40" y1="107.88" x2="294.40" y2="107.88" stroke="#222" stroke-width="1" />
<text x="289.10" y="110.38" font-size="6.6" text-anchor="end" font-weight="bold" fill="#111"  stroke="#111" stroke-width="0.18">20</text>
<line x1="290.40" y1="90.06" x2="294.40" y2="90.06" stroke="#222" stroke-width="1" />
<text x="289.10" y="92.56" font-size="6.6" text-anchor="end" font-weight="bold" fill="#111"  stroke="#111" stroke-width="0.18">40</text>
<line x1="290.40" y1="72.24" x2="294.40" y2="72.24" stroke="#222" stroke-width="1" />
<text x="289.10" y="74.74" font-size="6.6" text-anchor="end" font-weight="bold" fill="#111"  stroke="#111" stroke-width="0.18">60</text>
<line x1="290.40" y1="54.42" x2="294.40" y2="54.42" stroke="#222" stroke-width="1" />
<text x="289.10" y="56.92" font-size="6.6" text-anchor="end" font-weight="bold" fill="#111"  stroke="#111" stroke-width="0.18">80</text>
<line x1="290.40" y1="36.60" x2="294.40" y2="36.60" stroke="#222" stroke-width="1" />
<text x="289.10" y="39.10" font-size="6.6" text-anchor="end" font-weight="bold" fill="#111"  stroke="#111" stroke-width="0.18">100</text>
<line x1="290.40" y1="18.78" x2="294.40" y2="18.78" stroke="#222" stroke-width="1" />
<text x="289.10" y="21.28" font-size="6.6" text-anchor="end" font-weight="bold" fill="#111"  stroke="#111" stroke-width="0.18">120</text>
<line x1="294.40" y1="125.70" x2="294.40" y2="129.20" stroke="#222" stroke-width="1" />
<text x="294.40" y="136.60" font-size="6.6" text-anchor="middle" font-weight="bold" fill="#111"  stroke="#111" stroke-width="0.18">0</text>
<line x1="329.95" y1="125.70" x2="329.95" y2="129.20" stroke="#222" stroke-width="1" />
<text x="329.95" y="136.60" font-size="6.6" text-anchor="middle" font-weight="bold" fill="#111"  stroke="#111" stroke-width="0.18">5</text>
<line x1="365.50" y1="125.70" x2="365.50" y2="129.20" stroke="#222" stroke-width="1" />
<text x="365.50" y="136.60" font-size="6.6" text-anchor="middle" font-weight="bold" fill="#111"  stroke="#111" stroke-width="0.18">10</text>
<line x1="401.05" y1="125.70" x2="401.05" y2="129.20" stroke="#222" stroke-width="1" />
<text x="401.05" y="136.60" font-size="6.6" text-anchor="middle" font-weight="bold" fill="#111"  stroke="#111" stroke-width="0.18">15</text>
<line x1="436.60" y1="125.70" x2="436.60" y2="129.20" stroke="#222" stroke-width="1" />
<text x="436.60" y="136.60" font-size="6.6" text-anchor="middle" font-weight="bold" fill="#111"  stroke="#111" stroke-width="0.18">20</text>
<text x="365.50" y="149.00" font-size="8.8" text-anchor="middle" font-weight="bold" fill="#111"  stroke="#111" stroke-width="0.18">Gefitinib concentration (µM)</text>
<text transform="translate(272.50,71.80) rotate(-90)" font-size="9.5" text-anchor="middle" font-weight="bold" fill="#111" textLength="114.3" lengthAdjust="spacingAndGlyphs" stroke="#111" stroke-width="0.18">Cell viability (% of control)</text>
<path d="M294.4,81.15 H374.74 M310.04,81.15 V125.7 M374.74,81.15 V125.7" stroke="#444" stroke-width="0.75" stroke-dasharray="1.1,0.9" fill="none"/>
<polyline points="294.40,36.60 294.43,37.40 294.49,38.42 294.57,39.52 294.67,40.67 294.79,41.85 294.92,43.04 295.07,44.23 295.22,45.43 295.40,46.62 295.58,47.80 295.77,48.97 295.98,50.12 296.19,51.26 296.42,52.39 296.65,53.49 296.90,54.58 297.15,55.64 297.42,56.69 297.69,57.72 297.97,58.72 298.26,59.71 298.56,60.68 298.87,61.63 299.18,62.56 299.50,63.47 299.84,64.36 300.17,65.23 300.52,66.09 300.87,66.92 301.23,67.74 301.60,68.55 301.98,69.33 302.36,70.10 302.75,70.85 303.15,71.59 303.55,72.31 303.96,73.01 304.37,73.70 304.80,74.38 305.23,75.04 305.66,75.69 306.11,76.33 306.56,76.95 307.01,77.56 307.47,78.16 307.94,78.74 308.42,79.32 308.90,79.88 309.38,80.43 309.87,80.97 310.37,81.50 310.88,82.02 311.39,82.53 311.90,83.03 312.42,83.52 312.95,84.00 313.48,84.47 314.02,84.93 314.57,85.38 315.12,85.83 315.67,86.26 316.23,86.69 316.80,87.11 317.37,87.52 317.95,87.93 318.53,88.33 319.12,88.72 319.71,89.10 320.31,89.48 320.91,89.85 321.52,90.21 322.13,90.57 322.75,90.92 323.37,91.27 324.00,91.61 324.64,91.94 325.28,92.27 325.92,92.59 326.57,92.91 327.22,93.22 327.88,93.53 328.55,93.83 329.22,94.13 329.89,94.42 330.57,94.71 331.25,94.99 331.94,95.27 332.63,95.55 333.33,95.82 334.03,96.08 334.74,96.34 335.45,96.60 336.17,96.85 336.89,97.10 337.61,97.35 338.34,97.59 339.08,97.83 339.82,98.07 340.56,98.30 341.31,98.53 342.06,98.75 342.82,98.97 343.58,99.19 344.35,99.41 345.12,99.62 345.89,99.83 346.67,100.03 347.46,100.24 348.24,100.44 349.04,100.64 349.83,100.83 350.63,101.02 351.44,101.21 352.25,101.40 353.06,101.59 353.88,101.77 354.70,101.95 355.53,102.13 356.36,102.30 357.20,102.47 358.04,102.64 358.88,102.81 359.73,102.98 360.58,103.14 361.44,103.31 362.30,103.47 363.16,103.62 364.03,103.78 364.90,103.93 365.78,104.08 366.66,104.24 367.54,104.38 368.43,104.53 369.32,104.67 370.22,104.82 371.12,104.96 372.03,105.10 372.93,105.24 373.85,105.37 374.76,105.51 375.68,105.64 376.61,105.77 377.54,105.90 378.47,106.03 379.40,106.16 380.34,106.28 381.29,106.41 382.24,106.53 383.19,106.65 384.14,106.77 385.10,106.89 386.06,107.01 387.03,107.12 388.00,107.24 388.98,107.35 389.95,107.46 390.94,107.57 391.92,107.68 392.91,107.79 393.90,107.90 394.90,108.01 395.90,108.11 396.91,108.22 397.91,108.32 398.93,108.42 399.94,108.52 400.96,108.62 401.98,108.72 403.01,108.82 404.04,108.91 405.07,109.01 406.11,109.10 407.15,109.20 408.20,109.29 409.25,109.38 410.30,109.47 411.35,109.56 412.41,109.65 413.47,109.74 414.54,109.83 415.61,109.91 416.68,110.00 417.76,110.09 418.84,110.17 419.92,110.25 421.01,110.33 422.10,110.42 423.20,110.50 424.29,110.58 425.40,110.66 426.50,110.74 427.61,110.81 428.72,110.89 429.84,110.97 430.95,111.04 432.08,111.12 433.20,111.19 434.33,111.27 435.46,111.34 436.60,111.41" fill="none" stroke="#ff1a1a" stroke-width="1.1"/>
<polyline points="294.40,36.60 295.11,36.61 295.82,36.63 296.53,36.66 297.24,36.71 297.95,36.77 298.67,36.85 299.38,36.94 300.09,37.04 300.80,37.16 301.51,37.29 302.22,37.44 302.93,37.59 303.64,37.76 304.35,37.95 305.06,38.14 305.78,38.35 306.49,38.57 307.20,38.80 307.91,39.05 308.62,39.31 309.33,39.57 310.04,39.85 310.75,40.14 311.46,40.45 312.17,40.76 312.89,41.08 313.60,41.41 314.31,41.75 315.02,42.11 315.73,42.47 316.44,42.84 317.15,43.21 317.86,43.60 318.57,44.00 319.28,44.40 320.00,44.81 320.71,45.23 321.42,45.65 322.13,46.08 322.84,46.52 323.55,46.97 324.26,47.41 324.97,47.87 325.68,48.33 326.39,48.80 327.11,49.27 327.82,49.74 328.53,50.22 329.24,50.70 329.95,51.19 330.66,51.68 331.37,52.17 332.08,52.67 332.79,53.16 333.50,53.67 334.22,54.17 334.93,54.67 335.64,55.18 336.35,55.69 337.06,56.20 337.77,56.71 338.48,57.22 339.19,57.73 339.90,58.24 340.62,58.75 341.33,59.26 342.04,59.78 342.75,60.29 343.46,60.80 344.17,61.31 344.88,61.82 345.59,62.33 346.30,62.84 347.01,63.34 347.73,63.85 348.44,64.35 349.15,64.85 349.86,65.35 350.57,65.85 351.28,66.35 351.99,66.84 352.70,67.33 353.41,67.82 354.12,68.31 354.83,68.80 355.55,69.28 356.26,69.76 356.97,70.24 357.68,70.71 358.39,71.18 359.10,71.65 359.81,72.12 360.52,72.58 361.23,73.04 361.94,73.50 362.66,73.95 363.37,74.40 364.08,74.85 364.79,75.29 365.50,75.73 366.21,76.17 366.92,76.60 367.63,77.03 368.34,77.46 369.06,77.88 369.77,78.30 370.48,78.72 371.19,79.14 371.90,79.55 372.61,79.95 373.32,80.35 374.03,80.75 374.74,81.15 375.45,81.54 376.17,81.93 376.88,82.32 377.59,82.70 378.30,83.08 379.01,83.45 379.72,83.82 380.43,84.19 381.14,84.56 381.85,84.92 382.56,85.28 383.27,85.63 383.99,85.98 384.70,86.33 385.41,86.67 386.12,87.02 386.83,87.35 387.54,87.69 388.25,88.02 388.96,88.35 389.67,88.67 390.38,88.99 391.10,89.31 391.81,89.63 392.52,89.94 393.23,90.25 393.94,90.55 394.65,90.85 395.36,91.15 396.07,91.45 396.78,91.74 397.50,92.03 398.21,92.32 398.92,92.61 399.63,92.89 400.34,93.17 401.05,93.44 401.76,93.71 402.47,93.98 403.18,94.25 403.89,94.52 404.61,94.78 405.32,95.04 406.03,95.29 406.74,95.55 407.45,95.80 408.16,96.05 408.87,96.29 409.58,96.54 410.29,96.78 411.00,97.02 411.72,97.25 412.43,97.49 413.14,97.72 413.85,97.95 414.56,98.17 415.27,98.40 415.98,98.62 416.69,98.84 417.40,99.05 418.11,99.27 418.83,99.48 419.54,99.69 420.25,99.90 420.96,100.11 421.67,100.31 422.38,100.51 423.09,100.71 423.80,100.91 424.51,101.10 425.22,101.30 425.94,101.49 426.65,101.68 427.36,101.87 428.07,102.05 428.78,102.24 429.49,102.42 430.20,102.60 430.91,102.78 431.62,102.95 432.33,103.13 433.05,103.30 433.76,103.47 434.47,103.64 435.18,103.81 435.89,103.98 436.60,104.14" fill="none" stroke="#1a1aff" stroke-width="1.1"/>
<line x1="329.95" y1="51.75" x2="329.95" y2="53.53" stroke="#0000ff" stroke-width="0.8" />
<line x1="328.65" y1="51.75" x2="331.25" y2="51.75" stroke="#0000ff" stroke-width="0.8" />
<line x1="328.65" y1="53.53" x2="331.25" y2="53.53" stroke="#0000ff" stroke-width="0.8" />
<rect x="328.65" y="51.34" width="2.60" height="2.60" fill="#0000ff" />
<line x1="365.50" y1="71.79" x2="365.50" y2="73.58" stroke="#0000ff" stroke-width="0.8" />
<line x1="364.20" y1="71.79" x2="366.80" y2="71.79" stroke="#0000ff" stroke-width="0.8" />
<line x1="364.20" y1="73.58" x2="366.80" y2="73.58" stroke="#0000ff" stroke-width="0.8" />
<rect x="364.20" y="71.39" width="2.60" height="2.60" fill="#0000ff" />
<line x1="401.05" y1="89.61" x2="401.05" y2="95.85" stroke="#0000ff" stroke-width="0.8" />
<line x1="399.75" y1="89.61" x2="402.35" y2="89.61" stroke="#0000ff" stroke-width="0.8" />
<line x1="399.75" y1="95.85" x2="402.35" y2="95.85" stroke="#0000ff" stroke-width="0.8" />
<rect x="399.75" y="91.43" width="2.60" height="2.60" fill="#0000ff" />
<line x1="436.60" y1="104.76" x2="436.60" y2="107.43" stroke="#0000ff" stroke-width="0.8" />
<line x1="435.30" y1="104.76" x2="437.90" y2="104.76" stroke="#0000ff" stroke-width="0.8" />
<line x1="435.30" y1="107.43" x2="437.90" y2="107.43" stroke="#0000ff" stroke-width="0.8" />
<rect x="435.30" y="104.80" width="2.60" height="2.60" fill="#0000ff" />
<circle cx="294.40" cy="36.60" r="1.4" fill="#ff0000"/>
<circle cx="329.95" cy="96.30" r="1.4" fill="#ff0000"/>
<circle cx="365.50" cy="101.64" r="1.4" fill="#ff0000"/>
<circle cx="401.05" cy="107.88" r="1.4" fill="#ff0000"/>
<circle cx="436.60" cy="115.90" r="1.4" fill="#ff0000"/>
<line x1="394.00" y1="20.60" x2="403.80" y2="20.60" stroke="#ff0000" stroke-width="0.9" />
<circle cx="398.9" cy="20.6" r="1.3" fill="#ff0000"/>
<line x1="394.00" y1="28.70" x2="403.80" y2="28.70" stroke="#0000ff" stroke-width="0.9" />
<circle cx="398.9" cy="28.7" r="1.4" fill="#0000ff"/>
<text x="406.70" y="22.50" font-size="6.2" text-anchor="start" font-weight="normal" fill="#000" textLength="10.6" lengthAdjust="spacingAndGlyphs" stroke="#000" stroke-width="0.12">PC9</text>
<text x="406.70" y="30.60" font-size="6.2" text-anchor="start" font-weight="normal" fill="#000" textLength="20.8" lengthAdjust="spacingAndGlyphs" stroke="#000" stroke-width="0.12">PC9/GR</text>
<line x1="512.60" y1="18.78" x2="512.60" y2="126.20" stroke="#222" stroke-width="1" />
<line x1="512.10" y1="125.70" x2="655.10" y2="125.70" stroke="#222" stroke-width="1" />
<line x1="508.60" y1="125.70" x2="512.60" y2="125.70" stroke="#222" stroke-width="1" />
<text x="507.30" y="128.20" font-size="6.6" text-anchor="end" font-weight="bold" fill="#111"  stroke="#111" stroke-width="0.18">0</text>
<line x1="508.60" y1="107.88" x2="512.60" y2="107.88" stroke="#222" stroke-width="1" />
<text x="507.30" y="110.38" font-size="6.6" text-anchor="end" font-weight="bold" fill="#111"  stroke="#111" stroke-width="0.18">20</text>
<line x1="508.60" y1="90.06" x2="512.60" y2="90.06" stroke="#222" stroke-width="1" />
<text x="507.30" y="92.56" font-size="6.6" text-anchor="end" font-weight="bold" fill="#111"  stroke="#111" stroke-width="0.18">40</text>
<line x1="508.60" y1="72.24" x2="512.60" y2="72.24" stroke="#222" stroke-width="1" />
<text x="507.30" y="74.74" font-size="6.6" text-anchor="end" font-weight="bold" fill="#111"  stroke="#111" stroke-width="0.18">60</text>
<line x1="508.60" y1="54.42" x2="512.60" y2="54.42" stroke="#222" stroke-width="1" />
<text x="507.30" y="56.92" font-size="6.6" text-anchor="end" font-weight="bold" fill="#111"  stroke="#111" stroke-width="0.18">80</text>
<line x1="508.60" y1="36.60" x2="512.60" y2="36.60" stroke="#222" stroke-width="1" />
<text x="507.30" y="39.10" font-size="6.6" text-anchor="end" font-weight="bold" fill="#111"  stroke="#111" stroke-width="0.18">100</text>
<line x1="508.60" y1="18.78" x2="512.60" y2="18.78" stroke="#222" stroke-width="1" />
<text x="507.30" y="21.28" font-size="6.6" text-anchor="end" font-weight="bold" fill="#111"  stroke="#111" stroke-width="0.18">120</text>
<line x1="512.60" y1="125.70" x2="512.60" y2="129.20" stroke="#222" stroke-width="1" />
<text x="512.60" y="136.60" font-size="6.6" text-anchor="middle" font-weight="bold" fill="#111"  stroke="#111" stroke-width="0.18">0</text>
<line x1="548.15" y1="125.70" x2="548.15" y2="129.20" stroke="#222" stroke-width="1" />
<text x="548.15" y="136.60" font-size="6.6" text-anchor="middle" font-weight="bold" fill="#111"  stroke="#111" stroke-width="0.18">5</text>
<line x1="583.70" y1="125.70" x2="583.70" y2="129.20" stroke="#222" stroke-width="1" />
<text x="583.70" y="136.60" font-size="6.6" text-anchor="middle" font-weight="bold" fill="#111"  stroke="#111" stroke-width="0.18">10</text>
<line x1="619.25" y1="125.70" x2="619.25" y2="129.20" stroke="#222" stroke-width="1" />
<text x="619.25" y="136.60" font-size="6.6" text-anchor="middle" font-weight="bold" fill="#111"  stroke="#111" stroke-width="0.18">15</text>
<line x1="654.80" y1="125.70" x2="654.80" y2="129.20" stroke="#222" stroke-width="1" />
<text x="654.80" y="136.60" font-size="6.6" text-anchor="middle" font-weight="bold" fill="#111"  stroke="#111" stroke-width="0.18">20</text>
<text x="583.70" y="149.00" font-size="8.8" text-anchor="middle" font-weight="bold" fill="#111"  stroke="#111" stroke-width="0.18">Gefitinib concentration (µM)</text>
<text transform="translate(492.00,71.80) rotate(-90)" font-size="9.5" text-anchor="middle" font-weight="bold" fill="#111" textLength="114.3" lengthAdjust="spacingAndGlyphs" stroke="#111" stroke-width="0.18">Cell viability (% of control)</text>
<path d="M512.6,81.15 H633.47 M520.07,81.15 V125.7 M633.47,81.15 V125.7" stroke="#444" stroke-width="0.75" stroke-dasharray="1.1,0.9" fill="none"/>
<polyline points="512.60,36.60 512.63,41.35 512.69,44.73 512.77,47.58 512.87,50.10 512.99,52.37 513.12,54.44 513.27,56.34 513.42,58.10 513.60,59.74 513.78,61.27 513.97,62.71 514.18,64.06 514.39,65.35 514.62,66.56 514.85,67.71 515.10,68.81 515.35,69.85 515.62,70.85 515.89,71.80 516.17,72.71 516.46,73.59 516.76,74.43 517.07,75.24 517.38,76.01 517.70,76.76 518.04,77.48 518.37,78.18 518.72,78.85 519.07,79.50 519.43,80.13 519.80,80.73 520.18,81.32 520.56,81.89 520.95,82.44 521.35,82.98 521.75,83.50 522.16,84.01 522.57,84.50 523.00,84.98 523.43,85.44 523.86,85.90 524.31,86.34 524.76,86.77 525.21,87.19 525.67,87.59 526.14,87.99 526.62,88.38 527.10,88.76 527.58,89.13 528.07,89.49 528.57,89.85 529.08,90.19 529.59,90.53 530.10,90.86 530.62,91.18 531.15,91.50 531.68,91.81 532.22,92.11 532.77,92.41 533.32,92.70 533.87,92.99 534.43,93.27 535.00,93.54 535.57,93.81 536.15,94.07 536.73,94.33 537.32,94.59 537.91,94.83 538.51,95.08 539.11,95.32 539.72,95.56 540.33,95.79 540.95,96.01 541.57,96.24 542.20,96.46 542.84,96.67 543.48,96.89 544.12,97.10 544.77,97.30 545.42,97.50 546.08,97.70 546.75,97.90 547.42,98.09 548.09,98.28 548.77,98.47 549.45,98.65 550.14,98.83 550.83,99.01 551.53,99.18 552.23,99.36 552.94,99.53 553.65,99.69 554.37,99.86 555.09,100.02 555.81,100.18 556.54,100.34 557.28,100.50 558.02,100.65 558.76,100.80 559.51,100.95 560.26,101.10 561.02,101.25 561.78,101.39 562.55,101.53 563.32,101.67 564.09,101.81 564.87,101.95 565.66,102.08 566.44,102.21 567.24,102.35 568.03,102.48 568.83,102.60 569.64,102.73 570.45,102.85 571.26,102.98 572.08,103.10 572.90,103.22 573.73,103.34 574.56,103.46 575.40,103.57 576.24,103.69 577.08,103.80 577.93,103.91 578.78,104.02 579.64,104.13 580.50,104.24 581.36,104.35 582.23,104.45 583.10,104.56 583.98,104.66 584.86,104.76 585.74,104.86 586.63,104.96 587.52,105.06 588.42,105.16 589.32,105.26 590.23,105.35 591.13,105.45 592.05,105.54 592.96,105.64 593.88,105.73 594.81,105.82 595.74,105.91 596.67,106.00 597.60,106.09 598.54,106.17 599.49,106.26 600.44,106.34 601.39,106.43 602.34,106.51 603.30,106.60 604.26,106.68 605.23,106.76 606.20,106.84 607.18,106.92 608.15,107.00 609.14,107.08 610.12,107.16 611.11,107.23 612.10,107.31 613.10,107.39 614.10,107.46 615.11,107.53 616.11,107.61 617.13,107.68 618.14,107.75 619.16,107.82 620.18,107.90 621.21,107.97 622.24,108.03 623.27,108.10 624.31,108.17 625.35,108.24 626.40,108.31 627.45,108.37 628.50,108.44 629.55,108.51 630.61,108.57 631.67,108.63 632.74,108.70 633.81,108.76 634.88,108.82 635.96,108.89 637.04,108.95 638.12,109.01 639.21,109.07 640.30,109.13 641.40,109.19 642.49,109.25 643.60,109.31 644.70,109.37 645.81,109.43 646.92,109.48 648.04,109.54 649.15,109.60 650.28,109.65 651.40,109.71 652.53,109.76 653.66,109.82 654.80,109.87" fill="none" stroke="#ff1a1a" stroke-width="1.1"/>
<polyline points="512.60,36.60 513.31,36.61 514.02,36.64 514.73,36.68 515.44,36.73 516.15,36.79 516.87,36.86 517.58,36.93 518.29,37.02 519.00,37.12 519.71,37.22 520.42,37.33 521.13,37.45 521.84,37.58 522.55,37.71 523.26,37.85 523.98,38.00 524.69,38.16 525.40,38.32 526.11,38.48 526.82,38.66 527.53,38.84 528.24,39.02 528.95,39.21 529.66,39.41 530.38,39.61 531.09,39.81 531.80,40.02 532.51,40.24 533.22,40.46 533.93,40.68 534.64,40.91 535.35,41.15 536.06,41.39 536.77,41.63 537.49,41.87 538.20,42.12 538.91,42.38 539.62,42.64 540.33,42.90 541.04,43.16 541.75,43.43 542.46,43.70 543.17,43.97 543.88,44.25 544.60,44.53 545.31,44.81 546.02,45.10 546.73,45.38 547.44,45.67 548.15,45.97 548.86,46.26 549.57,46.56 550.28,46.86 550.99,47.16 551.71,47.46 552.42,47.76 553.13,48.07 553.84,48.38 554.55,48.69 555.26,49.00 555.97,49.31 556.68,49.62 557.39,49.94 558.10,50.25 558.82,50.57 559.53,50.89 560.24,51.20 560.95,51.52 561.66,51.84 562.37,52.16 563.08,52.49 563.79,52.81 564.50,53.13 565.21,53.45 565.92,53.78 566.64,54.10 567.35,54.42 568.06,54.75 568.77,55.07 569.48,55.40 570.19,55.72 570.90,56.05 571.61,56.37 572.32,56.69 573.03,57.02 573.75,57.34 574.46,57.67 575.17,57.99 575.88,58.31 576.59,58.64 577.30,58.96 578.01,59.28 578.72,59.60 579.43,59.92 580.14,60.24 580.86,60.56 581.57,60.88 582.28,61.20 582.99,61.52 583.70,61.83 584.41,62.15 585.12,62.47 585.83,62.78 586.54,63.09 587.25,63.41 587.97,63.72 588.68,64.03 589.39,64.34 590.10,64.65 590.81,64.96 591.52,65.26 592.23,65.57 592.94,65.87 593.65,66.18 594.37,66.48 595.08,66.78 595.79,67.08 596.50,67.38 597.21,67.68 597.92,67.98 598.63,68.27 599.34,68.57 600.05,68.86 600.76,69.15 601.48,69.44 602.19,69.73 602.90,70.02 603.61,70.31 604.32,70.60 605.03,70.88 605.74,71.16 606.45,71.45 607.16,71.73 607.87,72.01 608.59,72.28 609.30,72.56 610.01,72.84 610.72,73.11 611.43,73.38 612.14,73.65 612.85,73.92 613.56,74.19 614.27,74.46 614.98,74.72 615.69,74.99 616.41,75.25 617.12,75.51 617.83,75.77 618.54,76.03 619.25,76.29 619.96,76.55 620.67,76.80 621.38,77.05 622.09,77.31 622.80,77.56 623.52,77.81 624.23,78.05 624.94,78.30 625.65,78.55 626.36,78.79 627.07,79.03 627.78,79.27 628.49,79.51 629.20,79.75 629.91,79.99 630.63,80.22 631.34,80.46 632.05,80.69 632.76,80.92 633.47,81.15 634.18,81.38 634.89,81.61 635.60,81.83 636.31,82.06 637.02,82.28 637.74,82.50 638.45,82.72 639.16,82.94 639.87,83.16 640.58,83.38 641.29,83.59 642.00,83.81 642.71,84.02 643.42,84.23 644.13,84.44 644.85,84.65 645.56,84.86 646.27,85.06 646.98,85.27 647.69,85.47 648.40,85.67 649.11,85.88 649.82,86.08 650.53,86.28 651.24,86.47 651.96,86.67 652.67,86.86 653.38,87.06 654.09,87.25 654.80,87.44" fill="none" stroke="#1a1aff" stroke-width="1.1"/>
<line x1="548.15" y1="43.73" x2="548.15" y2="45.51" stroke="#0000ff" stroke-width="0.8" />
<line x1="546.85" y1="43.73" x2="549.45" y2="43.73" stroke="#0000ff" stroke-width="0.8" />
<line x1="546.85" y1="45.51" x2="549.45" y2="45.51" stroke="#0000ff" stroke-width="0.8" />
<rect x="546.85" y="43.32" width="2.60" height="2.60" fill="#0000ff" />
<line x1="583.70" y1="57.09" x2="583.70" y2="66.89" stroke="#0000ff" stroke-width="0.8" />
<line x1="582.40" y1="57.09" x2="585.00" y2="57.09" stroke="#0000ff" stroke-width="0.8" />
<line x1="582.40" y1="66.89" x2="585.00" y2="66.89" stroke="#0000ff" stroke-width="0.8" />
<rect x="582.40" y="60.69" width="2.60" height="2.60" fill="#0000ff" />
<line x1="619.25" y1="70.46" x2="619.25" y2="80.26" stroke="#0000ff" stroke-width="0.8" />
<line x1="617.95" y1="70.46" x2="620.55" y2="70.46" stroke="#0000ff" stroke-width="0.8" />
<line x1="617.95" y1="80.26" x2="620.55" y2="80.26" stroke="#0000ff" stroke-width="0.8" />
<rect x="617.95" y="74.06" width="2.60" height="2.60" fill="#0000ff" />
<line x1="654.80" y1="84.27" x2="654.80" y2="88.72" stroke="#0000ff" stroke-width="0.8" />
<line x1="653.50" y1="84.27" x2="656.10" y2="84.27" stroke="#0000ff" stroke-width="0.8" />
<line x1="653.50" y1="88.72" x2="656.10" y2="88.72" stroke="#0000ff" stroke-width="0.8" />
<rect x="653.50" y="85.20" width="2.60" height="2.60" fill="#0000ff" />
<circle cx="512.60" cy="36.60" r="1.4" fill="#ff0000"/>
<line x1="548.15" y1="94.52" x2="548.15" y2="101.64" stroke="#ff0000" stroke-width="0.8" />
<line x1="546.85" y1="94.52" x2="549.45" y2="94.52" stroke="#ff0000" stroke-width="0.8" />
<line x1="546.85" y1="101.64" x2="549.45" y2="101.64" stroke="#ff0000" stroke-width="0.8" />
<circle cx="548.15" cy="98.08" r="1.4" fill="#ff0000"/>
<line x1="583.70" y1="103.43" x2="583.70" y2="106.99" stroke="#ff0000" stroke-width="0.8" />
<line x1="582.40" y1="103.43" x2="585.00" y2="103.43" stroke="#ff0000" stroke-width="0.8" />
<line x1="582.40" y1="106.99" x2="585.00" y2="106.99" stroke="#ff0000" stroke-width="0.8" />
<circle cx="583.70" cy="105.21" r="1.4" fill="#ff0000"/>
<line x1="619.25" y1="105.21" x2="619.25" y2="108.77" stroke="#ff0000" stroke-width="0.8" />
<line x1="617.95" y1="105.21" x2="620.55" y2="105.21" stroke="#ff0000" stroke-width="0.8" />
<line x1="617.95" y1="108.77" x2="620.55" y2="108.77" stroke="#ff0000" stroke-width="0.8" />
<circle cx="619.25" cy="106.99" r="1.4" fill="#ff0000"/>
<circle cx="654.80" cy="110.55" r="1.4" fill="#ff0000"/>
<line x1="613.10" y1="20.60" x2="622.90" y2="20.60" stroke="#ff0000" stroke-width="0.9" />
<circle cx="618.0" cy="20.6" r="1.3" fill="#ff0000"/>
<line x1="613.10" y1="28.70" x2="622.90" y2="28.70" stroke="#0000ff" stroke-width="0.9" />
<circle cx="618.0" cy="28.7" r="1.4" fill="#0000ff"/>
<text x="625.80" y="22.50" font-size="6.2" text-anchor="start" font-weight="normal" fill="#000" textLength="21.4" lengthAdjust="spacingAndGlyphs" stroke="#000" stroke-width="0.12">HCC827</text>
<text x="625.80" y="30.60" font-size="6.2" text-anchor="start" font-weight="normal" fill="#000" textLength="31.2" lengthAdjust="spacingAndGlyphs" stroke="#000" stroke-width="0.12">HCC827/GR</text>
<line x1="293.90" y1="173.60" x2="293.90" y2="280.30" stroke="#222" stroke-width="1" />
<line x1="293.40" y1="279.80" x2="454.00" y2="279.80" stroke="#222" stroke-width="1" />
<line x1="289.90" y1="279.80" x2="293.90" y2="279.80" stroke="#222" stroke-width="1" />
<text x="289.20" y="282.30" font-size="7.0" text-anchor="end" font-weight="bold" fill="#111"  stroke="#111" stroke-width="0.18">0</text>
<line x1="289.90" y1="258.56" x2="293.90" y2="258.56" stroke="#222" stroke-width="1" />
<text x="289.20" y="261.06" font-size="7.0" text-anchor="end" font-weight="bold" fill="#111"  stroke="#111" stroke-width="0.18">5</text>
<line x1="289.90" y1="237.32" x2="293.90" y2="237.32" stroke="#222" stroke-width="1" />
<text x="289.20" y="239.82" font-size="7.0" text-anchor="end" font-weight="bold" fill="#111"  stroke="#111" stroke-width="0.18">10</text>
<line x1="289.90" y1="216.08" x2="293.90" y2="216.08" stroke="#222" stroke-width="1" />
<text x="289.20" y="218.58" font-size="7.0" text-anchor="end" font-weight="bold" fill="#111"  stroke="#111" stroke-width="0.18">15</text>
<line x1="289.90" y1="194.84" x2="293.90" y2="194.84" stroke="#222" stroke-width="1" />
<text x="289.20" y="197.34" font-size="7.0" text-anchor="end" font-weight="bold" fill="#111"  stroke="#111" stroke-width="0.18">20</text>
<line x1="289.90" y1="173.60" x2="293.90" y2="173.60" stroke="#222" stroke-width="1" />
<text x="289.20" y="176.10" font-size="7.0" text-anchor="end" font-weight="bold" fill="#111"  stroke="#111" stroke-width="0.18">25</text>
<text transform="translate(272.30,226.60) rotate(-90)" font-size="8.42" text-anchor="middle" font-weight="bold" fill="#111"  stroke="#111" stroke-width="0.18">Relative LINC00969 expression</text>
<rect x="305.35" y="275.55" width="18.30" height="4.25" fill="#fff" stroke="#111" stroke-width="0.9"/>
<line x1="314.50" y1="279.80" x2="314.50" y2="283.80" stroke="#222" stroke-width="1" />
<circle cx="310.50" cy="275.55" r="1.25" fill="#111"/>
<circle cx="314.50" cy="275.55" r="1.25" fill="#111"/>
<circle cx="318.50" cy="275.55" r="1.25" fill="#111"/>
<rect x="334.85" y="266.84" width="18.30" height="12.96" fill="#000" />
<line x1="344.00" y1="279.80" x2="344.00" y2="283.80" stroke="#222" stroke-width="1" />
<line x1="344.00" y1="266.84" x2="344.00" y2="264.29" stroke="#111" stroke-width="1.0" />
<line x1="339.40" y1="264.29" x2="348.60" y2="264.29" stroke="#111" stroke-width="1.1" />
<text x="344.00" y="264.59" font-size="8.2" text-anchor="middle" font-weight="bold" fill="#000"  stroke="#000" stroke-width="0.18">**</text>
<circle cx="344.00" cy="266.21" r="1.25" fill="#111"/>
<rect x="364.75" y="260.39" width="18.30" height="19.41" fill="#5b5b5b" />
<line x1="373.90" y1="279.80" x2="373.90" y2="283.80" stroke="#222" stroke-width="1" />
<line x1="373.90" y1="260.39" x2="373.90" y2="257.84" stroke="#111" stroke-width="1.0" />
<line x1="369.30" y1="257.84" x2="378.50" y2="257.84" stroke="#111" stroke-width="1.1" />
<text x="373.90" y="258.14" font-size="8.2" text-anchor="middle" font-weight="bold" fill="#000"  stroke="#000" stroke-width="0.18">**</text>
<circle cx="370.90" cy="261.11" r="1.25" fill="#111"/>
<circle cx="374.90" cy="259.41" r="1.25" fill="#111"/>
<circle cx="377.90" cy="261.11" r="1.25" fill="#111"/>
<rect x="394.65" y="235.49" width="18.30" height="44.31" fill="#878787" />
<line x1="403.80" y1="279.80" x2="403.80" y2="283.80" stroke="#222" stroke-width="1" />
<line x1="403.80" y1="235.49" x2="403.80" y2="229.33" stroke="#111" stroke-width="1.0" />
<line x1="399.20" y1="229.33" x2="408.40" y2="229.33" stroke="#111" stroke-width="1.1" />
<text x="403.80" y="229.63" font-size="8.2" text-anchor="middle" font-weight="bold" fill="#000"  stroke="#000" stroke-width="0.18">**</text>
<circle cx="403.80" cy="233.50" r="1.25" fill="#111"/>
<circle cx="403.80" cy="240.72" r="1.25" fill="#111"/>
<circle cx="403.80" cy="230.10" r="1.25" fill="#111"/>
<rect x="424.05" y="196.96" width="18.30" height="82.84" fill="#d9d9d9" />
<line x1="433.20" y1="279.80" x2="433.20" y2="283.80" stroke="#222" stroke-width="1" />
<line x1="433.20" y1="196.96" x2="433.20" y2="183.80" stroke="#111" stroke-width="1.0" />
<line x1="428.60" y1="183.80" x2="437.80" y2="183.80" stroke="#111" stroke-width="1.1" />
<text x="433.20" y="184.10" font-size="8.2" text-anchor="middle" font-weight="bold" fill="#000"  stroke="#000" stroke-width="0.18">**</text>
<circle cx="433.20" cy="187.62" r="1.25" fill="#111"/>
<circle cx="433.20" cy="193.14" r="1.25" fill="#111"/>
<circle cx="433.20" cy="210.98" r="1.25" fill="#111"/>
<text transform="translate(319.10,290.20) rotate(-45)" font-size="8.45" text-anchor="end" font-weight="bold" fill="#111"  stroke="#111" stroke-width="0.18">PC9</text>
<text transform="translate(350.00,290.20) rotate(-45)" font-size="8.45" text-anchor="end" font-weight="bold" fill="#111"  stroke="#111" stroke-width="0.18">PC9/GR</text>
<text transform="translate(379.90,290.20) rotate(-45)" font-size="8.45" text-anchor="end" font-weight="bold" fill="#111"  stroke="#111" stroke-width="0.18">PC9/GR (5µM)</text>
<text transform="translate(409.80,290.20) rotate(-45)" font-size="8.45" text-anchor="end" font-weight="bold" fill="#111"  stroke="#111" stroke-width="0.18">PC9/GR (10µM)</text>
<text transform="translate(439.20,290.20) rotate(-45)" font-size="8.45" text-anchor="end" font-weight="bold" fill="#111"  stroke="#111" stroke-width="0.18">PC9/GR (20µM)</text>
<line x1="512.50" y1="173.60" x2="512.50" y2="280.30" stroke="#222" stroke-width="1" />
<line x1="512.00" y1="279.80" x2="672.80" y2="279.80" stroke="#222" stroke-width="1" />
<line x1="508.50" y1="279.80" x2="512.50" y2="279.80" stroke="#222" stroke-width="1" />
<text x="507.80" y="282.30" font-size="7.0" text-anchor="end" font-weight="bold" fill="#111"  stroke="#111" stroke-width="0.18">0</text>
<line x1="508.50" y1="258.56" x2="512.50" y2="258.56" stroke="#222" stroke-width="1" />
<text x="507.80" y="261.06" font-size="7.0" text-anchor="end" font-weight="bold" fill="#111"  stroke="#111" stroke-width="0.18">5</text>
<line x1="508.50" y1="237.32" x2="512.50" y2="237.32" stroke="#222" stroke-width="1" />
<text x="507.80" y="239.82" font-size="7.0" text-anchor="end" font-weight="bold" fill="#111"  stroke="#111" stroke-width="0.18">10</text>
<line x1="508.50" y1="216.08" x2="512.50" y2="216.08" stroke="#222" stroke-width="1" />
<text x="507.80" y="218.58" font-size="7.0" text-anchor="end" font-weight="bold" fill="#111"  stroke="#111" stroke-width="0.18">15</text>
<line x1="508.50" y1="194.84" x2="512.50" y2="194.84" stroke="#222" stroke-width="1" />
<text x="507.80" y="197.34" font-size="7.0" text-anchor="end" font-weight="bold" fill="#111"  stroke="#111" stroke-width="0.18">20</text>
<line x1="508.50" y1="173.60" x2="512.50" y2="173.60" stroke="#222" stroke-width="1" />
<text x="507.80" y="176.10" font-size="7.0" text-anchor="end" font-weight="bold" fill="#111"  stroke="#111" stroke-width="0.18">25</text>
<text transform="translate(490.90,227.50) rotate(-90)" font-size="8.42" text-anchor="middle" font-weight="bold" fill="#111"  stroke="#111" stroke-width="0.18">Relative LINC00969 expression</text>
<rect x="524.05" y="275.55" width="18.30" height="4.25" fill="#fff" stroke="#111" stroke-width="0.9"/>
<line x1="533.20" y1="279.80" x2="533.20" y2="283.80" stroke="#222" stroke-width="1" />
<circle cx="529.20" cy="275.55" r="1.25" fill="#111"/>
<circle cx="533.20" cy="275.55" r="1.25" fill="#111"/>
<circle cx="537.20" cy="275.55" r="1.25" fill="#111"/>
<rect x="553.75" y="264.93" width="18.30" height="14.87" fill="#000" />
<line x1="562.90" y1="279.80" x2="562.90" y2="283.80" stroke="#222" stroke-width="1" />
<line x1="562.90" y1="264.93" x2="562.90" y2="262.38" stroke="#111" stroke-width="1.0" />
<line x1="558.30" y1="262.38" x2="567.50" y2="262.38" stroke="#111" stroke-width="1.1" />
<text x="562.90" y="262.68" font-size="8.2" text-anchor="middle" font-weight="bold" fill="#000"  stroke="#000" stroke-width="0.18">**</text>
<circle cx="562.90" cy="263.23" r="1.25" fill="#111"/>
<rect x="583.25" y="250.91" width="18.30" height="28.89" fill="#5b5b5b" />
<line x1="592.40" y1="279.80" x2="592.40" y2="283.80" stroke="#222" stroke-width="1" />
<line x1="592.40" y1="250.91" x2="592.40" y2="247.94" stroke="#111" stroke-width="1.0" />
<line x1="587.80" y1="247.94" x2="597.00" y2="247.94" stroke="#111" stroke-width="1.1" />
<text x="592.40" y="248.24" font-size="8.2" text-anchor="middle" font-weight="bold" fill="#000"  stroke="#000" stroke-width="0.18">**</text>
<circle cx="592.40" cy="248.79" r="1.25" fill="#111"/>
<circle cx="592.40" cy="252.61" r="1.25" fill="#111"/>
<circle cx="592.40" cy="250.49" r="1.25" fill="#111"/>
<rect x="613.15" y="221.18" width="18.30" height="58.62" fill="#878787" />
<line x1="622.30" y1="279.80" x2="622.30" y2="283.80" stroke="#222" stroke-width="1" />
<line x1="622.30" y1="221.18" x2="622.30" y2="216.08" stroke="#111" stroke-width="1.0" />
<line x1="617.70" y1="216.08" x2="626.90" y2="216.08" stroke="#111" stroke-width="1.1" />
<text x="622.30" y="216.38" font-size="8.2" text-anchor="middle" font-weight="bold" fill="#000"  stroke="#000" stroke-width="0.18">**</text>
<circle cx="619.30" cy="223.73" r="1.25" fill="#111"/>
<circle cx="622.30" cy="216.50" r="1.25" fill="#111"/>
<circle cx="625.30" cy="223.30" r="1.25" fill="#111"/>
<rect x="642.75" y="195.69" width="18.30" height="84.11" fill="#d9d9d9" />
<line x1="651.90" y1="279.80" x2="651.90" y2="283.80" stroke="#222" stroke-width="1" />
<line x1="651.90" y1="195.69" x2="651.90" y2="190.17" stroke="#111" stroke-width="1.0" />
<line x1="647.30" y1="190.17" x2="656.50" y2="190.17" stroke="#111" stroke-width="1.1" />
<text x="651.90" y="190.47" font-size="8.2" text-anchor="middle" font-weight="bold" fill="#000"  stroke="#000" stroke-width="0.18">**</text>
<circle cx="651.90" cy="192.29" r="1.25" fill="#111"/>
<circle cx="651.90" cy="197.81" r="1.25" fill="#111"/>
<circle cx="651.90" cy="199.51" r="1.25" fill="#111"/>
<text transform="translate(539.20,290.20) rotate(-45)" font-size="8.35" text-anchor="end" font-weight="bold" fill="#111"  stroke="#111" stroke-width="0.18">HCC827</text>
<text transform="translate(568.90,290.20) rotate(-45)" font-size="8.35" text-anchor="end" font-weight="bold" fill="#111"  stroke="#111" stroke-width="0.18">HCC827/GR</text>
<text transform="translate(598.40,290.20) rotate(-45)" font-size="8.35" text-anchor="end" font-weight="bold" fill="#111"  stroke="#111" stroke-width="0.18">HCC827/GR (5µM)</text>
<text transform="translate(628.30,290.20) rotate(-45)" font-size="8.35" text-anchor="end" font-weight="bold" fill="#111"  stroke="#111" stroke-width="0.18">HCC827/GR (10µM)</text>
<text transform="translate(657.90,290.20) rotate(-45)" font-size="8.35" text-anchor="end" font-weight="bold" fill="#111"  stroke="#111" stroke-width="0.18">HCC827/GR (20µM)</text>
<rect x="275.50" y="364.30" width="407.00" height="12.30" fill="#ececec" />
<rect x="279.10" y="365.60" width="401.30" height="8.50" fill="#fff" stroke="#444" stroke-width="0.6"/>
<text x="281.2" y="371.4" font-size="4" font-family="Liberation Mono" fill="#222">chr9 (q26)</text>
<rect x="306.80" y="367.80" width="4.70" height="4.70" fill="#555" />
<rect x="311.50" y="367.80" width="2.20" height="4.70" fill="#fff" />
<rect x="313.70" y="367.80" width="9.50" height="4.70" fill="#555" />
<rect x="323.20" y="367.80" width="5.30" height="4.70" fill="#ddd" />
<rect x="328.50" y="367.80" width="3.00" height="4.70" fill="#999" />
<rect x="331.50" y="367.80" width="6.30" height="4.70" fill="#ddd" />
<rect x="337.80" y="367.80" width="13.80" height="4.70" fill="#111" />
<rect x="351.60" y="367.80" width="4.40" height="4.70" fill="#ccc" />
<rect x="356.00" y="367.80" width="8.30" height="4.70" fill="#444" />
<rect x="364.30" y="367.80" width="2.70" height="4.70" fill="#fff" />
<rect x="367.00" y="367.80" width="8.80" height="4.70" fill="#555" />
<rect x="375.80" y="367.80" width="5.20" height="4.70" fill="#ddd" />
<rect x="381.00" y="367.80" width="8.00" height="4.70" fill="#333" />
<rect x="389.00" y="367.80" width="16.00" height="4.70" fill="#888" />
<rect x="405.00" y="367.80" width="4.40" height="4.70" fill="#ddd" />
<rect x="409.40" y="367.80" width="7.30" height="4.70" fill="#555" />
<rect x="416.70" y="367.80" width="8.80" height="4.70" fill="#222" />
<rect x="425.50" y="367.80" width="11.50" height="4.70" fill="#444" />
<rect x="437.00" y="367.80" width="9.00" height="4.70" fill="#222" />
<rect x="446.00" y="367.80" width="10.00" height="4.70" fill="#555" />
<rect x="456.00" y="367.80" width="7.40" height="4.70" fill="#ddd" />
<rect x="463.40" y="367.80" width="7.40" height="4.70" fill="#444" />
<rect x="470.80" y="367.80" width="12.40" height="4.70" fill="#fff" />
<rect x="483.20" y="367.80" width="8.10" height="4.70" fill="#000" />
<rect x="491.30" y="367.80" width="3.70" height="4.70" fill="#eee" />
<rect x="495.00" y="367.80" width="5.00" height="4.70" fill="#ccc" />
<rect x="500.00" y="367.80" width="5.90" height="4.70" fill="#333" />
<rect x="505.90" y="367.80" width="3.60" height="4.70" fill="#ddd" />
<rect x="509.50" y="367.80" width="5.90" height="4.70" fill="#666" />
<rect x="515.40" y="367.80" width="4.30" height="4.70" fill="#ddd" />
<rect x="519.70" y="367.80" width="6.60" height="4.70" fill="#333" />
<rect x="526.30" y="367.80" width="3.70" height="4.70" fill="#ddd" />
<rect x="530.00" y="367.80" width="5.80" height="4.70" fill="#333" />
<rect x="535.80" y="367.80" width="3.70" height="4.70" fill="#ddd" />
<rect x="539.50" y="367.80" width="2.90" height="4.70" fill="#888" />
<rect x="542.40" y="367.80" width="7.30" height="4.70" fill="#ddd" />
<rect x="549.70" y="367.80" width="8.70" height="4.70" fill="#999" />
<rect x="558.40" y="367.80" width="3.60" height="4.70" fill="#ddd" />
<rect x="562.00" y="367.80" width="5.30" height="4.70" fill="#999" />
<rect x="567.30" y="367.80" width="7.30" height="4.70" fill="#888" />
<rect x="574.60" y="367.80" width="12.80" height="4.70" fill="#111" />
<rect x="587.40" y="367.80" width="5.40" height="4.70" fill="#ddd" />
<rect x="592.80" y="367.80" width="4.60" height="4.70" fill="#666" />
<rect x="597.40" y="367.80" width="4.60" height="4.70" fill="#ddd" />
<rect x="602.00" y="367.80" width="3.60" height="4.70" fill="#888" />
<rect x="605.60" y="367.80" width="3.70" height="4.70" fill="#ddd" />
<rect x="609.30" y="367.80" width="11.80" height="4.70" fill="#111" />
<rect x="621.10" y="367.80" width="7.30" height="4.70" fill="#ddd" />
<rect x="628.40" y="367.80" width="8.20" height="4.70" fill="#444" />
<rect x="636.60" y="367.80" width="6.40" height="4.70" fill="#ddd" />
<rect x="643.00" y="367.80" width="7.30" height="4.70" fill="#333" />
<rect x="650.30" y="367.80" width="9.20" height="4.70" fill="#ddd" />
<rect x="659.50" y="367.80" width="8.20" height="4.70" fill="#111" />
<rect x="667.70" y="367.80" width="6.30" height="4.70" fill="#bbb" />
<rect x="674.00" y="367.80" width="2.80" height="4.70" fill="#ddd" />
<rect x="676.80" y="367.80" width="3.60" height="4.70" fill="#999" />
<rect x="306.80" y="367.80" width="369.50" height="4.70" fill="none" stroke="#333" stroke-width="0.6" rx="1.5"/>
<path d="M471.2,367.8 L477,370.15 L471.2,372.5 Z M483,367.8 L477.2,370.15 L483,372.5 Z" fill="#c42020"/>
<text x="339" y="371.3" font-size="3.2" font-family="Liberation Mono" fill="#fff">q33.3</text>
<text x="390" y="371.3" font-size="3.2" font-family="Liberation Mono" fill="#fff">q31.3</text>
<text x="426" y="371.3" font-size="3.2" font-family="Liberation Mono" fill="#fff">q22.33</text>
<text x="575" y="371.3" font-size="3.2" font-family="Liberation Mono" fill="#fff">q22.1</text>
<text x="610" y="371.3" font-size="3.2" font-family="Liberation Mono" fill="#fff">p21.1</text>
<text x="660" y="371.3" font-size="3.2" font-family="Liberation Mono" fill="#fff">p13</text>
<line x1="674.00" y1="365.20" x2="674.00" y2="374.60" stroke="#ff0000" stroke-width="0.8" />
<line x1="310.30" y1="380.50" x2="310.30" y2="425.50" stroke="#e2e2f6" stroke-width="0.55" />
<line x1="314.11" y1="380.50" x2="314.11" y2="425.50" stroke="#e2e2f6" stroke-width="0.55" />
<line x1="317.92" y1="380.50" x2="317.92" y2="425.50" stroke="#e2e2f6" stroke-width="0.55" />
<line x1="321.73" y1="380.50" x2="321.73" y2="425.50" stroke="#e2e2f6" stroke-width="0.55" />
<line x1="325.54" y1="380.50" x2="325.54" y2="425.50" stroke="#e2e2f6" stroke-width="0.55" />
<line x1="329.35" y1="380.50" x2="329.35" y2="425.50" stroke="#e2e2f6" stroke-width="0.55" />
<line x1="333.16" y1="380.50" x2="333.16" y2="425.50" stroke="#e2e2f6" stroke-width="0.55" />
<line x1="336.97" y1="380.50" x2="336.97" y2="425.50" stroke="#e2e2f6" stroke-width="0.55" />
<line x1="340.78" y1="380.50" x2="340.78" y2="425.50" stroke="#e2e2f6" stroke-width="0.55" />
<line x1="344.59" y1="380.50" x2="344.59" y2="425.50" stroke="#e2e2f6" stroke-width="0.55" />
<line x1="348.40" y1="380.50" x2="348.40" y2="425.50" stroke="#e2e2f6" stroke-width="0.55" />
<line x1="352.21" y1="380.50" x2="352.21" y2="425.50" stroke="#e2e2f6" stroke-width="0.55" />
<line x1="356.02" y1="380.50" x2="356.02" y2="425.50" stroke="#e2e2f6" stroke-width="0.55" />
<line x1="359.83" y1="380.50" x2="359.83" y2="425.50" stroke="#e2e2f6" stroke-width="0.55" />
<line x1="363.64" y1="380.50" x2="363.64" y2="425.50" stroke="#e2e2f6" stroke-width="0.55" />
<line x1="367.45" y1="380.50" x2="367.45" y2="425.50" stroke="#e2e2f6" stroke-width="0.55" />
<line x1="371.26" y1="380.50" x2="371.26" y2="425.50" stroke="#e2e2f6" stroke-width="0.55" />
<line x1="375.07" y1="380.50" x2="375.07" y2="425.50" stroke="#e2e2f6" stroke-width="0.55" />
<line x1="378.88" y1="380.50" x2="378.88" y2="425.50" stroke="#e2e2f6" stroke-width="0.55" />
<line x1="382.69" y1="380.50" x2="382.69" y2="425.50" stroke="#e2e2f6" stroke-width="0.55" />
<line x1="386.50" y1="380.50" x2="386.50" y2="425.50" stroke="#e2e2f6" stroke-width="0.55" />
<line x1="390.31" y1="380.50" x2="390.31" y2="425.50" stroke="#e2e2f6" stroke-width="0.55" />
<line x1="394.12" y1="380.50" x2="394.12" y2="425.50" stroke="#e2e2f6" stroke-width="0.55" />
<line x1="397.93" y1="380.50" x2="397.93" y2="425.50" stroke="#e2e2f6" stroke-width="0.55" />
<line x1="401.74" y1="380.50" x2="401.74" y2="425.50" stroke="#e2e2f6" stroke-width="0.55" />
<line x1="405.55" y1="380.50" x2="405.55" y2="425.50" stroke="#e2e2f6" stroke-width="0.55" />
<line x1="409.36" y1="380.50" x2="409.36" y2="425.50" stroke="#e2e2f6" stroke-width="0.55" />
<line x1="413.17" y1="380.50" x2="413.17" y2="425.50" stroke="#e2e2f6" stroke-width="0.55" />
<line x1="416.98" y1="380.50" x2="416.98" y2="425.50" stroke="#e2e2f6" stroke-width="0.55" />
<line x1="420.79" y1="380.50" x2="420.79" y2="425.50" stroke="#e2e2f6" stroke-width="0.55" />
<line x1="424.60" y1="380.50" x2="424.60" y2="425.50" stroke="#e2e2f6" stroke-width="0.55" />
<line x1="428.41" y1="380.50" x2="428.41" y2="425.50" stroke="#e2e2f6" stroke-width="0.55" />
<line x1="432.22" y1="380.50" x2="432.22" y2="425.50" stroke="#e2e2f6" stroke-width="0.55" />
<line x1="436.03" y1="380.50" x2="436.03" y2="425.50" stroke="#e2e2f6" stroke-width="0.55" />
<line x1="439.84" y1="380.50" x2="439.84" y2="425.50" stroke="#e2e2f6" stroke-width="0.55" />
<line x1="443.65" y1="380.50" x2="443.65" y2="425.50" stroke="#e2e2f6" stroke-width="0.55" />
<line x1="447.46" y1="380.50" x2="447.46" y2="425.50" stroke="#e2e2f6" stroke-width="0.55" />
<line x1="451.27" y1="380.50" x2="451.27" y2="425.50" stroke="#e2e2f6" stroke-width="0.55" />
<line x1="455.08" y1="380.50" x2="455.08" y2="425.50" stroke="#e2e2f6" stroke-width="0.55" />
<line x1="458.89" y1="380.50" x2="458.89" y2="425.50" stroke="#e2e2f6" stroke-width="0.55" />
<line x1="462.70" y1="380.50" x2="462.70" y2="425.50" stroke="#e2e2f6" stroke-width="0.55" />
<line x1="466.51" y1="380.50" x2="466.51" y2="425.50" stroke="#e2e2f6" stroke-width="0.55" />
<line x1="470.32" y1="380.50" x2="470.32" y2="425.50" stroke="#e2e2f6" stroke-width="0.55" />
<line x1="474.13" y1="380.50" x2="474.13" y2="425.50" stroke="#e2e2f6" stroke-width="0.55" />
<line x1="477.94" y1="380.50" x2="477.94" y2="425.50" stroke="#e2e2f6" stroke-width="0.55" />
<line x1="481.75" y1="380.50" x2="481.75" y2="425.50" stroke="#e2e2f6" stroke-width="0.55" />
<line x1="485.56" y1="380.50" x2="485.56" y2="425.50" stroke="#e2e2f6" stroke-width="0.55" />
<line x1="489.37" y1="380.50" x2="489.37" y2="425.50" stroke="#e2e2f6" stroke-width="0.55" />
<line x1="493.18" y1="380.50" x2="493.18" y2="425.50" stroke="#e2e2f6" stroke-width="0.55" />
<line x1="496.99" y1="380.50" x2="496.99" y2="425.50" stroke="#e2e2f6" stroke-width="0.55" />
<line x1="500.80" y1="380.50" x2="500.80" y2="425.50" stroke="#e2e2f6" stroke-width="0.55" />
<line x1="504.61" y1="380.50" x2="504.61" y2="425.50" stroke="#e2e2f6" stroke-width="0.55" />
<line x1="508.42" y1="380.50" x2="508.42" y2="425.50" stroke="#e2e2f6" stroke-width="0.55" />
<line x1="512.23" y1="380.50" x2="512.23" y2="425.50" stroke="#e2e2f6" stroke-width="0.55" />
<line x1="516.04" y1="380.50" x2="516.04" y2="425.50" stroke="#e2e2f6" stroke-width="0.55" />
<line x1="519.85" y1="380.50" x2="519.85" y2="425.50" stroke="#e2e2f6" stroke-width="0.55" />
<line x1="523.66" y1="380.50" x2="523.66" y2="425.50" stroke="#e2e2f6" stroke-width="0.55" />
<line x1="527.47" y1="380.50" x2="527.47" y2="425.50" stroke="#e2e2f6" stroke-width="0.55" />
<line x1="531.28" y1="380.50" x2="531.28" y2="425.50" stroke="#e2e2f6" stroke-width="0.55" />
<line x1="535.09" y1="380.50" x2="535.09" y2="425.50" stroke="#e2e2f6" stroke-width="0.55" />
<line x1="538.90" y1="380.50" x2="538.90" y2="425.50" stroke="#e2e2f6" stroke-width="0.55" />
<line x1="542.71" y1="380.50" x2="542.71" y2="425.50" stroke="#e2e2f6" stroke-width="0.55" />
<line x1="546.52" y1="380.50" x2="546.52" y2="425.50" stroke="#e2e2f6" stroke-width="0.55" />
<line x1="550.33" y1="380.50" x2="550.33" y2="425.50" stroke="#e2e2f6" stroke-width="0.55" />
<line x1="554.14" y1="380.50" x2="554.14" y2="425.50" stroke="#e2e2f6" stroke-width="0.55" />
<line x1="557.95" y1="380.50" x2="557.95" y2="425.50" stroke="#e2e2f6" stroke-width="0.55" />
<line x1="561.76" y1="380.50" x2="561.76" y2="425.50" stroke="#e2e2f6" stroke-width="0.55" />
<line x1="565.57" y1="380.50" x2="565.57" y2="425.50" stroke="#e2e2f6" stroke-width="0.55" />
<line x1="569.38" y1="380.50" x2="569.38" y2="425.50" stroke="#e2e2f6" stroke-width="0.55" />
<line x1="573.19" y1="380.50" x2="573.19" y2="425.50" stroke="#e2e2f6" stroke-width="0.55" />
<line x1="577.00" y1="380.50" x2="577.00" y2="425.50" stroke="#e2e2f6" stroke-width="0.55" />
<line x1="580.81" y1="380.50" x2="580.81" y2="425.50" stroke="#e2e2f6" stroke-width="0.55" />
<line x1="584.62" y1="380.50" x2="584.62" y2="425.50" stroke="#e2e2f6" stroke-width="0.55" />
<line x1="588.43" y1="380.50" x2="588.43" y2="425.50" stroke="#e2e2f6" stroke-width="0.55" />
<line x1="592.24" y1="380.50" x2="592.24" y2="425.50" stroke="#e2e2f6" stroke-width="0.55" />
<line x1="596.05" y1="380.50" x2="596.05" y2="425.50" stroke="#e2e2f6" stroke-width="0.55" />
<line x1="599.86" y1="380.50" x2="599.86" y2="425.50" stroke="#e2e2f6" stroke-width="0.55" />
<line x1="603.67" y1="380.50" x2="603.67" y2="425.50" stroke="#e2e2f6" stroke-width="0.55" />
<line x1="607.48" y1="380.50" x2="607.48" y2="425.50" stroke="#e2e2f6" stroke-width="0.55" />
<line x1="611.29" y1="380.50" x2="611.29" y2="425.50" stroke="#e2e2f6" stroke-width="0.55" />
<line x1="615.10" y1="380.50" x2="615.10" y2="425.50" stroke="#e2e2f6" stroke-width="0.55" />
<line x1="618.91" y1="380.50" x2="618.91" y2="425.50" stroke="#e2e2f6" stroke-width="0.55" />
<line x1="622.72" y1="380.50" x2="622.72" y2="425.50" stroke="#e2e2f6" stroke-width="0.55" />
<line x1="626.53" y1="380.50" x2="626.53" y2="425.50" stroke="#e2e2f6" stroke-width="0.55" />
<line x1="630.34" y1="380.50" x2="630.34" y2="425.50" stroke="#e2e2f6" stroke-width="0.55" />
<line x1="634.15" y1="380.50" x2="634.15" y2="425.50" stroke="#e2e2f6" stroke-width="0.55" />
<line x1="637.96" y1="380.50" x2="637.96" y2="425.50" stroke="#e2e2f6" stroke-width="0.55" />
<line x1="641.77" y1="380.50" x2="641.77" y2="425.50" stroke="#e2e2f6" stroke-width="0.55" />
<line x1="645.58" y1="380.50" x2="645.58" y2="425.50" stroke="#e2e2f6" stroke-width="0.55" />
<line x1="649.39" y1="380.50" x2="649.39" y2="425.50" stroke="#e2e2f6" stroke-width="0.55" />
<line x1="653.20" y1="380.50" x2="653.20" y2="425.50" stroke="#e2e2f6" stroke-width="0.55" />
<line x1="657.01" y1="380.50" x2="657.01" y2="425.50" stroke="#e2e2f6" stroke-width="0.55" />
<line x1="660.82" y1="380.50" x2="660.82" y2="425.50" stroke="#e2e2f6" stroke-width="0.55" />
<line x1="310.30" y1="380.50" x2="310.30" y2="426.00" stroke="#ffc0c0" stroke-width="0.6" />
<text x="299.6" y="384.6" font-size="3.4" font-family="Liberation Mono" text-anchor="start" fill="#333">Scale</text>
<text x="299.6" y="387.9" font-size="3.4" font-family="Liberation Mono" text-anchor="start" fill="#333">chr9:</text>
<text x="348.8" y="387.9" font-size="3.4" font-family="Liberation Mono" text-anchor="start" fill="#333">105,424,500|</text>
<text x="423.9" y="387.9" font-size="3.4" font-family="Liberation Mono" text-anchor="start" fill="#333">105,425,000|</text>
<text x="499.9" y="387.9" font-size="3.4" font-family="Liberation Mono" text-anchor="start" fill="#333">105,425,500|</text>
<text x="575.2" y="387.9" font-size="3.4" font-family="Liberation Mono" text-anchor="start" fill="#333">105,426,000|</text>
<text x="403.6" y="384.8" font-size="3.4" font-family="Liberation Mono" text-anchor="start" fill="#333">1 kb|</text>
<line x1="413.50" y1="383.60" x2="563.00" y2="383.60" stroke="#444" stroke-width="0.5" />
<text x="563.2" y="384.8" font-size="3.4" font-family="Liberation Mono" text-anchor="start" fill="#333">|hg19</text>
<text x="466.2" y="390.7" font-size="3.4" font-family="Liberation Mono" text-anchor="start" fill="#333">RefSeq genes from NCBI</text>
<line x1="310.30" y1="393.00" x2="663.90" y2="393.00" stroke="#b8b8e4" stroke-width="1.1" />
<line x1="637.30" y1="393.00" x2="651.90" y2="393.00" stroke="#6a6ac4" stroke-width="1.8" />
<text x="630.1" y="390.3" font-size="5.8" font-weight="bold" font-style="italic" fill="#111">LINC00969</text>
<text x="442.7" y="396.9" font-size="3.4" font-family="Liberation Mono" text-anchor="start" fill="#4a4ab0">UCSC annotations of RefSeq RNAs (NM_* and NR_*)</text>
<line x1="310.30" y1="398.90" x2="663.90" y2="398.90" stroke="#bcbce6" stroke-width="1.1" stroke-dasharray="2,1"/>
<circle cx="312.8" cy="398.9" r="1.2" fill="#7070c0"/><circle cx="661.4" cy="398.9" r="1.2" fill="#7070c0"/>
<text x="413" y="402.7" font-size="3.4" font-family="Liberation Mono" text-anchor="start" fill="#333">H3K4me1 Mark (Often Found Near Regulatory Elements) on 7 cell lines from ENCODE</text>
<text x="300.5" y="404.3" font-size="3.2" font-family="Liberation Mono" text-anchor="start" fill="#333">50 _</text>
<text x="303.5" y="413.3" font-size="3.2" font-family="Liberation Mono" text-anchor="start" fill="#333">0 _</text>
<text x="298.8" y="415.8" font-size="3.2" font-family="Liberation Mono" text-anchor="start" fill="#333">100 _</text>
<text x="303.5" y="425.3" font-size="3.2" font-family="Liberation Mono" text-anchor="start" fill="#333">0 _</text>
<polygon points="310.8,412.4 310.8,409.7 318,410.2 330,409.4 340,408.6 348,408.3 348.5,406.1 352,406.1 352.5,405.1 355.5,405.1 356,403.4 505,403.4 510,403.8 513,405 517,406.6 520,408.3 525,407.2 530,405.5 537,404.4 549,404.4 558,405.5 569,407 580,408.3 600,409.3 617,410.3 640,410.8 663.8,411 663.8,412.4" fill="#8282fc"/>
<line x1="356.00" y1="403.50" x2="510.00" y2="403.50" stroke="#a050e0" stroke-width="0.7" />
<polygon points="345,412.4 345,410.8 352,409.5 356,404.1 505,404.1 510,404.6 513,405.8 517,407.4 520,408.9 525,408.2 530,407.2 537,406.6 549,406.6 558,407.4 569,408.3 580,409.1 600,409.9 663.8,411.2 663.8,412.4" fill="#6652ec"/>
<polygon points="408,405.1 440,404.9 470,405.5 505,405.7 505,406.8 470,406.9 440,406.6 408,406.5" fill="#8686fa"/>
<polygon points="350,412.4 350,411.2 370,410.3 385,409.1 400,407.9 420,407.3 460,407.1 500,407.4 515,408.1 525,409.1 540,408.9 560,409.1 580,409.8 663.8,411.4 663.8,412.4" fill="#5532c6"/>
<polygon points="330,412.4 330,411.5 360,411.0 380,410.4 400,409.9 460,409.5 500,409.6 520,410.2 540,409.9 580,410.5 620,411.2 663.8,411.5 663.8,412.4" fill="#2a1252"/>
<polygon points="540,411.3 540,410.0 560,409.6 590,409.9 610,410.6 625,411.1 625,411.3" fill="#7a2a6a"/>
<polygon points="628,411.6 628,411.2 635,410.2 650,410 662,410.3 663.8,411 663.8,411.6" fill="#e060d8"/>
<line x1="310.80" y1="412.30" x2="663.80" y2="412.30" stroke="#1a0a3a" stroke-width="1.0" />
<text x="406" y="415.3" font-size="3.4" font-family="Liberation Mono" text-anchor="start" fill="#333">H3K27Ac Mark (Often Found Near Active Regulatory Elements) on 7 cell lines from ENCODE</text>
<polygon points="310.8,425.3 310.8,424.4 330,424 340,423.2 348,423.2 349,421.9 359,421.9 360,420.1 367,420.1 368,418 371,417.3 372,416.8 385,416.8 388,417.8 392,417.8 393,416.8 400,416.8 405,416.3 498,416.3 504,418 509,420.1 514,422.3 520,423 542,423.2 550,422.3 555,421.5 572,421.5 580,422.3 590,423 602,424.2 663.8,424.6 663.8,425.3" fill="#7c7cfa"/>
<line x1="405.00" y1="416.40" x2="498.00" y2="416.40" stroke="#8a50e0" stroke-width="0.6" />
<polygon points="340,425.3 340,424.9 358,424.2 380,423.6 420,423.3 480,423.3 520,424 560,424.3 600,424.6 663.8,424.8 663.8,425.3" fill="#5e40c4"/>
<line x1="310.80" y1="425.20" x2="663.80" y2="425.20" stroke="#502070" stroke-width="0.8" />
<text x="263.0" y="408.9" font-size="4.8" font-weight="bold" font-style="italic" fill="#111" textLength="36.4" lengthAdjust="spacingAndGlyphs">Layered H3K4me1</text>
<text x="263.0" y="422.6" font-size="4.8" font-weight="bold" font-style="italic" fill="#111" textLength="36.8" lengthAdjust="spacingAndGlyphs">Layered H3K27Ac</text>
<line x1="294.50" y1="455.50" x2="294.50" y2="522.60" stroke="#222" stroke-width="1" />
<line x1="292.50" y1="522.60" x2="297.00" y2="522.60" stroke="#222" stroke-width="1" />
<line x1="294.50" y1="530.60" x2="294.50" y2="575.60" stroke="#222" stroke-width="1" />
<line x1="292.50" y1="530.60" x2="297.00" y2="530.60" stroke="#222" stroke-width="1" />
<line x1="294.00" y1="575.10" x2="455.00" y2="575.10" stroke="#222" stroke-width="1" />
<line x1="290.50" y1="455.50" x2="294.50" y2="455.50" stroke="#222" stroke-width="1" />
<text x="289.50" y="458.00" font-size="7.3" text-anchor="end" font-weight="bold" fill="#111"  stroke="#111" stroke-width="0.18">150</text>
<line x1="290.50" y1="489.05" x2="294.50" y2="489.05" stroke="#222" stroke-width="1" />
<text x="289.50" y="491.55" font-size="7.3" text-anchor="end" font-weight="bold" fill="#111"  stroke="#111" stroke-width="0.18">100</text>
<line x1="290.50" y1="575.10" x2="294.50" y2="575.10" stroke="#222" stroke-width="1" />
<text x="289.50" y="577.60" font-size="7.3" text-anchor="end" font-weight="bold" fill="#111"  stroke="#111" stroke-width="0.18">0.0</text>
<line x1="290.50" y1="560.27" x2="294.50" y2="560.27" stroke="#222" stroke-width="1" />
<text x="289.50" y="562.77" font-size="7.3" text-anchor="end" font-weight="bold" fill="#111"  stroke="#111" stroke-width="0.18">0.2</text>
<line x1="290.50" y1="545.43" x2="294.50" y2="545.43" stroke="#222" stroke-width="1" />
<text x="289.50" y="547.93" font-size="7.3" text-anchor="end" font-weight="bold" fill="#111"  stroke="#111" stroke-width="0.18">0.4</text>
<line x1="290.50" y1="530.60" x2="294.50" y2="530.60" stroke="#222" stroke-width="1" />
<text x="289.50" y="533.10" font-size="7.3" text-anchor="end" font-weight="bold" fill="#111"  stroke="#111" stroke-width="0.18">0.6</text>
<text transform="translate(272.60,516.40) rotate(-90)" font-size="8.47" text-anchor="middle" font-weight="bold" fill="#111"  stroke="#111" stroke-width="0.18">Relative to Input (%)</text>
<line x1="332.70" y1="575.10" x2="332.70" y2="578.90" stroke="#222" stroke-width="1" />
<text x="332.70" y="587.60" font-size="8.2" text-anchor="middle" font-weight="bold" fill="#111"  stroke="#111" stroke-width="0.18">IgG</text>
<line x1="415.30" y1="575.10" x2="415.30" y2="578.90" stroke="#222" stroke-width="1" />
<text x="415.30" y="587.60" font-size="8.2" text-anchor="middle" font-weight="bold" fill="#111"  stroke="#111" stroke-width="0.18">H3K4me1</text>
<rect x="304.10" y="573.25" width="24.40" height="1.85" fill="#fff" stroke="#222" stroke-width="0.9"/>
<rect x="337.90" y="572.48" width="24.10" height="2.62" fill="#000" />
<path d="M386.8,522.6 V518.9095 H410.8 V522.6 M386.8,530.6 V575.1 M410.8,530.6 V575.1" fill="none" stroke="#222" stroke-width="1"/>
<circle cx="393.80" cy="518.61" r="1.1" fill="#222"/>
<circle cx="398.80" cy="518.61" r="1.1" fill="#222"/>
<circle cx="403.80" cy="518.61" r="1.1" fill="#222"/>
<rect x="420.80" y="492.74" width="24.30" height="29.86" fill="#000" />
<rect x="420.80" y="530.60" width="24.30" height="44.50" fill="#000" />
<rect x="424.70" y="453.90" width="9.20" height="2.80" fill="#fff" stroke="#222" stroke-width="0.7"/>
<rect x="424.70" y="461.90" width="9.20" height="3.20" fill="#000" />
<text x="437.00" y="457.70" font-size="6.3" text-anchor="start" font-weight="normal" fill="#000" textLength="10.4" lengthAdjust="spacingAndGlyphs" stroke="#000" stroke-width="0.12">PC9</text>
<text x="437.00" y="465.70" font-size="6.3" text-anchor="start" font-weight="normal" fill="#000" textLength="20.6" lengthAdjust="spacingAndGlyphs" stroke="#000" stroke-width="0.12">PC9/GR</text>
<line x1="399.20" y1="485.30" x2="433.40" y2="485.30" stroke="#222" stroke-width="0.9" />
<polygon points="413.00,480.80 413.50,482.01 414.81,482.11 413.81,482.96 414.12,484.24 413.00,483.55 411.88,484.24 412.19,482.96 411.19,482.11 412.50,482.01" fill="#000"/>
<polygon points="419.60,480.80 420.10,482.01 421.41,482.11 420.41,482.96 420.72,484.24 419.60,483.55 418.48,484.24 418.79,482.96 417.79,482.11 419.10,482.01" fill="#000"/>
<line x1="433.30" y1="489.70" x2="433.30" y2="493.00" stroke="#222" stroke-width="0.8" />
<line x1="427.70" y1="489.70" x2="438.90" y2="489.70" stroke="#222" stroke-width="0.8" />
<line x1="511.00" y1="455.70" x2="511.00" y2="523.10" stroke="#222" stroke-width="1" />
<line x1="509.00" y1="523.10" x2="513.50" y2="523.10" stroke="#222" stroke-width="1" />
<line x1="511.00" y1="530.60" x2="511.00" y2="575.60" stroke="#222" stroke-width="1" />
<line x1="509.00" y1="530.60" x2="513.50" y2="530.60" stroke="#222" stroke-width="1" />
<line x1="510.50" y1="575.10" x2="671.00" y2="575.10" stroke="#222" stroke-width="1" />
<line x1="507.00" y1="455.70" x2="511.00" y2="455.70" stroke="#222" stroke-width="1" />
<text x="506.00" y="458.20" font-size="7.3" text-anchor="end" font-weight="bold" fill="#111"  stroke="#111" stroke-width="0.18">80</text>
<line x1="507.00" y1="472.98" x2="511.00" y2="472.98" stroke="#222" stroke-width="1" />
<text x="506.00" y="475.48" font-size="7.3" text-anchor="end" font-weight="bold" fill="#111"  stroke="#111" stroke-width="0.18">60</text>
<line x1="507.00" y1="490.26" x2="511.00" y2="490.26" stroke="#222" stroke-width="1" />
<text x="506.00" y="492.76" font-size="7.3" text-anchor="end" font-weight="bold" fill="#111"  stroke="#111" stroke-width="0.18">40</text>
<line x1="507.00" y1="507.55" x2="511.00" y2="507.55" stroke="#222" stroke-width="1" />
<text x="506.00" y="510.05" font-size="7.3" text-anchor="end" font-weight="bold" fill="#111"  stroke="#111" stroke-width="0.18">20</text>
<line x1="507.00" y1="575.10" x2="511.00" y2="575.10" stroke="#222" stroke-width="1" />
<text x="506.00" y="577.60" font-size="7.3" text-anchor="end" font-weight="bold" fill="#111"  stroke="#111" stroke-width="0.18">0.0</text>
<line x1="507.00" y1="560.27" x2="511.00" y2="560.27" stroke="#222" stroke-width="1" />
<text x="506.00" y="562.77" font-size="7.3" text-anchor="end" font-weight="bold" fill="#111"  stroke="#111" stroke-width="0.18">0.2</text>
<line x1="507.00" y1="545.43" x2="511.00" y2="545.43" stroke="#222" stroke-width="1" />
<text x="506.00" y="547.93" font-size="7.3" text-anchor="end" font-weight="bold" fill="#111"  stroke="#111" stroke-width="0.18">0.4</text>
<line x1="507.00" y1="530.60" x2="511.00" y2="530.60" stroke="#222" stroke-width="1" />
<text x="506.00" y="533.10" font-size="7.3" text-anchor="end" font-weight="bold" fill="#111"  stroke="#111" stroke-width="0.18">0.6</text>
<text transform="translate(490.70,516.40) rotate(-90)" font-size="8.47" text-anchor="middle" font-weight="bold" fill="#111"  stroke="#111" stroke-width="0.18">Relative to Input (%)</text>
<line x1="550.20" y1="575.10" x2="550.20" y2="578.90" stroke="#222" stroke-width="1" />
<text x="550.20" y="587.60" font-size="8.2" text-anchor="middle" font-weight="bold" fill="#111"  stroke="#111" stroke-width="0.18">IgG</text>
<line x1="632.40" y1="575.10" x2="632.40" y2="578.90" stroke="#222" stroke-width="1" />
<text x="632.40" y="587.60" font-size="8.2" text-anchor="middle" font-weight="bold" fill="#111"  stroke="#111" stroke-width="0.18">H3K27Ac</text>
<rect x="521.30" y="573.25" width="23.10" height="1.85" fill="#fff" stroke="#222" stroke-width="0.9"/>
<rect x="555.40" y="572.48" width="23.20" height="2.62" fill="#000" />
<path d="M603.5,521.4582051282051 H627.2 M603.5,530.6 V575.1 M627.2,530.6 V575.1" fill="none" stroke="#222" stroke-width="1.1"/>
<circle cx="610.35" cy="521.16" r="1.1" fill="#222"/>
<circle cx="615.35" cy="521.16" r="1.1" fill="#222"/>
<circle cx="620.35" cy="521.16" r="1.1" fill="#222"/>
<rect x="637.20" y="490.70" width="23.60" height="32.40" fill="#000" />
<rect x="637.20" y="530.60" width="23.60" height="44.50" fill="#000" />
<rect x="640.30" y="453.90" width="9.20" height="2.80" fill="#fff" stroke="#222" stroke-width="0.7"/>
<rect x="640.30" y="461.90" width="9.20" height="3.20" fill="#000" />
<text x="652.60" y="457.70" font-size="6.3" text-anchor="start" font-weight="normal" fill="#000" textLength="10.4" lengthAdjust="spacingAndGlyphs" stroke="#000" stroke-width="0.12">PC9</text>
<text x="652.60" y="465.70" font-size="6.3" text-anchor="start" font-weight="normal" fill="#000" textLength="20.6" lengthAdjust="spacingAndGlyphs" stroke="#000" stroke-width="0.12">PC9/GR</text>
<line x1="615.90" y1="481.30" x2="649.00" y2="481.30" stroke="#222" stroke-width="0.9" />
<polygon points="629.15,476.80 629.65,478.01 630.96,478.11 629.96,478.96 630.27,480.24 629.15,479.55 628.03,480.24 628.34,478.96 627.34,478.11 628.65,478.01" fill="#000"/>
<polygon points="635.75,476.80 636.25,478.01 637.56,478.11 636.56,478.96 636.87,480.24 635.75,479.55 634.63,480.24 634.94,478.96 633.94,478.11 635.25,478.01" fill="#000"/>
<line x1="649.00" y1="485.70" x2="649.00" y2="491.00" stroke="#222" stroke-width="0.8" />
<line x1="643.80" y1="485.70" x2="654.20" y2="485.70" stroke="#222" stroke-width="0.8" />
<circle cx="429.3" cy="495.0" r="1.0" fill="#9a9a9a"/>
<circle cx="436.9" cy="494.0" r="1.0" fill="#9a9a9a"/>
<circle cx="433.3" cy="492.6" r="1.0" fill="#9a9a9a"/>
<circle cx="649" cy="491.8" r="1.0" fill="#9a9a9a"/>
<circle cx="649" cy="494.8" r="1.0" fill="#9a9a9a"/>
<circle cx="311.80" cy="573.2" r="0.9" fill="#333"/>
<circle cx="316.30" cy="573.2" r="0.9" fill="#333"/>
<circle cx="320.80" cy="573.2" r="0.9" fill="#333"/>
<circle cx="345.45" cy="573.2" r="0.9" fill="#333"/>
<circle cx="349.95" cy="573.2" r="0.9" fill="#333"/>
<circle cx="354.45" cy="573.2" r="0.9" fill="#333"/>
<circle cx="528.35" cy="573.2" r="0.9" fill="#333"/>
<circle cx="532.85" cy="573.2" r="0.9" fill="#333"/>
<circle cx="537.35" cy="573.2" r="0.9" fill="#333"/>
<circle cx="562.50" cy="573.2" r="0.9" fill="#333"/>
<circle cx="567.00" cy="573.2" r="0.9" fill="#333"/>
<circle cx="571.50" cy="573.2" r="0.9" fill="#333"/>
<text x="289.50" y="525.10" font-size="7.3" text-anchor="end" font-weight="bold" fill="#111"  stroke="#111" stroke-width="0.18">50</text>
</svg></body></html>
